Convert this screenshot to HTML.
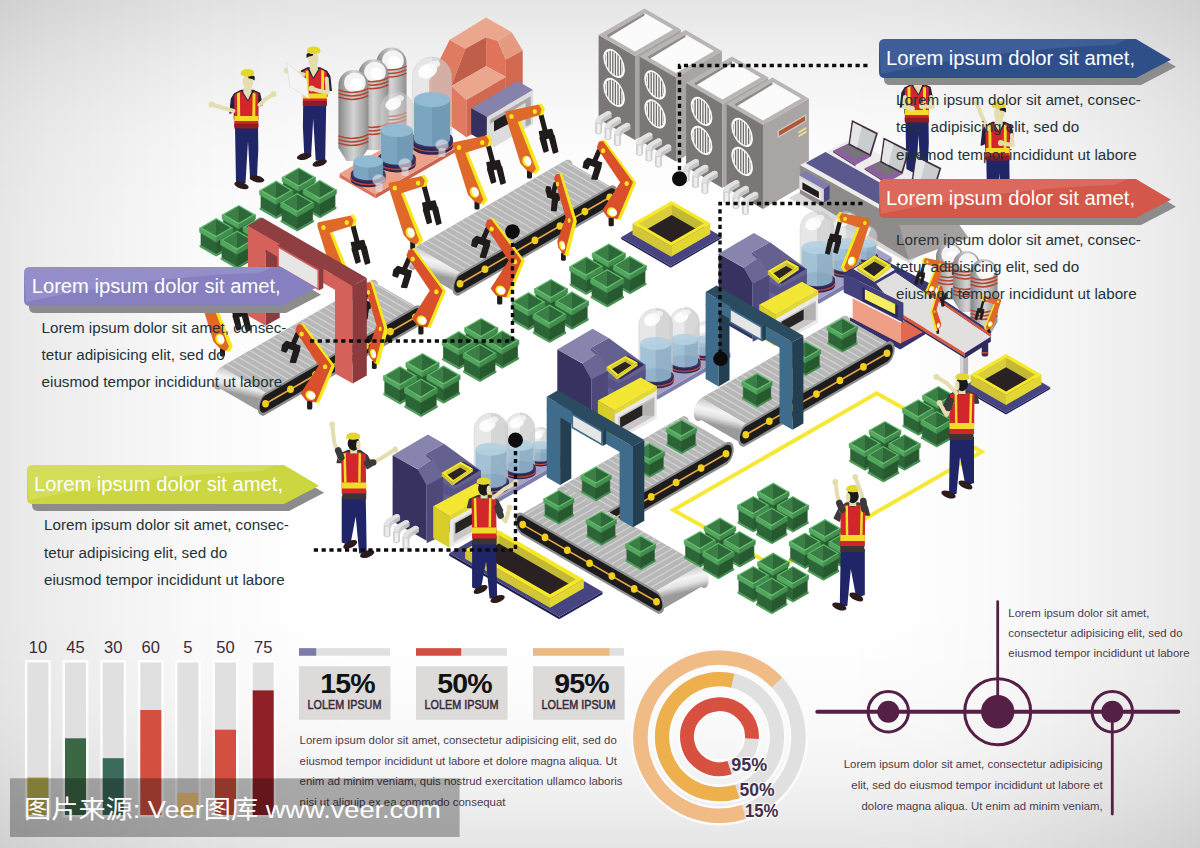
<!DOCTYPE html>
<html lang="zh"><head><meta charset="utf-8"><title>Factory infographic</title>
<style>html,body{margin:0;padding:0;background:#fff}body{width:1200px;height:848px;overflow:hidden}svg{display:block}text{font-family:'Liberation Sans', 'Noto Sans CJK SC', sans-serif}</style></head>
<body>
<svg width="1200" height="848" viewBox="0 0 1200 848">
<defs>
<linearGradient id="bgh" x1="0" y1="0" x2="1" y2="0"><stop offset="0.0000" stop-color="#000" stop-opacity="0.0941"/><stop offset="0.0500" stop-color="#000" stop-opacity="0.0667"/><stop offset="0.1000" stop-color="#000" stop-opacity="0.0471"/><stop offset="0.1667" stop-color="#000" stop-opacity="0.0196"/><stop offset="0.2500" stop-color="#000" stop-opacity="0.0039"/><stop offset="0.3167" stop-color="#000" stop-opacity="0.0000"/><stop offset="0.6833" stop-color="#000" stop-opacity="0.0000"/><stop offset="0.7500" stop-color="#000" stop-opacity="0.0039"/><stop offset="0.8333" stop-color="#000" stop-opacity="0.0196"/><stop offset="0.9000" stop-color="#000" stop-opacity="0.0471"/><stop offset="0.9500" stop-color="#000" stop-opacity="0.0667"/><stop offset="1.0000" stop-color="#000" stop-opacity="0.0941"/></linearGradient><linearGradient id="bgv" x1="0" y1="0" x2="0" y2="1"><stop offset="0.0000" stop-color="#000" stop-opacity="0.1020"/><stop offset="0.0708" stop-color="#000" stop-opacity="0.0549"/><stop offset="0.1297" stop-color="#000" stop-opacity="0.0275"/><stop offset="0.1651" stop-color="#000" stop-opacity="0.0157"/><stop offset="0.2358" stop-color="#000" stop-opacity="0.0039"/><stop offset="0.2948" stop-color="#000" stop-opacity="0.0000"/><stop offset="0.7052" stop-color="#000" stop-opacity="0.0000"/><stop offset="0.7642" stop-color="#000" stop-opacity="0.0039"/><stop offset="0.8349" stop-color="#000" stop-opacity="0.0157"/><stop offset="0.8703" stop-color="#000" stop-opacity="0.0275"/><stop offset="0.9292" stop-color="#000" stop-opacity="0.0549"/><stop offset="1.0000" stop-color="#000" stop-opacity="0.1020"/></linearGradient>
</defs>
<rect x="0.0" y="0.0" width="1200.0" height="848.0" fill="#ffffff" /><rect x="0.0" y="0.0" width="1200.0" height="848.0" fill="url(#bgh)" /><rect x="0.0" y="0.0" width="1200.0" height="848.0" fill="url(#bgv)" />
<g id="illustration">
<polygon points="876.7,393.3 981.7,451.7 778.3,568.4 673.3,510.0" fill="none" stroke="#f5e836" stroke-width="4" stroke-linejoin="miter"/><polygon points="635.0,140.0 598.6,119.0 598.6,35.0 635.0,56.0" fill="#7b7776" /><polygon points="635.0,140.0 680.9,113.5 680.9,29.5 635.0,56.0" fill="#a9a5a4" /><polygon points="635.0,56.0 598.6,35.0 644.5,8.5 680.9,29.5" fill="#b9b5b4" /><polygon points="635.0,51.5 606.4,35.0 644.5,13.0 673.1,29.5" fill="#fbfbfb" /><polygon points="606.4,35.0 644.5,13.0 644.5,15.5 608.4,37.5" fill="#8f8b8a" /><g transform="translate(614.1,63.4) matrix(1,0.577,0,1,0,0)"><ellipse cx="0.0" cy="0.0" rx="10.8" ry="13.2" fill="#ffffff" /><ellipse cx="0.0" cy="0.0" rx="9.0" ry="11.4" fill="#6f6b6a" /><line x1="-7.8" y1="-5.7" x2="-7.8" y2="5.7" stroke="#ffffff" stroke-width="1.25" /><line x1="-5.2" y1="-9.3" x2="-5.2" y2="9.3" stroke="#ffffff" stroke-width="1.25" /><line x1="-2.6" y1="-10.9" x2="-2.6" y2="10.9" stroke="#ffffff" stroke-width="1.25" /><line x1="0.0" y1="-11.4" x2="0.0" y2="11.4" stroke="#ffffff" stroke-width="1.25" /><line x1="2.6" y1="-10.9" x2="2.6" y2="10.9" stroke="#ffffff" stroke-width="1.25" /><line x1="5.2" y1="-9.3" x2="5.2" y2="9.3" stroke="#ffffff" stroke-width="1.25" /><line x1="7.8" y1="-5.7" x2="7.8" y2="5.7" stroke="#ffffff" stroke-width="1.25" /></g><g transform="translate(614.1,92.4) matrix(1,0.577,0,1,0,0)"><ellipse cx="0.0" cy="0.0" rx="10.8" ry="13.2" fill="#ffffff" /><ellipse cx="0.0" cy="0.0" rx="9.0" ry="11.4" fill="#6f6b6a" /><line x1="-7.8" y1="-5.7" x2="-7.8" y2="5.7" stroke="#ffffff" stroke-width="1.25" /><line x1="-5.2" y1="-9.3" x2="-5.2" y2="9.3" stroke="#ffffff" stroke-width="1.25" /><line x1="-2.6" y1="-10.9" x2="-2.6" y2="10.9" stroke="#ffffff" stroke-width="1.25" /><line x1="0.0" y1="-11.4" x2="0.0" y2="11.4" stroke="#ffffff" stroke-width="1.25" /><line x1="2.6" y1="-10.9" x2="2.6" y2="10.9" stroke="#ffffff" stroke-width="1.25" /><line x1="5.2" y1="-9.3" x2="5.2" y2="9.3" stroke="#ffffff" stroke-width="1.25" /><line x1="7.8" y1="-5.7" x2="7.8" y2="5.7" stroke="#ffffff" stroke-width="1.25" /></g><path d="M595.1,132.7 l0,-10 q0.5,-5 5,-7.5 l7,-4 q3,-1 4.5,2 l0,4 l-7.5,4.5 q-2,1.5 -2,4 l0,7 q-3.5,3.5 -7,0 Z" fill="#cbcbcb" opacity="0.93"/><path d="M595.1,122.7 q0.5,-5 5,-7.5 l7,-4 q3,-1 4.5,2 l-8,4.5 q-3,2 -3.5,5 Z" fill="#e4e4e4" opacity="0.95"/><path d="M596.9,123.7 l0,9 q1.7,1.6 3.4,0 l0,-9 Z" fill="#f6f6f6" opacity="0.8"/><path d="M604.5,138.6 l0,-10 q0.5,-5 5,-7.5 l7,-4 q3,-1 4.5,2 l0,4 l-7.5,4.5 q-2,1.5 -2,4 l0,7 q-3.5,3.5 -7,0 Z" fill="#cbcbcb" opacity="0.93"/><path d="M604.5,128.6 q0.5,-5 5,-7.5 l7,-4 q3,-1 4.5,2 l-8,4.5 q-3,2 -3.5,5 Z" fill="#e4e4e4" opacity="0.95"/><path d="M606.3,129.6 l0,9 q1.7,1.6 3.4,0 l0,-9 Z" fill="#f6f6f6" opacity="0.8"/><path d="M613.9,144.5 l0,-10 q0.5,-5 5,-7.5 l7,-4 q3,-1 4.5,2 l0,4 l-7.5,4.5 q-2,1.5 -2,4 l0,7 q-3.5,3.5 -7,0 Z" fill="#cbcbcb" opacity="0.93"/><path d="M613.9,134.5 q0.5,-5 5,-7.5 l7,-4 q3,-1 4.5,2 l-8,4.5 q-3,2 -3.5,5 Z" fill="#e4e4e4" opacity="0.95"/><path d="M615.7,135.5 l0,9 q1.7,1.6 3.4,0 l0,-9 Z" fill="#f6f6f6" opacity="0.8"/><polygon points="676.0,161.5 639.6,140.5 639.6,56.5 676.0,77.5" fill="#7b7776" /><polygon points="676.0,161.5 721.9,135.0 721.9,51.0 676.0,77.5" fill="#a9a5a4" /><polygon points="676.0,77.5 639.6,56.5 685.5,30.0 721.9,51.0" fill="#b9b5b4" /><polygon points="676.0,73.0 647.4,56.5 685.5,34.5 714.1,51.0" fill="#fbfbfb" /><polygon points="647.4,56.5 685.5,34.5 685.5,37.0 649.4,59.0" fill="#8f8b8a" /><g transform="translate(655.1,84.9) matrix(1,0.577,0,1,0,0)"><ellipse cx="0.0" cy="0.0" rx="10.8" ry="13.2" fill="#ffffff" /><ellipse cx="0.0" cy="0.0" rx="9.0" ry="11.4" fill="#6f6b6a" /><line x1="-7.8" y1="-5.7" x2="-7.8" y2="5.7" stroke="#ffffff" stroke-width="1.25" /><line x1="-5.2" y1="-9.3" x2="-5.2" y2="9.3" stroke="#ffffff" stroke-width="1.25" /><line x1="-2.6" y1="-10.9" x2="-2.6" y2="10.9" stroke="#ffffff" stroke-width="1.25" /><line x1="0.0" y1="-11.4" x2="0.0" y2="11.4" stroke="#ffffff" stroke-width="1.25" /><line x1="2.6" y1="-10.9" x2="2.6" y2="10.9" stroke="#ffffff" stroke-width="1.25" /><line x1="5.2" y1="-9.3" x2="5.2" y2="9.3" stroke="#ffffff" stroke-width="1.25" /><line x1="7.8" y1="-5.7" x2="7.8" y2="5.7" stroke="#ffffff" stroke-width="1.25" /></g><g transform="translate(655.1,113.9) matrix(1,0.577,0,1,0,0)"><ellipse cx="0.0" cy="0.0" rx="10.8" ry="13.2" fill="#ffffff" /><ellipse cx="0.0" cy="0.0" rx="9.0" ry="11.4" fill="#6f6b6a" /><line x1="-7.8" y1="-5.7" x2="-7.8" y2="5.7" stroke="#ffffff" stroke-width="1.25" /><line x1="-5.2" y1="-9.3" x2="-5.2" y2="9.3" stroke="#ffffff" stroke-width="1.25" /><line x1="-2.6" y1="-10.9" x2="-2.6" y2="10.9" stroke="#ffffff" stroke-width="1.25" /><line x1="0.0" y1="-11.4" x2="0.0" y2="11.4" stroke="#ffffff" stroke-width="1.25" /><line x1="2.6" y1="-10.9" x2="2.6" y2="10.9" stroke="#ffffff" stroke-width="1.25" /><line x1="5.2" y1="-9.3" x2="5.2" y2="9.3" stroke="#ffffff" stroke-width="1.25" /><line x1="7.8" y1="-5.7" x2="7.8" y2="5.7" stroke="#ffffff" stroke-width="1.25" /></g><path d="M636.1,154.2 l0,-10 q0.5,-5 5,-7.5 l7,-4 q3,-1 4.5,2 l0,4 l-7.5,4.5 q-2,1.5 -2,4 l0,7 q-3.5,3.5 -7,0 Z" fill="#cbcbcb" opacity="0.93"/><path d="M636.1,144.2 q0.5,-5 5,-7.5 l7,-4 q3,-1 4.5,2 l-8,4.5 q-3,2 -3.5,5 Z" fill="#e4e4e4" opacity="0.95"/><path d="M637.9,145.2 l0,9 q1.7,1.6 3.4,0 l0,-9 Z" fill="#f6f6f6" opacity="0.8"/><path d="M645.5,160.1 l0,-10 q0.5,-5 5,-7.5 l7,-4 q3,-1 4.5,2 l0,4 l-7.5,4.5 q-2,1.5 -2,4 l0,7 q-3.5,3.5 -7,0 Z" fill="#cbcbcb" opacity="0.93"/><path d="M645.5,150.1 q0.5,-5 5,-7.5 l7,-4 q3,-1 4.5,2 l-8,4.5 q-3,2 -3.5,5 Z" fill="#e4e4e4" opacity="0.95"/><path d="M647.3,151.1 l0,9 q1.7,1.6 3.4,0 l0,-9 Z" fill="#f6f6f6" opacity="0.8"/><path d="M654.9,166.0 l0,-10 q0.5,-5 5,-7.5 l7,-4 q3,-1 4.5,2 l0,4 l-7.5,4.5 q-2,1.5 -2,4 l0,7 q-3.5,3.5 -7,0 Z" fill="#cbcbcb" opacity="0.93"/><path d="M654.9,156.0 q0.5,-5 5,-7.5 l7,-4 q3,-1 4.5,2 l-8,4.5 q-3,2 -3.5,5 Z" fill="#e4e4e4" opacity="0.95"/><path d="M656.7,157.0 l0,9 q1.7,1.6 3.4,0 l0,-9 Z" fill="#f6f6f6" opacity="0.8"/><polygon points="722.5,188.0 686.1,167.0 686.1,83.0 722.5,104.0" fill="#7b7776" /><polygon points="722.5,188.0 768.4,161.5 768.4,77.5 722.5,104.0" fill="#a9a5a4" /><polygon points="722.5,104.0 686.1,83.0 732.0,56.5 768.4,77.5" fill="#b9b5b4" /><polygon points="722.5,99.5 693.9,83.0 732.0,61.0 760.6,77.5" fill="#fbfbfb" /><polygon points="693.9,83.0 732.0,61.0 732.0,63.5 695.9,85.5" fill="#8f8b8a" /><g transform="translate(701.6,111.4) matrix(1,0.577,0,1,0,0)"><ellipse cx="0.0" cy="0.0" rx="10.8" ry="13.2" fill="#ffffff" /><ellipse cx="0.0" cy="0.0" rx="9.0" ry="11.4" fill="#6f6b6a" /><line x1="-7.8" y1="-5.7" x2="-7.8" y2="5.7" stroke="#ffffff" stroke-width="1.25" /><line x1="-5.2" y1="-9.3" x2="-5.2" y2="9.3" stroke="#ffffff" stroke-width="1.25" /><line x1="-2.6" y1="-10.9" x2="-2.6" y2="10.9" stroke="#ffffff" stroke-width="1.25" /><line x1="0.0" y1="-11.4" x2="0.0" y2="11.4" stroke="#ffffff" stroke-width="1.25" /><line x1="2.6" y1="-10.9" x2="2.6" y2="10.9" stroke="#ffffff" stroke-width="1.25" /><line x1="5.2" y1="-9.3" x2="5.2" y2="9.3" stroke="#ffffff" stroke-width="1.25" /><line x1="7.8" y1="-5.7" x2="7.8" y2="5.7" stroke="#ffffff" stroke-width="1.25" /></g><g transform="translate(701.6,140.4) matrix(1,0.577,0,1,0,0)"><ellipse cx="0.0" cy="0.0" rx="10.8" ry="13.2" fill="#ffffff" /><ellipse cx="0.0" cy="0.0" rx="9.0" ry="11.4" fill="#6f6b6a" /><line x1="-7.8" y1="-5.7" x2="-7.8" y2="5.7" stroke="#ffffff" stroke-width="1.25" /><line x1="-5.2" y1="-9.3" x2="-5.2" y2="9.3" stroke="#ffffff" stroke-width="1.25" /><line x1="-2.6" y1="-10.9" x2="-2.6" y2="10.9" stroke="#ffffff" stroke-width="1.25" /><line x1="0.0" y1="-11.4" x2="0.0" y2="11.4" stroke="#ffffff" stroke-width="1.25" /><line x1="2.6" y1="-10.9" x2="2.6" y2="10.9" stroke="#ffffff" stroke-width="1.25" /><line x1="5.2" y1="-9.3" x2="5.2" y2="9.3" stroke="#ffffff" stroke-width="1.25" /><line x1="7.8" y1="-5.7" x2="7.8" y2="5.7" stroke="#ffffff" stroke-width="1.25" /></g><path d="M682.6,180.7 l0,-10 q0.5,-5 5,-7.5 l7,-4 q3,-1 4.5,2 l0,4 l-7.5,4.5 q-2,1.5 -2,4 l0,7 q-3.5,3.5 -7,0 Z" fill="#cbcbcb" opacity="0.93"/><path d="M682.6,170.7 q0.5,-5 5,-7.5 l7,-4 q3,-1 4.5,2 l-8,4.5 q-3,2 -3.5,5 Z" fill="#e4e4e4" opacity="0.95"/><path d="M684.4,171.7 l0,9 q1.7,1.6 3.4,0 l0,-9 Z" fill="#f6f6f6" opacity="0.8"/><path d="M692.0,186.6 l0,-10 q0.5,-5 5,-7.5 l7,-4 q3,-1 4.5,2 l0,4 l-7.5,4.5 q-2,1.5 -2,4 l0,7 q-3.5,3.5 -7,0 Z" fill="#cbcbcb" opacity="0.93"/><path d="M692.0,176.6 q0.5,-5 5,-7.5 l7,-4 q3,-1 4.5,2 l-8,4.5 q-3,2 -3.5,5 Z" fill="#e4e4e4" opacity="0.95"/><path d="M693.8,177.6 l0,9 q1.7,1.6 3.4,0 l0,-9 Z" fill="#f6f6f6" opacity="0.8"/><path d="M701.4,192.5 l0,-10 q0.5,-5 5,-7.5 l7,-4 q3,-1 4.5,2 l0,4 l-7.5,4.5 q-2,1.5 -2,4 l0,7 q-3.5,3.5 -7,0 Z" fill="#cbcbcb" opacity="0.93"/><path d="M701.4,182.5 q0.5,-5 5,-7.5 l7,-4 q3,-1 4.5,2 l-8,4.5 q-3,2 -3.5,5 Z" fill="#e4e4e4" opacity="0.95"/><path d="M703.2,183.5 l0,9 q1.7,1.6 3.4,0 l0,-9 Z" fill="#f6f6f6" opacity="0.8"/><polygon points="763.0,209.0 726.6,188.0 726.6,104.0 763.0,125.0" fill="#7b7776" /><polygon points="763.0,209.0 808.9,182.5 808.9,98.5 763.0,125.0" fill="#a9a5a4" /><polygon points="763.0,125.0 726.6,104.0 772.5,77.5 808.9,98.5" fill="#b9b5b4" /><polygon points="763.0,120.5 734.4,104.0 772.5,82.0 801.1,98.5" fill="#fbfbfb" /><polygon points="734.4,104.0 772.5,82.0 772.5,84.5 736.4,106.5" fill="#8f8b8a" /><g transform="translate(742.1,132.4) matrix(1,0.577,0,1,0,0)"><ellipse cx="0.0" cy="0.0" rx="10.8" ry="13.2" fill="#ffffff" /><ellipse cx="0.0" cy="0.0" rx="9.0" ry="11.4" fill="#6f6b6a" /><line x1="-7.8" y1="-5.7" x2="-7.8" y2="5.7" stroke="#ffffff" stroke-width="1.25" /><line x1="-5.2" y1="-9.3" x2="-5.2" y2="9.3" stroke="#ffffff" stroke-width="1.25" /><line x1="-2.6" y1="-10.9" x2="-2.6" y2="10.9" stroke="#ffffff" stroke-width="1.25" /><line x1="0.0" y1="-11.4" x2="0.0" y2="11.4" stroke="#ffffff" stroke-width="1.25" /><line x1="2.6" y1="-10.9" x2="2.6" y2="10.9" stroke="#ffffff" stroke-width="1.25" /><line x1="5.2" y1="-9.3" x2="5.2" y2="9.3" stroke="#ffffff" stroke-width="1.25" /><line x1="7.8" y1="-5.7" x2="7.8" y2="5.7" stroke="#ffffff" stroke-width="1.25" /></g><g transform="translate(742.1,161.4) matrix(1,0.577,0,1,0,0)"><ellipse cx="0.0" cy="0.0" rx="10.8" ry="13.2" fill="#ffffff" /><ellipse cx="0.0" cy="0.0" rx="9.0" ry="11.4" fill="#6f6b6a" /><line x1="-7.8" y1="-5.7" x2="-7.8" y2="5.7" stroke="#ffffff" stroke-width="1.25" /><line x1="-5.2" y1="-9.3" x2="-5.2" y2="9.3" stroke="#ffffff" stroke-width="1.25" /><line x1="-2.6" y1="-10.9" x2="-2.6" y2="10.9" stroke="#ffffff" stroke-width="1.25" /><line x1="0.0" y1="-11.4" x2="0.0" y2="11.4" stroke="#ffffff" stroke-width="1.25" /><line x1="2.6" y1="-10.9" x2="2.6" y2="10.9" stroke="#ffffff" stroke-width="1.25" /><line x1="5.2" y1="-9.3" x2="5.2" y2="9.3" stroke="#ffffff" stroke-width="1.25" /><line x1="7.8" y1="-5.7" x2="7.8" y2="5.7" stroke="#ffffff" stroke-width="1.25" /></g><polygon points="777.7,138.0 806.3,121.5 806.3,114.0 777.7,130.5" fill="#cbc7c6" /><polygon points="779.0,135.8 805.0,120.8 805.0,116.2 779.0,131.2" fill="#b4552f" /><polygon points="798.5,133.5 806.3,129.0 806.3,127.0 798.5,131.5" fill="#efe58a" /><polygon points="798.5,137.3 806.3,132.8 806.3,130.8 798.5,135.3" fill="#efe58a" /><path d="M723.1,201.7 l0,-10 q0.5,-5 5,-7.5 l7,-4 q3,-1 4.5,2 l0,4 l-7.5,4.5 q-2,1.5 -2,4 l0,7 q-3.5,3.5 -7,0 Z" fill="#cbcbcb" opacity="0.93"/><path d="M723.1,191.7 q0.5,-5 5,-7.5 l7,-4 q3,-1 4.5,2 l-8,4.5 q-3,2 -3.5,5 Z" fill="#e4e4e4" opacity="0.95"/><path d="M724.9,192.7 l0,9 q1.7,1.6 3.4,0 l0,-9 Z" fill="#f6f6f6" opacity="0.8"/><path d="M732.5,207.6 l0,-10 q0.5,-5 5,-7.5 l7,-4 q3,-1 4.5,2 l0,4 l-7.5,4.5 q-2,1.5 -2,4 l0,7 q-3.5,3.5 -7,0 Z" fill="#cbcbcb" opacity="0.93"/><path d="M732.5,197.6 q0.5,-5 5,-7.5 l7,-4 q3,-1 4.5,2 l-8,4.5 q-3,2 -3.5,5 Z" fill="#e4e4e4" opacity="0.95"/><path d="M734.3,198.6 l0,9 q1.7,1.6 3.4,0 l0,-9 Z" fill="#f6f6f6" opacity="0.8"/><path d="M741.9,213.5 l0,-10 q0.5,-5 5,-7.5 l7,-4 q3,-1 4.5,2 l0,4 l-7.5,4.5 q-2,1.5 -2,4 l0,7 q-3.5,3.5 -7,0 Z" fill="#cbcbcb" opacity="0.93"/><path d="M741.9,203.5 q0.5,-5 5,-7.5 l7,-4 q3,-1 4.5,2 l-8,4.5 q-3,2 -3.5,5 Z" fill="#e4e4e4" opacity="0.95"/><path d="M743.7,204.5 l0,9 q1.7,1.6 3.4,0 l0,-9 Z" fill="#f6f6f6" opacity="0.8"/><polygon points="235.0,126.0 258.0,126.0 258.3,149.0 257.0,177.0 250.0,177.0 248.0,141.0 245.5,183.0 236.0,183.0" fill="#1f2566" /><ellipse cx="241.5" cy="185.5" rx="7.5" ry="3.2" fill="#2b1b1b" transform="rotate(18 241.5 185.5)"/><ellipse cx="257.0" cy="179.0" rx="7.5" ry="3.2" fill="#2b1b1b" transform="rotate(12 257.0 179.0)"/><polygon points="234.5,94.0 241.5,90.5 253.5,90.5 259.5,93.5 262.0,105.0 257.5,107.0 257.5,119.0 234.5,119.0 234.5,111.0 230.0,113.0 231.5,99.0" fill="#23233f" stroke="#23233f" stroke-width="1.5" stroke-linejoin="round"/><polygon points="244.5,86.0 251.0,86.0 251.5,92.0 248.0,100.0 243.0,92.0" fill="#e3ddb0" /><polygon points="234.3,95.0 241.0,91.0 248.0,101.5 254.0,91.0 258.3,94.0 258.3,127.0 234.3,127.0" fill="#d3262b" /><polygon points="234.3,123.5 258.3,123.5 258.3,128.5 234.3,128.5" fill="#8e1c22" /><polygon points="237.0,93.6 239.9,92.2 240.2,116.0 237.3,116.0" fill="#f2dc27" /><polygon points="252.7,93.0 255.5,93.4 255.3,116.0 252.3,116.0" fill="#f2dc27" /><polygon points="234.3,116.0 258.3,116.0 258.3,121.0 234.3,121.0" fill="#f2dc27" /><ellipse cx="248.0" cy="81.5" rx="5.3" ry="7.6" fill="#e3ddb0" /><path d="M247.7,75.5 q4,-1.5 7,1 l0,4 q-3,-2.5 -6,-2 Z" fill="#1f1a1a" /><ellipse cx="247.5" cy="72.8" rx="6.6" ry="3.9" fill="#e3d62f" /><path d="M240.8,73.2 l13.4,0 l0,2 q-6.5,2 -13.4,0 Z" fill="#e3d62f" /><polyline points="233.5,111.0 223.5,108.0 211.5,104.5" fill="none" stroke="#e3ddb0" stroke-width="4.0" stroke-linecap="round" stroke-linejoin="round"/><circle cx="211.5" cy="104.5" r="2.9" fill="#e3ddb0" /><polyline points="259.5,105.0 265.5,99.0 273.5,94.0" fill="none" stroke="#e3ddb0" stroke-width="4.0" stroke-linecap="round" stroke-linejoin="round"/><circle cx="273.5" cy="94.0" r="2.9" fill="#e3ddb0" /><g transform="translate(313.7,0) scale(-1,1) translate(-313.7,0)"><polygon points="301.2,103.5 324.2,103.5 324.5,126.5 323.2,154.5 316.2,154.5 314.2,118.5 311.7,160.5 302.2,160.5" fill="#1f2566" /><ellipse cx="307.7" cy="163.0" rx="7.5" ry="3.2" fill="#2b1b1b" transform="rotate(18 307.7 163.0)"/><ellipse cx="323.2" cy="156.5" rx="7.5" ry="3.2" fill="#2b1b1b" transform="rotate(12 323.2 156.5)"/><polygon points="300.7,71.5 307.7,68.0 319.7,68.0 325.7,71.0 328.2,82.5 323.7,84.5 323.7,96.5 300.7,96.5 300.7,88.5 296.2,90.5 297.7,76.5" fill="#23233f" stroke="#23233f" stroke-width="1.5" stroke-linejoin="round"/><polygon points="310.7,63.5 317.2,63.5 317.7,69.5 314.2,77.5 309.2,69.5" fill="#e3ddb0" /><polygon points="300.5,72.5 307.2,68.5 314.2,79.0 320.2,68.5 324.5,71.5 324.5,104.5 300.5,104.5" fill="#d3262b" /><polygon points="300.5,101.0 324.5,101.0 324.5,106.0 300.5,106.0" fill="#8e1c22" /><polygon points="303.2,71.1 306.1,69.7 306.4,93.5 303.5,93.5" fill="#f2dc27" /><polygon points="318.9,70.5 321.7,70.9 321.5,93.5 318.5,93.5" fill="#f2dc27" /><polygon points="300.5,93.5 324.5,93.5 324.5,98.5 300.5,98.5" fill="#f2dc27" /><ellipse cx="314.2" cy="59.0" rx="5.3" ry="7.6" fill="#e3ddb0" /><path d="M313.9,53.0 q4,-1.5 7,1 l0,4 q-3,-2.5 -6,-2 Z" fill="#1f1a1a" /><ellipse cx="313.7" cy="50.3" rx="6.6" ry="3.9" fill="#e3d62f" /><path d="M307.0,50.7 l13.4,0 l0,2 q-6.5,2 -13.4,0 Z" fill="#e3d62f" /><polyline points="300.7,78.5 299.7,92.5 309.7,90.5 315.7,88.5" fill="none" stroke="#e3ddb0" stroke-width="4.0" stroke-linecap="round" stroke-linejoin="round"/><circle cx="315.7" cy="88.5" r="2.9" fill="#e3ddb0" /><polyline points="323.7,74.5 333.7,72.5 340.7,70.5" fill="none" stroke="#e3ddb0" stroke-width="4.0" stroke-linecap="round" stroke-linejoin="round"/><circle cx="340.7" cy="70.5" r="2.9" fill="#e3ddb0" /><polygon points="340.7,62.5 320.7,79.5 318.7,98.5 337.7,86.5" fill="#f4f4f4" stroke="#d6d6d6" stroke-width="0.6"/></g><polygon points="282.1,194.1 298.8,203.7 298.8,205.9 282.1,196.3" fill="#4aa158" /><polygon points="315.4,194.1 298.8,203.7 298.8,205.9 315.4,196.3" fill="#3f8e4c" /><polygon points="283.5,180.6 298.8,189.4 298.8,203.4 283.5,194.6" fill="#2c6537" stroke="#2c6537" stroke-width="0.7"/><polygon points="314.0,180.6 298.8,189.4 298.8,203.4 314.0,194.6" fill="#27592f" stroke="#27592f" stroke-width="0.7"/><polygon points="282.1,177.0 298.8,186.6 298.8,191.2 282.1,181.6" fill="#52a65d" stroke="#52a65d" stroke-width="0.6"/><polygon points="315.4,177.0 298.8,186.6 298.8,191.2 315.4,181.6" fill="#428c4d" stroke="#428c4d" stroke-width="0.6"/><polygon points="298.8,167.4 315.4,177.0 298.8,186.6 282.1,177.0" fill="#5cb869" /><polygon points="298.8,169.1 312.4,177.0 298.8,184.9 285.1,177.0" fill="#2c6636" /><polygon points="285.1,177.0 298.8,169.1 298.8,180.4 298.8,184.9" fill="#3b7f46" /><polygon points="298.8,169.1 312.4,177.0 298.8,184.9 298.8,180.4" fill="#2e6838" /><polygon points="259.6,207.3 276.2,216.9 276.2,219.1 259.6,209.5" fill="#4aa158" /><polygon points="292.9,207.3 276.2,216.9 276.2,219.1 292.9,209.5" fill="#3f8e4c" /><polygon points="261.0,193.8 276.2,202.6 276.2,216.6 261.0,207.8" fill="#2c6537" stroke="#2c6537" stroke-width="0.7"/><polygon points="291.5,193.8 276.2,202.6 276.2,216.6 291.5,207.8" fill="#27592f" stroke="#27592f" stroke-width="0.7"/><polygon points="259.6,190.2 276.2,199.8 276.2,204.4 259.6,194.8" fill="#52a65d" stroke="#52a65d" stroke-width="0.6"/><polygon points="292.9,190.2 276.2,199.8 276.2,204.4 292.9,194.8" fill="#428c4d" stroke="#428c4d" stroke-width="0.6"/><polygon points="276.2,180.6 292.9,190.2 276.2,199.8 259.6,190.2" fill="#5cb869" /><polygon points="276.2,182.3 289.9,190.2 276.2,198.1 262.6,190.2" fill="#2c6636" /><polygon points="262.6,190.2 276.2,182.3 276.2,193.6 276.2,198.1" fill="#3b7f46" /><polygon points="276.2,182.3 289.9,190.2 276.2,198.1 276.2,193.6" fill="#2e6838" /><polygon points="303.1,206.5 319.8,216.1 319.8,218.3 303.1,208.7" fill="#4aa158" /><polygon points="336.4,206.5 319.8,216.1 319.8,218.3 336.4,208.7" fill="#3f8e4c" /><polygon points="304.5,193.0 319.8,201.8 319.8,215.8 304.5,207.0" fill="#2c6537" stroke="#2c6537" stroke-width="0.7"/><polygon points="335.0,193.0 319.8,201.8 319.8,215.8 335.0,207.0" fill="#27592f" stroke="#27592f" stroke-width="0.7"/><polygon points="303.1,189.4 319.8,199.0 319.8,203.6 303.1,194.0" fill="#52a65d" stroke="#52a65d" stroke-width="0.6"/><polygon points="336.4,189.4 319.8,199.0 319.8,203.6 336.4,194.0" fill="#428c4d" stroke="#428c4d" stroke-width="0.6"/><polygon points="319.8,179.8 336.4,189.4 319.8,199.0 303.1,189.4" fill="#5cb869" /><polygon points="319.8,181.5 333.4,189.4 319.8,197.3 306.1,189.4" fill="#2c6636" /><polygon points="306.1,189.4 319.8,181.5 319.8,192.8 319.8,197.3" fill="#3b7f46" /><polygon points="319.8,181.5 333.4,189.4 319.8,197.3 319.8,192.8" fill="#2e6838" /><polygon points="280.6,219.7 297.2,229.3 297.2,231.5 280.6,221.9" fill="#4aa158" /><polygon points="313.9,219.7 297.2,229.3 297.2,231.5 313.9,221.9" fill="#3f8e4c" /><polygon points="282.0,206.2 297.2,215.0 297.2,229.0 282.0,220.2" fill="#2c6537" stroke="#2c6537" stroke-width="0.7"/><polygon points="312.5,206.2 297.2,215.0 297.2,229.0 312.5,220.2" fill="#27592f" stroke="#27592f" stroke-width="0.7"/><polygon points="280.6,202.6 297.2,212.2 297.2,216.8 280.6,207.2" fill="#52a65d" stroke="#52a65d" stroke-width="0.6"/><polygon points="313.9,202.6 297.2,212.2 297.2,216.8 313.9,207.2" fill="#428c4d" stroke="#428c4d" stroke-width="0.6"/><polygon points="297.2,193.0 313.9,202.6 297.2,212.2 280.6,202.6" fill="#5cb869" /><polygon points="297.2,194.7 310.9,202.6 297.2,210.5 283.6,202.6" fill="#2c6636" /><polygon points="283.6,202.6 297.2,194.7 297.2,206.0 297.2,210.5" fill="#3b7f46" /><polygon points="297.2,194.7 310.9,202.6 297.2,210.5 297.2,206.0" fill="#2e6838" /><polygon points="222.1,231.6 238.8,241.2 238.8,243.4 222.1,233.8" fill="#4aa158" /><polygon points="255.4,231.6 238.8,241.2 238.8,243.4 255.4,233.8" fill="#3f8e4c" /><polygon points="223.5,218.1 238.8,226.9 238.8,240.9 223.5,232.1" fill="#2c6537" stroke="#2c6537" stroke-width="0.7"/><polygon points="254.0,218.1 238.8,226.9 238.8,240.9 254.0,232.1" fill="#27592f" stroke="#27592f" stroke-width="0.7"/><polygon points="222.1,214.5 238.8,224.1 238.8,228.7 222.1,219.1" fill="#52a65d" stroke="#52a65d" stroke-width="0.6"/><polygon points="255.4,214.5 238.8,224.1 238.8,228.7 255.4,219.1" fill="#428c4d" stroke="#428c4d" stroke-width="0.6"/><polygon points="238.8,204.9 255.4,214.5 238.8,224.1 222.1,214.5" fill="#5cb869" /><polygon points="238.8,206.6 252.4,214.5 238.8,222.4 225.1,214.5" fill="#2c6636" /><polygon points="225.1,214.5 238.8,206.6 238.8,217.9 238.8,222.4" fill="#3b7f46" /><polygon points="238.8,206.6 252.4,214.5 238.8,222.4 238.8,217.9" fill="#2e6838" /><polygon points="199.6,244.8 216.2,254.4 216.2,256.6 199.6,247.0" fill="#4aa158" /><polygon points="232.9,244.8 216.2,254.4 216.2,256.6 232.9,247.0" fill="#3f8e4c" /><polygon points="201.0,231.3 216.2,240.1 216.2,254.1 201.0,245.3" fill="#2c6537" stroke="#2c6537" stroke-width="0.7"/><polygon points="231.5,231.3 216.2,240.1 216.2,254.1 231.5,245.3" fill="#27592f" stroke="#27592f" stroke-width="0.7"/><polygon points="199.6,227.7 216.2,237.3 216.2,241.9 199.6,232.3" fill="#52a65d" stroke="#52a65d" stroke-width="0.6"/><polygon points="232.9,227.7 216.2,237.3 216.2,241.9 232.9,232.3" fill="#428c4d" stroke="#428c4d" stroke-width="0.6"/><polygon points="216.2,218.1 232.9,227.7 216.2,237.3 199.6,227.7" fill="#5cb869" /><polygon points="216.2,219.8 229.9,227.7 216.2,235.6 202.6,227.7" fill="#2c6636" /><polygon points="202.6,227.7 216.2,219.8 216.2,231.1 216.2,235.6" fill="#3b7f46" /><polygon points="216.2,219.8 229.9,227.7 216.2,235.6 216.2,231.1" fill="#2e6838" /><polygon points="243.1,244.0 259.8,253.6 259.8,255.8 243.1,246.2" fill="#4aa158" /><polygon points="276.4,244.0 259.8,253.6 259.8,255.8 276.4,246.2" fill="#3f8e4c" /><polygon points="244.5,230.5 259.8,239.3 259.8,253.3 244.5,244.5" fill="#2c6537" stroke="#2c6537" stroke-width="0.7"/><polygon points="275.0,230.5 259.8,239.3 259.8,253.3 275.0,244.5" fill="#27592f" stroke="#27592f" stroke-width="0.7"/><polygon points="243.1,226.9 259.8,236.5 259.8,241.1 243.1,231.5" fill="#52a65d" stroke="#52a65d" stroke-width="0.6"/><polygon points="276.4,226.9 259.8,236.5 259.8,241.1 276.4,231.5" fill="#428c4d" stroke="#428c4d" stroke-width="0.6"/><polygon points="259.8,217.3 276.4,226.9 259.8,236.5 243.1,226.9" fill="#5cb869" /><polygon points="259.8,219.0 273.4,226.9 259.8,234.8 246.1,226.9" fill="#2c6636" /><polygon points="246.1,226.9 259.8,219.0 259.8,230.3 259.8,234.8" fill="#3b7f46" /><polygon points="259.8,219.0 273.4,226.9 259.8,234.8 259.8,230.3" fill="#2e6838" /><polygon points="220.6,257.2 237.2,266.8 237.2,269.0 220.6,259.4" fill="#4aa158" /><polygon points="253.9,257.2 237.2,266.8 237.2,269.0 253.9,259.4" fill="#3f8e4c" /><polygon points="222.0,243.7 237.2,252.5 237.2,266.5 222.0,257.7" fill="#2c6537" stroke="#2c6537" stroke-width="0.7"/><polygon points="252.5,243.7 237.2,252.5 237.2,266.5 252.5,257.7" fill="#27592f" stroke="#27592f" stroke-width="0.7"/><polygon points="220.6,240.1 237.2,249.7 237.2,254.3 220.6,244.7" fill="#52a65d" stroke="#52a65d" stroke-width="0.6"/><polygon points="253.9,240.1 237.2,249.7 237.2,254.3 253.9,244.7" fill="#428c4d" stroke="#428c4d" stroke-width="0.6"/><polygon points="237.2,230.5 253.9,240.1 237.2,249.7 220.6,240.1" fill="#5cb869" /><polygon points="237.2,232.2 250.9,240.1 237.2,248.0 223.6,240.1" fill="#2c6636" /><polygon points="223.6,240.1 237.2,232.2 237.2,243.5 237.2,248.0" fill="#3b7f46" /><polygon points="237.2,232.2 250.9,240.1 237.2,248.0 237.2,243.5" fill="#2e6838" /><polygon points="429.1,81.0 449.7,39.7 465.4,48.8 451.4,86.0 451.4,126.5 429.1,115.7" fill="#e07b61" /><polygon points="449.7,39.7 486.1,17.4 511.7,32.3 497.6,41.1 486.1,37.3 465.4,48.8" fill="#eba78e" /><polygon points="465.4,48.8 486.1,37.3 486.1,66.2 451.4,86.0" fill="#bf5f4a" /><polygon points="486.1,37.3 497.6,41.1 505.9,59.6 505.9,76.9 486.1,66.2" fill="#e0745a" /><polygon points="497.6,41.1 511.7,32.3 522.7,50.5 505.9,59.6" fill="#e59b82" /><polygon points="505.9,59.6 522.7,50.5 522.7,87.6 505.9,95.9" fill="#d2684f" /><polygon points="451.4,86.0 486.1,66.2 505.9,76.9 466.3,100.0" fill="#eba78e" /><polygon points="451.4,86.0 466.3,100.0 466.3,137.2 451.4,126.5" fill="#e07b61" /><polygon points="466.3,100.0 505.9,76.9 505.9,115.7 466.3,137.2" fill="#d2684f" /><polygon points="471.2,108.3 517.5,81.0 533.1,90.1 486.9,117.0" fill="#8583ab" /><polygon points="471.2,108.3 486.9,117.0 486.9,143.0 471.2,134.2" fill="#34305f" /><polygon points="486.9,117.0 533.1,90.1 533.1,124.0 494.3,147.1 486.9,143.0" fill="#dcdcdc" /><polygon points="490.2,119.8 530.7,96.2 530.7,124.0 525.7,126.5 525.7,102.5 490.2,124.0" fill="#a8a8a8" /><polygon points="494.0,121.0 508.4,112.7 508.4,124.0 494.0,131.4" fill="#1e1e1e" /><linearGradient id="st1" x1="0" y1="0" x2="1" y2="0"><stop offset="0" stop-color="#858585"/><stop offset="0.2" stop-color="#a6a6a6"/><stop offset="0.5" stop-color="#d4d4d4"/><stop offset="0.8" stop-color="#adadad"/><stop offset="1" stop-color="#8e8e8e"/></linearGradient><path d="M376.5,62.6 A15.0,15.0 0 0 1 406.5,62.6 L406.5,126.0 L398.2,139.0 L384.8,139.0 L376.5,126.0 Z" fill="url(#st1)" /><ellipse cx="393.0" cy="60.4" rx="10.8" ry="10.2" fill="#f4f4f4" /><ellipse cx="394.5" cy="61.9" rx="6.3" ry="6.0" fill="#ffffff" /><path d="M376.5,67.6 Q391.5,73.1 406.5,66.1" fill="none" stroke="#b8432f" stroke-width="1.5"/><path d="M376.5,71.1 Q391.5,76.6 406.5,69.6" fill="none" stroke="#b8432f" stroke-width="1.5"/><path d="M376.5,74.6 Q391.5,80.1 406.5,73.1" fill="none" stroke="#b8432f" stroke-width="1.5"/><path d="M376.5,114.0 Q391.5,119.5 406.5,112.5" fill="none" stroke="#b8432f" stroke-width="1.5"/><path d="M376.5,117.5 Q391.5,123.0 406.5,116.0" fill="none" stroke="#b8432f" stroke-width="1.5"/><path d="M376.5,121.0 Q391.5,126.5 406.5,119.5" fill="none" stroke="#b8432f" stroke-width="1.5"/><linearGradient id="st2" x1="0" y1="0" x2="1" y2="0"><stop offset="0" stop-color="#858585"/><stop offset="0.2" stop-color="#a6a6a6"/><stop offset="0.5" stop-color="#d4d4d4"/><stop offset="0.8" stop-color="#adadad"/><stop offset="1" stop-color="#8e8e8e"/></linearGradient><path d="M358.5,74.3 A15.0,15.0 0 0 1 388.5,74.3 L388.5,137.0 L380.2,150.0 L366.8,150.0 L358.5,137.0 Z" fill="url(#st2)" /><ellipse cx="375.0" cy="72.0" rx="10.8" ry="10.2" fill="#f4f4f4" /><ellipse cx="376.5" cy="73.5" rx="6.3" ry="6.0" fill="#ffffff" /><path d="M358.5,79.3 Q373.5,84.8 388.5,77.8" fill="none" stroke="#b8432f" stroke-width="1.5"/><path d="M358.5,82.8 Q373.5,88.3 388.5,81.3" fill="none" stroke="#b8432f" stroke-width="1.5"/><path d="M358.5,86.3 Q373.5,91.8 388.5,84.8" fill="none" stroke="#b8432f" stroke-width="1.5"/><path d="M358.5,125.0 Q373.5,130.5 388.5,123.5" fill="none" stroke="#b8432f" stroke-width="1.5"/><path d="M358.5,128.5 Q373.5,134.0 388.5,127.0" fill="none" stroke="#b8432f" stroke-width="1.5"/><path d="M358.5,132.0 Q373.5,137.5 388.5,130.5" fill="none" stroke="#b8432f" stroke-width="1.5"/><linearGradient id="st3" x1="0" y1="0" x2="1" y2="0"><stop offset="0" stop-color="#858585"/><stop offset="0.2" stop-color="#a6a6a6"/><stop offset="0.5" stop-color="#d4d4d4"/><stop offset="0.8" stop-color="#adadad"/><stop offset="1" stop-color="#8e8e8e"/></linearGradient><path d="M338.4,85.0 A15.0,15.0 0 0 1 368.4,85.0 L368.4,148.0 L360.1,161.0 L346.6,161.0 L338.4,148.0 Z" fill="url(#st3)" /><ellipse cx="354.9" cy="82.8" rx="10.8" ry="10.2" fill="#f4f4f4" /><ellipse cx="356.4" cy="84.2" rx="6.3" ry="6.0" fill="#ffffff" /><path d="M338.4,90.0 Q353.4,95.5 368.4,88.5" fill="none" stroke="#b8432f" stroke-width="1.5"/><path d="M338.4,93.5 Q353.4,99.0 368.4,92.0" fill="none" stroke="#b8432f" stroke-width="1.5"/><path d="M338.4,97.0 Q353.4,102.5 368.4,95.5" fill="none" stroke="#b8432f" stroke-width="1.5"/><path d="M338.4,136.0 Q353.4,141.5 368.4,134.5" fill="none" stroke="#b8432f" stroke-width="1.5"/><path d="M338.4,139.5 Q353.4,145.0 368.4,138.0" fill="none" stroke="#b8432f" stroke-width="1.5"/><path d="M338.4,143.0 Q353.4,148.5 368.4,141.5" fill="none" stroke="#b8432f" stroke-width="1.5"/><polygon points="375.7,198.3 339.6,177.5 339.6,173.5 375.7,194.3" fill="#d9745c" /><polygon points="375.7,198.3 457.1,151.3 457.1,147.3 375.7,194.3" fill="#c9634c" /><polygon points="375.7,194.3 339.6,173.5 421.0,126.5 457.1,147.3" fill="#eca28a" /><path d="M412.5,76.5 A19.5,19.5 0 0 1 451.5,76.5 L451.5,139.0 A19.5,8.2 0 0 1 412.5,139.0 Z" fill="#dedede" opacity="0.55" stroke="#c6c6c6" stroke-width="0.8"/><path d="M432.0,57.0 A19.5,19.5 0 0 1 451.5,76.5 L451.5,139.0 A19.5,8.2 0 0 1 432.0,147.2 Z" fill="#a9a9a9" opacity="0.21"/><ellipse cx="427.7" cy="71.0" rx="9.8" ry="7.0" fill="#ffffff" opacity="0.9" transform="rotate(-22 427.7 71.0)"/><ellipse cx="434.3" cy="64.8" rx="6.2" ry="3.9" fill="#f6f6f6" opacity="0.8" transform="rotate(-15 434.3 64.8)"/><path d="M411.0,139.0 L411.0,146.0 A21.0,8.8 0 0 0 453.0,146.0 L453.0,139.0 Z" fill="#2b2856" /><path d="M411.0,142.8 A21.0,8.8 0 0 0 453.0,142.8" fill="none" stroke="#c8452f" stroke-width="1.3"/><ellipse cx="432.0" cy="139.0" rx="21.0" ry="8.8" fill="#3a3768" /><path d="M414.0,99.6 L414.0,139.0 A18.0,7.6 0 0 0 450.0,139.0 L450.0,99.6 Z" fill="#7ba6c0" opacity="1.00"/><path d="M432.0,99.6 L432.0,146.6 A18.0,7.6 0 0 0 450.0,139.0 L450.0,99.6 Z" fill="#1d3d55" opacity="0.10"/><ellipse cx="432.0" cy="99.6" rx="18.0" ry="7.6" fill="#92bad2" opacity="1.00"/><path d="M380.4,108.5 A16.5,16.5 0 0 1 413.4,108.5 L413.4,158.0 A16.5,6.9 0 0 1 380.4,158.0 Z" fill="#dedede" opacity="0.45" stroke="#c6c6c6" stroke-width="0.8"/><path d="M396.9,92.0 A16.5,16.5 0 0 1 413.4,108.5 L413.4,158.0 A16.5,6.9 0 0 1 396.9,164.9 Z" fill="#a9a9a9" opacity="0.17"/><ellipse cx="393.3" cy="103.9" rx="8.2" ry="5.9" fill="#ffffff" opacity="0.9" transform="rotate(-22 393.3 103.9)"/><ellipse cx="398.9" cy="98.6" rx="5.3" ry="3.3" fill="#f6f6f6" opacity="0.8" transform="rotate(-15 398.9 98.6)"/><path d="M378.0,158.0 L378.0,164.5 A18.9,7.9 0 0 0 415.8,164.5 L415.8,158.0 Z" fill="#2b2856" /><path d="M378.0,161.6 A18.9,7.9 0 0 0 415.8,161.6" fill="none" stroke="#c8452f" stroke-width="1.3"/><ellipse cx="396.9" cy="158.0" rx="18.9" ry="7.9" fill="#3a3768" /><path d="M381.0,130.4 L381.0,158.0 A15.9,6.7 0 0 0 412.8,158.0 L412.8,130.4 Z" fill="#7ba6c0" opacity="1.00"/><path d="M396.9,130.4 L396.9,164.7 A15.9,6.7 0 0 0 412.8,158.0 L412.8,130.4 Z" fill="#1d3d55" opacity="0.10"/><ellipse cx="396.9" cy="130.4" rx="15.9" ry="6.7" fill="#92bad2" opacity="1.00"/><path d="M350.8,174.0 L350.8,180.0 A17.4,7.3 0 0 0 385.6,180.0 L385.6,174.0 Z" fill="#2b2856" /><path d="M350.8,177.3 A17.4,7.3 0 0 0 385.6,177.3" fill="none" stroke="#c8452f" stroke-width="1.3"/><ellipse cx="368.2" cy="174.0" rx="17.4" ry="7.3" fill="#3a3768" /><path d="M353.3,161.5 L353.3,174.0 A14.8,6.2 0 0 0 383.1,174.0 L383.1,161.5 Z" fill="#7ba6c0" opacity="1.00"/><path d="M368.2,161.5 L368.2,180.2 A14.8,6.2 0 0 0 383.1,174.0 L383.1,161.5 Z" fill="#1d3d55" opacity="0.10"/><ellipse cx="368.2" cy="161.5" rx="14.8" ry="6.2" fill="#92bad2" opacity="1.00"/><ellipse cx="379.0" cy="180.0" rx="6.5" ry="5.5" fill="#ededf2" opacity="0.60" stroke="#cfcfd8" stroke-width="0.6"/><rect x="375.5" y="183.0" width="7.0" height="9.0" fill="#e3e3e8" opacity="0.60" rx="2"/><ellipse cx="405.0" cy="164.0" rx="6.5" ry="5.5" fill="#ededf2" opacity="0.60" stroke="#cfcfd8" stroke-width="0.6"/><rect x="401.5" y="167.0" width="7.0" height="9.0" fill="#e3e3e8" opacity="0.60" rx="2"/><ellipse cx="442.0" cy="145.0" rx="6.5" ry="5.5" fill="#ededf2" opacity="0.60" stroke="#cfcfd8" stroke-width="0.6"/><rect x="438.5" y="148.0" width="7.0" height="9.0" fill="#e3e3e8" opacity="0.60" rx="2"/><rect x="527.0" y="169.0" width="5.0" height="9.5" fill="#1f1c1b" rx="1.5"/><line x1="541.0" y1="115.0" x2="546.0" y2="134.0" stroke="#1f1c1b" stroke-width="5.0" stroke-linecap="round"/><polygon points="539.5,131.8 551.7,129.6 553.7,136.8 541.1,139.4" fill="#1f1c1b" stroke="#1f1c1b" stroke-width="1.6" stroke-linejoin="round"/><polygon points="540.1,138.0 545.1,137.0 548.1,150.5 544.1,152.0" fill="#1f1c1b" stroke="#1f1c1b" stroke-width="1.4" stroke-linejoin="round"/><polygon points="549.1,136.6 554.1,135.6 557.7,151.5 553.5,153.0" fill="#1f1c1b" stroke="#1f1c1b" stroke-width="1.4" stroke-linejoin="round"/><polygon points="516.5,121.8 519.7,120.8 539.1,168.5 535.9,173.2 532.5,172.0" fill="#f5e91c" stroke-linejoin="round" stroke-width="1.4" stroke="#f5e91c"/><polygon points="537.5,105.5 541.0,104.2 544.1,109.0 542.5,114.4 538.5,115.0" fill="#f5e91c" stroke-linejoin="round" stroke-width="1.4" stroke="#f5e91c"/><polygon points="506.7,112.4 538.0,106.0 540.3,109.5 539.0,113.8 516.1,121.2 534.7,168.6 532.5,171.6 527.0,169.0 521.5,163.0 506.7,115.5" fill="#e0692a" stroke-linejoin="round" stroke-width="2.4" stroke="#e0692a"/><ellipse cx="511.5" cy="116.5" rx="2.2" ry="2.5" fill="#f5e91c" /><ellipse cx="534.8" cy="111.6" rx="2.2" ry="2.5" fill="#f5e91c" /><ellipse cx="526.8" cy="161.3" rx="4.4" ry="5.6" fill="#f5e91c" transform="rotate(-20 526.8 161.3)"/><ellipse cx="527.8" cy="161.0" rx="3.2" ry="4.6" fill="#ffffff" transform="rotate(-20 527.8 161.0)"/><rect x="474.5" y="200.0" width="5.0" height="9.5" fill="#1f1c1b" rx="1.5"/><line x1="488.5" y1="146.0" x2="493.5" y2="165.0" stroke="#1f1c1b" stroke-width="5.0" stroke-linecap="round"/><polygon points="487.0,162.8 499.2,160.6 501.2,167.8 488.6,170.4" fill="#1f1c1b" stroke="#1f1c1b" stroke-width="1.6" stroke-linejoin="round"/><polygon points="487.6,169.0 492.6,168.0 495.6,181.5 491.6,183.0" fill="#1f1c1b" stroke="#1f1c1b" stroke-width="1.4" stroke-linejoin="round"/><polygon points="496.6,167.6 501.6,166.6 505.2,182.5 501.0,184.0" fill="#1f1c1b" stroke="#1f1c1b" stroke-width="1.4" stroke-linejoin="round"/><polygon points="464.0,152.8 467.2,151.8 486.6,199.5 483.4,204.2 480.0,203.0" fill="#f5e91c" stroke-linejoin="round" stroke-width="1.4" stroke="#f5e91c"/><polygon points="485.0,136.5 488.5,135.2 491.6,140.0 490.0,145.4 486.0,146.0" fill="#f5e91c" stroke-linejoin="round" stroke-width="1.4" stroke="#f5e91c"/><polygon points="454.2,143.4 485.5,137.0 487.8,140.5 486.5,144.8 463.6,152.2 482.2,199.6 480.0,202.6 474.5,200.0 469.0,194.0 454.2,146.5" fill="#e0692a" stroke-linejoin="round" stroke-width="2.4" stroke="#e0692a"/><ellipse cx="459.0" cy="147.5" rx="2.2" ry="2.5" fill="#f5e91c" /><ellipse cx="482.3" cy="142.6" rx="2.2" ry="2.5" fill="#f5e91c" /><ellipse cx="474.3" cy="192.3" rx="4.4" ry="5.6" fill="#f5e91c" transform="rotate(-20 474.3 192.3)"/><ellipse cx="475.3" cy="192.0" rx="3.2" ry="4.6" fill="#ffffff" transform="rotate(-20 475.3 192.0)"/><rect x="410.2" y="240.5" width="5.0" height="9.5" fill="#1f1c1b" rx="1.5"/><line x1="424.2" y1="186.5" x2="429.2" y2="205.5" stroke="#1f1c1b" stroke-width="5.0" stroke-linecap="round"/><polygon points="422.8,203.3 434.9,201.1 436.9,208.3 424.4,210.9" fill="#1f1c1b" stroke="#1f1c1b" stroke-width="1.6" stroke-linejoin="round"/><polygon points="423.4,209.5 428.4,208.5 431.4,222.0 427.4,223.5" fill="#1f1c1b" stroke="#1f1c1b" stroke-width="1.4" stroke-linejoin="round"/><polygon points="432.4,208.1 437.4,207.1 440.9,223.0 436.8,224.5" fill="#1f1c1b" stroke="#1f1c1b" stroke-width="1.4" stroke-linejoin="round"/><polygon points="399.8,193.3 402.9,192.3 422.4,240.0 419.1,244.7 415.8,243.5" fill="#f5e91c" stroke-linejoin="round" stroke-width="1.4" stroke="#f5e91c"/><polygon points="420.8,177.0 424.2,175.7 427.4,180.5 425.8,185.9 421.8,186.5" fill="#f5e91c" stroke-linejoin="round" stroke-width="1.4" stroke="#f5e91c"/><polygon points="389.9,183.9 421.2,177.5 423.6,181.0 422.2,185.3 399.4,192.7 417.9,240.1 415.8,243.1 410.2,240.5 404.8,234.5 389.9,187.0" fill="#e0692a" stroke-linejoin="round" stroke-width="2.4" stroke="#e0692a"/><ellipse cx="394.8" cy="188.0" rx="2.2" ry="2.5" fill="#f5e91c" /><ellipse cx="418.1" cy="183.1" rx="2.2" ry="2.5" fill="#f5e91c" /><ellipse cx="410.1" cy="232.8" rx="4.4" ry="5.6" fill="#f5e91c" transform="rotate(-20 410.1 232.8)"/><ellipse cx="411.1" cy="232.5" rx="3.2" ry="4.6" fill="#ffffff" transform="rotate(-20 411.1 232.5)"/><linearGradient id="cv1" gradientUnits="userSpaceOnUse" x1="415.5" y1="245.0" x2="409.8" y2="269.0"><stop offset="0" stop-color="#bdbdbd"/><stop offset="0.45" stop-color="#f4f4f4"/><stop offset="0.7" stop-color="#e2e2e2"/><stop offset="1" stop-color="#9a9a9a"/></linearGradient><polygon points="565.3,160.5 567.0,159.8 568.6,159.7 570.1,160.2 571.3,161.2 572.2,162.8 572.7,164.8 572.9,167.1 572.7,169.7 572.2,172.3 571.3,174.9 570.1,177.4 568.6,179.5 567.0,181.2 565.3,182.5 609.8,208.2 611.5,206.9 613.1,205.2 614.6,203.1 615.8,200.6 616.7,198.0 617.3,195.4 617.5,192.8 617.3,190.5 616.7,188.5 615.8,186.9 614.6,185.9 613.1,185.4 611.5,185.5 609.8,186.2" fill="#b2b2b2" /><polygon points="415.5,247.0 565.3,160.5 609.8,186.2 460.0,272.7" fill="#b7b7b7" /><line x1="421.2" y1="243.7" x2="465.7" y2="269.4" stroke="#d4d4d4" stroke-width="1.1" /><line x1="426.9" y1="240.4" x2="471.4" y2="266.1" stroke="#d4d4d4" stroke-width="1.1" /><line x1="432.6" y1="237.1" x2="477.2" y2="262.8" stroke="#d4d4d4" stroke-width="1.1" /><line x1="438.4" y1="233.8" x2="482.9" y2="259.5" stroke="#d4d4d4" stroke-width="1.1" /><line x1="444.1" y1="230.5" x2="488.6" y2="256.2" stroke="#d4d4d4" stroke-width="1.1" /><line x1="449.8" y1="227.2" x2="494.3" y2="252.9" stroke="#d4d4d4" stroke-width="1.1" /><line x1="455.5" y1="223.9" x2="500.0" y2="249.6" stroke="#d4d4d4" stroke-width="1.1" /><line x1="461.2" y1="220.6" x2="505.7" y2="246.3" stroke="#d4d4d4" stroke-width="1.1" /><line x1="466.9" y1="217.3" x2="511.5" y2="243.0" stroke="#d4d4d4" stroke-width="1.1" /><line x1="472.7" y1="214.0" x2="517.2" y2="239.7" stroke="#d4d4d4" stroke-width="1.1" /><line x1="478.4" y1="210.7" x2="522.9" y2="236.4" stroke="#d4d4d4" stroke-width="1.1" /><line x1="484.1" y1="207.4" x2="528.6" y2="233.1" stroke="#d4d4d4" stroke-width="1.1" /><line x1="489.8" y1="204.1" x2="534.3" y2="229.8" stroke="#d4d4d4" stroke-width="1.1" /><line x1="495.5" y1="200.8" x2="540.0" y2="226.5" stroke="#d4d4d4" stroke-width="1.1" /><line x1="501.2" y1="197.5" x2="545.7" y2="223.2" stroke="#d4d4d4" stroke-width="1.1" /><line x1="506.9" y1="194.2" x2="551.5" y2="219.9" stroke="#d4d4d4" stroke-width="1.1" /><line x1="512.7" y1="190.9" x2="557.2" y2="216.6" stroke="#d4d4d4" stroke-width="1.1" /><line x1="518.4" y1="187.6" x2="562.9" y2="213.3" stroke="#d4d4d4" stroke-width="1.1" /><line x1="524.1" y1="184.3" x2="568.6" y2="210.0" stroke="#d4d4d4" stroke-width="1.1" /><line x1="529.8" y1="181.0" x2="574.3" y2="206.7" stroke="#d4d4d4" stroke-width="1.1" /><line x1="535.5" y1="177.7" x2="580.0" y2="203.4" stroke="#d4d4d4" stroke-width="1.1" /><line x1="541.2" y1="174.4" x2="585.8" y2="200.1" stroke="#d4d4d4" stroke-width="1.1" /><line x1="547.0" y1="171.1" x2="591.5" y2="196.8" stroke="#d4d4d4" stroke-width="1.1" /><line x1="552.7" y1="167.8" x2="597.2" y2="193.5" stroke="#d4d4d4" stroke-width="1.1" /><line x1="558.4" y1="164.5" x2="602.9" y2="190.2" stroke="#d4d4d4" stroke-width="1.1" /><line x1="564.1" y1="161.2" x2="608.6" y2="186.9" stroke="#d4d4d4" stroke-width="1.1" /><polygon points="415.5,247.0 413.8,248.3 412.2,250.0 410.7,252.1 409.5,254.6 408.6,257.2 408.1,259.8 407.9,262.4 408.1,264.7 408.6,266.7 409.5,268.3 410.7,269.3 412.2,269.8 413.8,269.7 415.5,269.0 460.0,294.7 458.3,295.4 456.7,295.5 455.3,295.0 454.1,294.0 453.1,292.4 452.6,290.4 452.4,288.1 452.6,285.5 453.1,282.9 454.1,280.3 455.3,277.8 456.7,275.7 458.3,274.0 460.0,272.7" fill="url(#cv1)" /><polygon points="460.0,272.7 458.3,274.0 456.7,275.7 455.3,277.8 454.1,280.3 453.1,282.9 452.6,285.5 452.4,288.1 452.6,290.4 453.1,292.4 454.1,294.0 455.3,295.0 456.7,295.5 458.3,295.4 460.0,294.7 609.8,208.2 611.5,206.9 613.1,205.2 614.6,203.1 615.8,200.6 616.7,198.0 617.3,195.4 617.5,192.8 617.3,190.5 616.7,188.5 615.8,186.9 614.6,185.9 613.1,185.4 611.5,185.5 609.8,186.2" fill="#8d8d8d" /><polygon points="460.0,275.3 458.7,276.3 457.5,277.6 456.4,279.2 455.5,281.1 454.8,283.1 454.3,285.1 454.2,287.1 454.3,288.8 454.8,290.4 455.5,291.6 456.4,292.4 457.5,292.7 458.7,292.6 460.0,292.1 609.8,205.6 611.1,204.6 612.4,203.3 613.5,201.7 614.4,199.8 615.1,197.8 615.5,195.8 615.6,193.8 615.5,192.1 615.1,190.5 614.4,189.3 613.5,188.5 612.4,188.2 611.1,188.3 609.8,188.8" fill="#1c1c1c" /><line x1="460.0" y1="283.7" x2="609.8" y2="197.2" stroke="#e9a545" stroke-width="1.6" /><ellipse cx="460.0" cy="283.7" rx="3.4" ry="3.8" fill="#f2cf1d" /><ellipse cx="485.0" cy="269.3" rx="3.4" ry="3.8" fill="#f2cf1d" /><ellipse cx="510.0" cy="254.9" rx="3.4" ry="3.8" fill="#f2cf1d" /><ellipse cx="534.9" cy="240.4" rx="3.4" ry="3.8" fill="#f2cf1d" /><ellipse cx="559.9" cy="226.0" rx="3.4" ry="3.8" fill="#f2cf1d" /><ellipse cx="584.9" cy="211.6" rx="3.4" ry="3.8" fill="#f2cf1d" /><ellipse cx="609.8" cy="197.2" rx="3.4" ry="3.8" fill="#f2cf1d" /><rect x="339.0" y="280.0" width="5.0" height="9.5" fill="#1f1c1b" rx="1.5"/><line x1="353.0" y1="226.0" x2="358.0" y2="245.0" stroke="#1f1c1b" stroke-width="5.0" stroke-linecap="round"/><polygon points="351.5,242.8 363.7,240.6 365.7,247.8 353.1,250.4" fill="#1f1c1b" stroke="#1f1c1b" stroke-width="1.6" stroke-linejoin="round"/><polygon points="352.1,249.0 357.1,248.0 360.1,261.5 356.1,263.0" fill="#1f1c1b" stroke="#1f1c1b" stroke-width="1.4" stroke-linejoin="round"/><polygon points="361.1,247.6 366.1,246.6 369.7,262.5 365.5,264.0" fill="#1f1c1b" stroke="#1f1c1b" stroke-width="1.4" stroke-linejoin="round"/><polygon points="328.5,232.8 331.7,231.8 351.1,279.5 347.9,284.2 344.5,283.0" fill="#f5e91c" stroke-linejoin="round" stroke-width="1.4" stroke="#f5e91c"/><polygon points="349.5,216.5 353.0,215.2 356.1,220.0 354.5,225.4 350.5,226.0" fill="#f5e91c" stroke-linejoin="round" stroke-width="1.4" stroke="#f5e91c"/><polygon points="318.7,223.4 350.0,217.0 352.3,220.5 351.0,224.8 328.1,232.2 346.7,279.6 344.5,282.6 339.0,280.0 333.5,274.0 318.7,226.5" fill="#e0692a" stroke-linejoin="round" stroke-width="2.4" stroke="#e0692a"/><ellipse cx="323.5" cy="227.5" rx="2.2" ry="2.5" fill="#f5e91c" /><ellipse cx="346.8" cy="222.6" rx="2.2" ry="2.5" fill="#f5e91c" /><ellipse cx="338.8" cy="272.3" rx="4.4" ry="5.6" fill="#f5e91c" transform="rotate(-20 338.8 272.3)"/><ellipse cx="339.8" cy="272.0" rx="3.2" ry="4.6" fill="#ffffff" transform="rotate(-20 339.8 272.0)"/><rect x="220.0" y="347.0" width="5.0" height="9.5" fill="#1f1c1b" rx="1.5"/><line x1="234.0" y1="293.0" x2="239.0" y2="312.0" stroke="#1f1c1b" stroke-width="5.0" stroke-linecap="round"/><polygon points="232.5,309.8 244.7,307.6 246.7,314.8 234.1,317.4" fill="#1f1c1b" stroke="#1f1c1b" stroke-width="1.6" stroke-linejoin="round"/><polygon points="233.1,316.0 238.1,315.0 241.1,328.5 237.1,330.0" fill="#1f1c1b" stroke="#1f1c1b" stroke-width="1.4" stroke-linejoin="round"/><polygon points="242.1,314.6 247.1,313.6 250.7,329.5 246.5,331.0" fill="#1f1c1b" stroke="#1f1c1b" stroke-width="1.4" stroke-linejoin="round"/><polygon points="209.5,299.8 212.7,298.8 232.1,346.5 228.9,351.2 225.5,350.0" fill="#f5e91c" stroke-linejoin="round" stroke-width="1.4" stroke="#f5e91c"/><polygon points="230.5,283.5 234.0,282.2 237.1,287.0 235.5,292.4 231.5,293.0" fill="#f5e91c" stroke-linejoin="round" stroke-width="1.4" stroke="#f5e91c"/><polygon points="199.7,290.4 231.0,284.0 233.3,287.5 232.0,291.8 209.1,299.2 227.7,346.6 225.5,349.6 220.0,347.0 214.5,341.0 199.7,293.5" fill="#e0692a" stroke-linejoin="round" stroke-width="2.4" stroke="#e0692a"/><ellipse cx="204.5" cy="294.5" rx="2.2" ry="2.5" fill="#f5e91c" /><ellipse cx="227.8" cy="289.6" rx="2.2" ry="2.5" fill="#f5e91c" /><ellipse cx="219.8" cy="339.3" rx="4.4" ry="5.6" fill="#f5e91c" transform="rotate(-20 219.8 339.3)"/><ellipse cx="220.8" cy="339.0" rx="3.2" ry="4.6" fill="#ffffff" transform="rotate(-20 220.8 339.0)"/><polygon points="265.6,325.8 247.9,315.6 247.9,238.6 265.6,248.8" fill="#d5615b" /><polygon points="265.6,325.8 279.7,317.7 279.7,240.7 265.6,248.8" fill="#8b3a3d" /><polygon points="265.6,248.8 247.9,238.6 262.0,230.5 279.7,240.7" fill="#8f3f41" /><linearGradient id="cv2" gradientUnits="userSpaceOnUse" x1="221.0" y1="365.0" x2="215.3" y2="389.0"><stop offset="0" stop-color="#bdbdbd"/><stop offset="0.45" stop-color="#f4f4f4"/><stop offset="0.7" stop-color="#e2e2e2"/><stop offset="1" stop-color="#9a9a9a"/></linearGradient><polygon points="370.8,280.5 372.5,279.8 374.1,279.7 375.6,280.2 376.8,281.2 377.7,282.8 378.2,284.8 378.4,287.1 378.2,289.7 377.7,292.3 376.8,294.9 375.6,297.4 374.1,299.5 372.5,301.2 370.8,302.5 415.3,328.2 417.0,326.9 418.6,325.2 420.1,323.1 421.3,320.6 422.2,318.0 422.8,315.4 423.0,312.8 422.8,310.5 422.2,308.5 421.3,306.9 420.1,305.9 418.6,305.4 417.0,305.5 415.3,306.2" fill="#b2b2b2" /><polygon points="221.0,367.0 370.8,280.5 415.3,306.2 265.5,392.7" fill="#b7b7b7" /><line x1="226.7" y1="363.7" x2="271.2" y2="389.4" stroke="#d4d4d4" stroke-width="1.1" /><line x1="232.4" y1="360.4" x2="276.9" y2="386.1" stroke="#d4d4d4" stroke-width="1.1" /><line x1="238.1" y1="357.1" x2="282.7" y2="382.8" stroke="#d4d4d4" stroke-width="1.1" /><line x1="243.9" y1="353.8" x2="288.4" y2="379.5" stroke="#d4d4d4" stroke-width="1.1" /><line x1="249.6" y1="350.5" x2="294.1" y2="376.2" stroke="#d4d4d4" stroke-width="1.1" /><line x1="255.3" y1="347.2" x2="299.8" y2="372.9" stroke="#d4d4d4" stroke-width="1.1" /><line x1="261.0" y1="343.9" x2="305.5" y2="369.6" stroke="#d4d4d4" stroke-width="1.1" /><line x1="266.7" y1="340.6" x2="311.2" y2="366.3" stroke="#d4d4d4" stroke-width="1.1" /><line x1="272.4" y1="337.3" x2="317.0" y2="363.0" stroke="#d4d4d4" stroke-width="1.1" /><line x1="278.2" y1="334.0" x2="322.7" y2="359.7" stroke="#d4d4d4" stroke-width="1.1" /><line x1="283.9" y1="330.7" x2="328.4" y2="356.4" stroke="#d4d4d4" stroke-width="1.1" /><line x1="289.6" y1="327.4" x2="334.1" y2="353.1" stroke="#d4d4d4" stroke-width="1.1" /><line x1="295.3" y1="324.1" x2="339.8" y2="349.8" stroke="#d4d4d4" stroke-width="1.1" /><line x1="301.0" y1="320.8" x2="345.5" y2="346.5" stroke="#d4d4d4" stroke-width="1.1" /><line x1="306.7" y1="317.5" x2="351.2" y2="343.2" stroke="#d4d4d4" stroke-width="1.1" /><line x1="312.4" y1="314.2" x2="357.0" y2="339.9" stroke="#d4d4d4" stroke-width="1.1" /><line x1="318.2" y1="310.9" x2="362.7" y2="336.6" stroke="#d4d4d4" stroke-width="1.1" /><line x1="323.9" y1="307.6" x2="368.4" y2="333.3" stroke="#d4d4d4" stroke-width="1.1" /><line x1="329.6" y1="304.3" x2="374.1" y2="330.0" stroke="#d4d4d4" stroke-width="1.1" /><line x1="335.3" y1="301.0" x2="379.8" y2="326.7" stroke="#d4d4d4" stroke-width="1.1" /><line x1="341.0" y1="297.7" x2="385.5" y2="323.4" stroke="#d4d4d4" stroke-width="1.1" /><line x1="346.7" y1="294.4" x2="391.3" y2="320.1" stroke="#d4d4d4" stroke-width="1.1" /><line x1="352.5" y1="291.1" x2="397.0" y2="316.8" stroke="#d4d4d4" stroke-width="1.1" /><line x1="358.2" y1="287.8" x2="402.7" y2="313.5" stroke="#d4d4d4" stroke-width="1.1" /><line x1="363.9" y1="284.5" x2="408.4" y2="310.2" stroke="#d4d4d4" stroke-width="1.1" /><line x1="369.6" y1="281.2" x2="414.1" y2="306.9" stroke="#d4d4d4" stroke-width="1.1" /><polygon points="221.0,367.0 219.3,368.3 217.7,370.0 216.2,372.1 215.0,374.6 214.1,377.2 213.6,379.8 213.4,382.4 213.6,384.7 214.1,386.7 215.0,388.3 216.2,389.3 217.7,389.8 219.3,389.7 221.0,389.0 265.5,414.7 263.8,415.4 262.2,415.5 260.8,415.0 259.6,414.0 258.6,412.4 258.1,410.4 257.9,408.1 258.1,405.5 258.6,402.9 259.6,400.3 260.8,397.8 262.2,395.7 263.8,394.0 265.5,392.7" fill="url(#cv2)" /><polygon points="265.5,392.7 263.8,394.0 262.2,395.7 260.8,397.8 259.6,400.3 258.6,402.9 258.1,405.5 257.9,408.1 258.1,410.4 258.6,412.4 259.6,414.0 260.8,415.0 262.2,415.5 263.8,415.4 265.5,414.7 415.3,328.2 417.0,326.9 418.6,325.2 420.1,323.1 421.3,320.6 422.2,318.0 422.8,315.4 423.0,312.8 422.8,310.5 422.2,308.5 421.3,306.9 420.1,305.9 418.6,305.4 417.0,305.5 415.3,306.2" fill="#8d8d8d" /><polygon points="265.5,395.3 264.2,396.3 263.0,397.6 261.9,399.2 261.0,401.1 260.3,403.1 259.8,405.1 259.7,407.1 259.8,408.8 260.3,410.4 261.0,411.6 261.9,412.4 263.0,412.7 264.2,412.6 265.5,412.1 415.3,325.6 416.6,324.6 417.9,323.3 419.0,321.7 419.9,319.8 420.6,317.8 421.0,315.8 421.1,313.8 421.0,312.1 420.6,310.5 419.9,309.3 419.0,308.5 417.9,308.2 416.6,308.3 415.3,308.8" fill="#1c1c1c" /><line x1="265.5" y1="403.7" x2="415.3" y2="317.2" stroke="#e9a545" stroke-width="1.6" /><ellipse cx="265.5" cy="403.7" rx="3.4" ry="3.8" fill="#f2cf1d" /><ellipse cx="290.5" cy="389.3" rx="3.4" ry="3.8" fill="#f2cf1d" /><ellipse cx="315.5" cy="374.9" rx="3.4" ry="3.8" fill="#f2cf1d" /><ellipse cx="340.4" cy="360.4" rx="3.4" ry="3.8" fill="#f2cf1d" /><ellipse cx="365.4" cy="346.0" rx="3.4" ry="3.8" fill="#f2cf1d" /><ellipse cx="390.4" cy="331.6" rx="3.4" ry="3.8" fill="#f2cf1d" /><ellipse cx="415.3" cy="317.2" rx="3.4" ry="3.8" fill="#f2cf1d" /><rect x="608.6" y="216.8" width="5.2" height="9.5" fill="#1f1c1b" rx="1.5"/><line x1="599.1" y1="150.8" x2="594.3" y2="161.8" stroke="#1f1c1b" stroke-width="5.0" stroke-linecap="round"/><polygon points="588.1,158.4 601.5,163.0 599.9,168.2 586.7,163.6" fill="#1f1c1b" stroke="#1f1c1b" stroke-width="1.6" stroke-linejoin="round"/><polygon points="587.3,158.8 591.3,160.4 587.7,168.8 583.3,167.3 584.3,161.8" fill="#1f1c1b" stroke="#1f1c1b" stroke-width="1.4" stroke-linejoin="round"/><polygon points="595.9,165.4 600.9,166.8 596.9,179.3 591.9,178.8" fill="#1f1c1b" stroke="#1f1c1b" stroke-width="1.4" stroke-linejoin="round"/><polygon points="602.3,141.3 604.6,140.8 635.6,182.8 620.3,219.1 616.8,218.6 631.8,182.3" fill="#f5e91c" stroke-linejoin="round" stroke-width="1.4" stroke="#f5e91c"/><polygon points="598.1,147.3 599.7,142.8 602.3,142.3 631.7,182.4 616.9,217.8 608.3,216.4 603.7,210.3 621.6,182.3" fill="#da502a" stroke-linejoin="round" stroke-width="2.4" stroke="#da502a"/><ellipse cx="603.1" cy="150.8" rx="2.2" ry="2.5" fill="#f5e91c" /><ellipse cx="626.7" cy="183.5" rx="2.2" ry="2.5" fill="#f5e91c" /><ellipse cx="611.9" cy="212.1" rx="5.2" ry="4.6" fill="#f5e91c" transform="rotate(35 611.9 212.1)"/><ellipse cx="612.9" cy="212.4" rx="4.2" ry="3.4" fill="#ffffff" transform="rotate(35 612.9 212.4)"/><rect x="561.0" y="252.2" width="4.8" height="8.5" fill="#1f1c1b" rx="1.5"/><line x1="555.6" y1="184.2" x2="553.1" y2="193.2" stroke="#1f1c1b" stroke-width="4.8" stroke-linecap="round"/><polygon points="548.1,191.2 559.6,194.4 559.0,200.2 547.6,196.8" fill="#1f1c1b" stroke="#1f1c1b" stroke-width="1.5" stroke-linejoin="round"/><polygon points="547.6,195.2 551.2,194.2 550.2,187.2 546.8,186.6 546.0,190.2" fill="#1f1c1b" stroke="#1f1c1b" stroke-width="1.3" stroke-linejoin="round"/><polygon points="552.6,198.2 557.6,199.2 556.0,210.7 551.6,210.2" fill="#1f1c1b" stroke="#1f1c1b" stroke-width="1.4" stroke-linejoin="round"/><polygon points="558.8,174.4 561.4,173.8 576.2,221.2 567.6,255.7 564.0,254.2 572.4,220.2" fill="#f5e91c" stroke-linejoin="round" stroke-width="1.4" stroke="#f5e91c"/><polygon points="555.2,178.2 556.6,175.4 558.8,175.0 572.2,220.2 563.8,253.2 559.4,247.2 558.4,241.7 566.8,217.2" fill="#da502a" stroke-linejoin="round" stroke-width="2.2" stroke="#da502a"/><ellipse cx="557.5" cy="184.1" rx="1.5" ry="2.4" fill="#f5e91c" /><ellipse cx="569.2" cy="220.6" rx="1.5" ry="2.4" fill="#f5e91c" /><ellipse cx="562.2" cy="245.4" rx="2.9" ry="4.8" fill="#f5e91c" transform="rotate(-12 562.2 245.4)"/><ellipse cx="562.8" cy="245.6" rx="2.0" ry="3.8" fill="#ffffff" transform="rotate(-12 562.8 245.6)"/><rect x="497.1" y="295.0" width="5.2" height="9.5" fill="#1f1c1b" rx="1.5"/><line x1="487.6" y1="229.0" x2="482.8" y2="240.0" stroke="#1f1c1b" stroke-width="5.0" stroke-linecap="round"/><polygon points="476.6,236.6 489.9,241.2 488.4,246.4 475.1,241.8" fill="#1f1c1b" stroke="#1f1c1b" stroke-width="1.6" stroke-linejoin="round"/><polygon points="475.8,237.0 479.8,238.6 476.1,247.0 471.8,245.5 472.8,240.0" fill="#1f1c1b" stroke="#1f1c1b" stroke-width="1.4" stroke-linejoin="round"/><polygon points="484.4,243.6 489.4,245.0 485.4,257.5 480.4,257.0" fill="#1f1c1b" stroke="#1f1c1b" stroke-width="1.4" stroke-linejoin="round"/><polygon points="490.8,219.5 493.1,219.0 524.0,261.0 508.8,297.3 505.2,296.8 520.2,260.5" fill="#f5e91c" stroke-linejoin="round" stroke-width="1.4" stroke="#f5e91c"/><polygon points="486.6,225.5 488.1,221.0 490.8,220.5 520.1,260.6 505.4,296.0 496.8,294.6 492.1,288.5 510.1,260.5" fill="#da502a" stroke-linejoin="round" stroke-width="2.4" stroke="#da502a"/><ellipse cx="491.6" cy="229.0" rx="2.2" ry="2.5" fill="#f5e91c" /><ellipse cx="515.1" cy="261.7" rx="2.2" ry="2.5" fill="#f5e91c" /><ellipse cx="500.4" cy="290.3" rx="5.2" ry="4.6" fill="#f5e91c" transform="rotate(35 500.4 290.3)"/><ellipse cx="501.4" cy="290.6" rx="4.2" ry="3.4" fill="#ffffff" transform="rotate(35 501.4 290.6)"/><rect x="418.3" y="325.0" width="5.2" height="9.5" fill="#1f1c1b" rx="1.5"/><line x1="408.8" y1="259.0" x2="404.0" y2="270.0" stroke="#1f1c1b" stroke-width="5.0" stroke-linecap="round"/><polygon points="397.8,266.6 411.2,271.2 409.6,276.4 396.4,271.8" fill="#1f1c1b" stroke="#1f1c1b" stroke-width="1.6" stroke-linejoin="round"/><polygon points="397.0,267.0 401.0,268.6 397.4,277.0 393.0,275.5 394.0,270.0" fill="#1f1c1b" stroke="#1f1c1b" stroke-width="1.4" stroke-linejoin="round"/><polygon points="405.6,273.6 410.6,275.0 406.6,287.5 401.6,287.0" fill="#1f1c1b" stroke="#1f1c1b" stroke-width="1.4" stroke-linejoin="round"/><polygon points="412.0,249.5 414.3,249.0 445.3,291.0 430.0,327.3 426.5,326.8 441.5,290.5" fill="#f5e91c" stroke-linejoin="round" stroke-width="1.4" stroke="#f5e91c"/><polygon points="407.8,255.5 409.4,251.0 412.0,250.5 441.4,290.6 426.6,326.0 418.0,324.6 413.4,318.5 431.3,290.5" fill="#da502a" stroke-linejoin="round" stroke-width="2.4" stroke="#da502a"/><ellipse cx="412.8" cy="259.0" rx="2.2" ry="2.5" fill="#f5e91c" /><ellipse cx="436.4" cy="291.7" rx="2.2" ry="2.5" fill="#f5e91c" /><ellipse cx="421.6" cy="320.3" rx="5.2" ry="4.6" fill="#f5e91c" transform="rotate(35 421.6 320.3)"/><ellipse cx="422.6" cy="320.6" rx="4.2" ry="3.4" fill="#ffffff" transform="rotate(35 422.6 320.6)"/><rect x="371.9" y="360.5" width="4.8" height="8.5" fill="#1f1c1b" rx="1.5"/><line x1="366.5" y1="292.5" x2="364.0" y2="301.5" stroke="#1f1c1b" stroke-width="4.8" stroke-linecap="round"/><polygon points="359.0,299.5 370.5,302.7 369.9,308.5 358.5,305.1" fill="#1f1c1b" stroke="#1f1c1b" stroke-width="1.5" stroke-linejoin="round"/><polygon points="358.5,303.5 362.1,302.5 361.1,295.5 357.7,294.9 356.9,298.5" fill="#1f1c1b" stroke="#1f1c1b" stroke-width="1.3" stroke-linejoin="round"/><polygon points="363.5,306.5 368.5,307.5 366.9,319.0 362.5,318.5" fill="#1f1c1b" stroke="#1f1c1b" stroke-width="1.4" stroke-linejoin="round"/><polygon points="369.7,282.7 372.3,282.1 387.1,329.5 378.5,364.0 374.9,362.5 383.3,328.5" fill="#f5e91c" stroke-linejoin="round" stroke-width="1.4" stroke="#f5e91c"/><polygon points="366.1,286.5 367.5,283.7 369.7,283.3 383.1,328.5 374.7,361.5 370.3,355.5 369.3,350.0 377.7,325.5" fill="#da502a" stroke-linejoin="round" stroke-width="2.2" stroke="#da502a"/><ellipse cx="368.4" cy="292.4" rx="1.5" ry="2.4" fill="#f5e91c" /><ellipse cx="380.1" cy="328.9" rx="1.5" ry="2.4" fill="#f5e91c" /><ellipse cx="373.1" cy="353.7" rx="2.9" ry="4.8" fill="#f5e91c" transform="rotate(-12 373.1 353.7)"/><ellipse cx="373.7" cy="353.9" rx="2.0" ry="3.8" fill="#ffffff" transform="rotate(-12 373.7 353.9)"/><polygon points="352.7,383.6 335.0,373.4 335.0,288.9 352.7,299.1" fill="#d5615b" /><polygon points="352.7,383.6 366.8,375.5 366.8,291.0 352.7,299.1" fill="#8b3a3d" /><polygon points="352.7,299.1 335.0,288.9 349.1,280.8 366.8,291.0" fill="#8f3f41" /><polygon points="352.7,300.1 247.9,239.6 247.9,225.6 352.7,286.1" fill="#d5615b" /><polygon points="352.7,300.1 366.8,292.0 366.8,278.0 352.7,286.1" fill="#8b3a3d" /><polygon points="352.7,286.1 247.9,225.6 262.0,217.5 366.8,278.0" fill="#8f3f41" /><polygon points="318.9,290.6 277.4,266.6 277.4,245.6 318.9,269.6" fill="#d5615b" /><polygon points="318.9,290.6 323.3,288.1 323.3,267.1 318.9,269.6" fill="#8b3a3d" /><polygon points="318.9,269.6 277.4,245.6 281.7,243.1 323.3,267.1" fill="#8f3f41" /><polygon points="317.4,287.9 278.9,265.7 278.9,248.3 317.4,270.5" fill="#e6e6e6" /><rect x="307.1" y="400.0" width="5.2" height="9.5" fill="#1f1c1b" rx="1.5"/><line x1="297.6" y1="334.0" x2="292.8" y2="345.0" stroke="#1f1c1b" stroke-width="5.0" stroke-linecap="round"/><polygon points="286.6,341.6 299.9,346.2 298.4,351.4 285.1,346.8" fill="#1f1c1b" stroke="#1f1c1b" stroke-width="1.6" stroke-linejoin="round"/><polygon points="285.8,342.0 289.8,343.6 286.1,352.0 281.8,350.5 282.8,345.0" fill="#1f1c1b" stroke="#1f1c1b" stroke-width="1.4" stroke-linejoin="round"/><polygon points="294.4,348.6 299.4,350.0 295.4,362.5 290.4,362.0" fill="#1f1c1b" stroke="#1f1c1b" stroke-width="1.4" stroke-linejoin="round"/><polygon points="300.8,324.5 303.1,324.0 334.1,366.0 318.8,402.3 315.2,401.8 330.2,365.5" fill="#f5e91c" stroke-linejoin="round" stroke-width="1.4" stroke="#f5e91c"/><polygon points="296.6,330.5 298.1,326.0 300.8,325.5 330.1,365.6 315.4,401.0 306.8,399.6 302.1,393.5 320.1,365.5" fill="#da502a" stroke-linejoin="round" stroke-width="2.4" stroke="#da502a"/><ellipse cx="301.6" cy="334.0" rx="2.2" ry="2.5" fill="#f5e91c" /><ellipse cx="325.1" cy="366.7" rx="2.2" ry="2.5" fill="#f5e91c" /><ellipse cx="310.4" cy="395.3" rx="5.2" ry="4.6" fill="#f5e91c" transform="rotate(35 310.4 395.3)"/><ellipse cx="311.4" cy="395.6" rx="4.2" ry="3.4" fill="#ffffff" transform="rotate(35 311.4 395.6)"/><polygon points="670.7,267.7 621.1,239.0 621.1,237.2 670.7,265.9" fill="#1f1c4a" /><polygon points="670.7,267.7 721.6,238.3 721.6,236.5 670.7,265.9" fill="#25225a" /><polygon points="670.7,265.9 621.1,237.2 672.0,207.8 721.6,236.5" fill="#474581" /><polygon points="671.1,256.7 632.5,234.4 632.5,223.6 671.1,245.9" fill="#d2c637" /><polygon points="671.1,256.7 710.3,234.0 710.3,223.2 671.1,245.9" fill="#e3d733" /><polygon points="671.1,245.9 632.5,223.6 671.7,200.9 710.3,223.2" fill="#f5e826" /><clipPath id="bc1"><polygon points="671.1,242.3 638.7,223.6 671.7,204.5 704.1,223.2" fill="#000" /></clipPath><polygon points="638.7,223.6 671.7,204.5 671.7,235.3 638.7,254.4" fill="#d9cd3c" clip-path="url(#bc1)"/><polygon points="671.7,204.5 704.1,223.2 704.1,254.0 671.7,235.3" fill="#c4b935" clip-path="url(#bc1)"/><polygon points="671.1,252.7 638.7,234.0 671.7,214.9 704.1,233.6" fill="#2a2222" clip-path="url(#bc1)"/><polygon points="592.1,270.1 608.8,279.7 608.8,281.9 592.1,272.3" fill="#4aa158" /><polygon points="625.4,270.1 608.8,279.7 608.8,281.9 625.4,272.3" fill="#3f8e4c" /><polygon points="593.5,256.6 608.8,265.4 608.8,279.4 593.5,270.6" fill="#2c6537" stroke="#2c6537" stroke-width="0.7"/><polygon points="624.0,256.6 608.8,265.4 608.8,279.4 624.0,270.6" fill="#27592f" stroke="#27592f" stroke-width="0.7"/><polygon points="592.1,253.0 608.8,262.6 608.8,267.2 592.1,257.6" fill="#52a65d" stroke="#52a65d" stroke-width="0.6"/><polygon points="625.4,253.0 608.8,262.6 608.8,267.2 625.4,257.6" fill="#428c4d" stroke="#428c4d" stroke-width="0.6"/><polygon points="608.8,243.4 625.4,253.0 608.8,262.6 592.1,253.0" fill="#5cb869" /><polygon points="608.8,245.1 622.4,253.0 608.8,260.9 595.1,253.0" fill="#2c6636" /><polygon points="595.1,253.0 608.8,245.1 608.8,256.4 608.8,260.9" fill="#3b7f46" /><polygon points="608.8,245.1 622.4,253.0 608.8,260.9 608.8,256.4" fill="#2e6838" /><polygon points="569.6,283.3 586.2,292.9 586.2,295.1 569.6,285.5" fill="#4aa158" /><polygon points="602.9,283.3 586.2,292.9 586.2,295.1 602.9,285.5" fill="#3f8e4c" /><polygon points="571.0,269.8 586.2,278.6 586.2,292.6 571.0,283.8" fill="#2c6537" stroke="#2c6537" stroke-width="0.7"/><polygon points="601.5,269.8 586.2,278.6 586.2,292.6 601.5,283.8" fill="#27592f" stroke="#27592f" stroke-width="0.7"/><polygon points="569.6,266.2 586.2,275.8 586.2,280.4 569.6,270.8" fill="#52a65d" stroke="#52a65d" stroke-width="0.6"/><polygon points="602.9,266.2 586.2,275.8 586.2,280.4 602.9,270.8" fill="#428c4d" stroke="#428c4d" stroke-width="0.6"/><polygon points="586.2,256.6 602.9,266.2 586.2,275.8 569.6,266.2" fill="#5cb869" /><polygon points="586.2,258.3 599.9,266.2 586.2,274.1 572.6,266.2" fill="#2c6636" /><polygon points="572.6,266.2 586.2,258.3 586.2,269.6 586.2,274.1" fill="#3b7f46" /><polygon points="586.2,258.3 599.9,266.2 586.2,274.1 586.2,269.6" fill="#2e6838" /><polygon points="613.1,282.5 629.8,292.1 629.8,294.3 613.1,284.7" fill="#4aa158" /><polygon points="646.4,282.5 629.8,292.1 629.8,294.3 646.4,284.7" fill="#3f8e4c" /><polygon points="614.5,269.0 629.8,277.8 629.8,291.8 614.5,283.0" fill="#2c6537" stroke="#2c6537" stroke-width="0.7"/><polygon points="645.0,269.0 629.8,277.8 629.8,291.8 645.0,283.0" fill="#27592f" stroke="#27592f" stroke-width="0.7"/><polygon points="613.1,265.4 629.8,275.0 629.8,279.6 613.1,270.0" fill="#52a65d" stroke="#52a65d" stroke-width="0.6"/><polygon points="646.4,265.4 629.8,275.0 629.8,279.6 646.4,270.0" fill="#428c4d" stroke="#428c4d" stroke-width="0.6"/><polygon points="629.8,255.8 646.4,265.4 629.8,275.0 613.1,265.4" fill="#5cb869" /><polygon points="629.8,257.5 643.4,265.4 629.8,273.3 616.1,265.4" fill="#2c6636" /><polygon points="616.1,265.4 629.8,257.5 629.8,268.8 629.8,273.3" fill="#3b7f46" /><polygon points="629.8,257.5 643.4,265.4 629.8,273.3 629.8,268.8" fill="#2e6838" /><polygon points="590.6,295.7 607.2,305.3 607.2,307.5 590.6,297.9" fill="#4aa158" /><polygon points="623.9,295.7 607.2,305.3 607.2,307.5 623.9,297.9" fill="#3f8e4c" /><polygon points="592.0,282.2 607.2,291.0 607.2,305.0 592.0,296.2" fill="#2c6537" stroke="#2c6537" stroke-width="0.7"/><polygon points="622.5,282.2 607.2,291.0 607.2,305.0 622.5,296.2" fill="#27592f" stroke="#27592f" stroke-width="0.7"/><polygon points="590.6,278.6 607.2,288.2 607.2,292.8 590.6,283.2" fill="#52a65d" stroke="#52a65d" stroke-width="0.6"/><polygon points="623.9,278.6 607.2,288.2 607.2,292.8 623.9,283.2" fill="#428c4d" stroke="#428c4d" stroke-width="0.6"/><polygon points="607.2,269.0 623.9,278.6 607.2,288.2 590.6,278.6" fill="#5cb869" /><polygon points="607.2,270.7 620.9,278.6 607.2,286.5 593.6,278.6" fill="#2c6636" /><polygon points="593.6,278.6 607.2,270.7 607.2,282.0 607.2,286.5" fill="#3b7f46" /><polygon points="607.2,270.7 620.9,278.6 607.2,286.5 607.2,282.0" fill="#2e6838" /><polygon points="534.4,305.6 551.0,315.2 551.0,317.4 534.4,307.8" fill="#4aa158" /><polygon points="567.6,305.6 551.0,315.2 551.0,317.4 567.6,307.8" fill="#3f8e4c" /><polygon points="535.8,292.1 551.0,300.9 551.0,314.9 535.8,306.1" fill="#2c6537" stroke="#2c6537" stroke-width="0.7"/><polygon points="566.2,292.1 551.0,300.9 551.0,314.9 566.2,306.1" fill="#27592f" stroke="#27592f" stroke-width="0.7"/><polygon points="534.4,288.5 551.0,298.1 551.0,302.7 534.4,293.1" fill="#52a65d" stroke="#52a65d" stroke-width="0.6"/><polygon points="567.6,288.5 551.0,298.1 551.0,302.7 567.6,293.1" fill="#428c4d" stroke="#428c4d" stroke-width="0.6"/><polygon points="551.0,278.9 567.6,288.5 551.0,298.1 534.4,288.5" fill="#5cb869" /><polygon points="551.0,280.6 564.6,288.5 551.0,296.4 537.4,288.5" fill="#2c6636" /><polygon points="537.4,288.5 551.0,280.6 551.0,291.9 551.0,296.4" fill="#3b7f46" /><polygon points="551.0,280.6 564.6,288.5 551.0,296.4 551.0,291.9" fill="#2e6838" /><polygon points="511.9,318.8 528.5,328.4 528.5,330.6 511.9,321.0" fill="#4aa158" /><polygon points="545.1,318.8 528.5,328.4 528.5,330.6 545.1,321.0" fill="#3f8e4c" /><polygon points="513.3,305.3 528.5,314.1 528.5,328.1 513.3,319.3" fill="#2c6537" stroke="#2c6537" stroke-width="0.7"/><polygon points="543.7,305.3 528.5,314.1 528.5,328.1 543.7,319.3" fill="#27592f" stroke="#27592f" stroke-width="0.7"/><polygon points="511.9,301.7 528.5,311.3 528.5,315.9 511.9,306.3" fill="#52a65d" stroke="#52a65d" stroke-width="0.6"/><polygon points="545.1,301.7 528.5,311.3 528.5,315.9 545.1,306.3" fill="#428c4d" stroke="#428c4d" stroke-width="0.6"/><polygon points="528.5,292.1 545.1,301.7 528.5,311.3 511.9,301.7" fill="#5cb869" /><polygon points="528.5,293.8 542.1,301.7 528.5,309.6 514.9,301.7" fill="#2c6636" /><polygon points="514.9,301.7 528.5,293.8 528.5,305.1 528.5,309.6" fill="#3b7f46" /><polygon points="528.5,293.8 542.1,301.7 528.5,309.6 528.5,305.1" fill="#2e6838" /><polygon points="555.4,318.0 572.0,327.6 572.0,329.8 555.4,320.2" fill="#4aa158" /><polygon points="588.6,318.0 572.0,327.6 572.0,329.8 588.6,320.2" fill="#3f8e4c" /><polygon points="556.8,304.5 572.0,313.3 572.0,327.3 556.8,318.5" fill="#2c6537" stroke="#2c6537" stroke-width="0.7"/><polygon points="587.2,304.5 572.0,313.3 572.0,327.3 587.2,318.5" fill="#27592f" stroke="#27592f" stroke-width="0.7"/><polygon points="555.4,300.9 572.0,310.5 572.0,315.1 555.4,305.5" fill="#52a65d" stroke="#52a65d" stroke-width="0.6"/><polygon points="588.6,300.9 572.0,310.5 572.0,315.1 588.6,305.5" fill="#428c4d" stroke="#428c4d" stroke-width="0.6"/><polygon points="572.0,291.3 588.6,300.9 572.0,310.5 555.4,300.9" fill="#5cb869" /><polygon points="572.0,293.0 585.6,300.9 572.0,308.8 558.4,300.9" fill="#2c6636" /><polygon points="558.4,300.9 572.0,293.0 572.0,304.3 572.0,308.8" fill="#3b7f46" /><polygon points="572.0,293.0 585.6,300.9 572.0,308.8 572.0,304.3" fill="#2e6838" /><polygon points="532.9,331.2 549.5,340.8 549.5,343.0 532.9,333.4" fill="#4aa158" /><polygon points="566.1,331.2 549.5,340.8 549.5,343.0 566.1,333.4" fill="#3f8e4c" /><polygon points="534.3,317.7 549.5,326.5 549.5,340.5 534.3,331.7" fill="#2c6537" stroke="#2c6537" stroke-width="0.7"/><polygon points="564.7,317.7 549.5,326.5 549.5,340.5 564.7,331.7" fill="#27592f" stroke="#27592f" stroke-width="0.7"/><polygon points="532.9,314.1 549.5,323.7 549.5,328.3 532.9,318.7" fill="#52a65d" stroke="#52a65d" stroke-width="0.6"/><polygon points="566.1,314.1 549.5,323.7 549.5,328.3 566.1,318.7" fill="#428c4d" stroke="#428c4d" stroke-width="0.6"/><polygon points="549.5,304.5 566.1,314.1 549.5,323.7 532.9,314.1" fill="#5cb869" /><polygon points="549.5,306.2 563.1,314.1 549.5,322.0 535.9,314.1" fill="#2c6636" /><polygon points="535.9,314.1 549.5,306.2 549.5,317.5 549.5,322.0" fill="#3b7f46" /><polygon points="549.5,306.2 563.1,314.1 549.5,322.0 549.5,317.5" fill="#2e6838" /><polygon points="464.6,344.6 481.2,354.2 481.2,356.4 464.6,346.8" fill="#4aa158" /><polygon points="497.9,344.6 481.2,354.2 481.2,356.4 497.9,346.8" fill="#3f8e4c" /><polygon points="466.0,331.1 481.2,339.9 481.2,353.9 466.0,345.1" fill="#2c6537" stroke="#2c6537" stroke-width="0.7"/><polygon points="496.5,331.1 481.2,339.9 481.2,353.9 496.5,345.1" fill="#27592f" stroke="#27592f" stroke-width="0.7"/><polygon points="464.6,327.5 481.2,337.1 481.2,341.7 464.6,332.1" fill="#52a65d" stroke="#52a65d" stroke-width="0.6"/><polygon points="497.9,327.5 481.2,337.1 481.2,341.7 497.9,332.1" fill="#428c4d" stroke="#428c4d" stroke-width="0.6"/><polygon points="481.2,317.9 497.9,327.5 481.2,337.1 464.6,327.5" fill="#5cb869" /><polygon points="481.2,319.6 494.9,327.5 481.2,335.4 467.6,327.5" fill="#2c6636" /><polygon points="467.6,327.5 481.2,319.6 481.2,330.9 481.2,335.4" fill="#3b7f46" /><polygon points="481.2,319.6 494.9,327.5 481.2,335.4 481.2,330.9" fill="#2e6838" /><polygon points="442.1,357.8 458.8,367.4 458.8,369.6 442.1,360.0" fill="#4aa158" /><polygon points="475.4,357.8 458.8,367.4 458.8,369.6 475.4,360.0" fill="#3f8e4c" /><polygon points="443.5,344.3 458.8,353.1 458.8,367.1 443.5,358.3" fill="#2c6537" stroke="#2c6537" stroke-width="0.7"/><polygon points="474.0,344.3 458.8,353.1 458.8,367.1 474.0,358.3" fill="#27592f" stroke="#27592f" stroke-width="0.7"/><polygon points="442.1,340.7 458.8,350.3 458.8,354.9 442.1,345.3" fill="#52a65d" stroke="#52a65d" stroke-width="0.6"/><polygon points="475.4,340.7 458.8,350.3 458.8,354.9 475.4,345.3" fill="#428c4d" stroke="#428c4d" stroke-width="0.6"/><polygon points="458.8,331.1 475.4,340.7 458.8,350.3 442.1,340.7" fill="#5cb869" /><polygon points="458.8,332.8 472.4,340.7 458.8,348.6 445.1,340.7" fill="#2c6636" /><polygon points="445.1,340.7 458.8,332.8 458.8,344.1 458.8,348.6" fill="#3b7f46" /><polygon points="458.8,332.8 472.4,340.7 458.8,348.6 458.8,344.1" fill="#2e6838" /><polygon points="485.6,357.0 502.2,366.6 502.2,368.8 485.6,359.2" fill="#4aa158" /><polygon points="518.9,357.0 502.2,366.6 502.2,368.8 518.9,359.2" fill="#3f8e4c" /><polygon points="487.0,343.5 502.2,352.3 502.2,366.3 487.0,357.5" fill="#2c6537" stroke="#2c6537" stroke-width="0.7"/><polygon points="517.5,343.5 502.2,352.3 502.2,366.3 517.5,357.5" fill="#27592f" stroke="#27592f" stroke-width="0.7"/><polygon points="485.6,339.9 502.2,349.5 502.2,354.1 485.6,344.5" fill="#52a65d" stroke="#52a65d" stroke-width="0.6"/><polygon points="518.9,339.9 502.2,349.5 502.2,354.1 518.9,344.5" fill="#428c4d" stroke="#428c4d" stroke-width="0.6"/><polygon points="502.2,330.3 518.9,339.9 502.2,349.5 485.6,339.9" fill="#5cb869" /><polygon points="502.2,332.0 515.9,339.9 502.2,347.8 488.6,339.9" fill="#2c6636" /><polygon points="488.6,339.9 502.2,332.0 502.2,343.3 502.2,347.8" fill="#3b7f46" /><polygon points="502.2,332.0 515.9,339.9 502.2,347.8 502.2,343.3" fill="#2e6838" /><polygon points="463.1,370.2 479.8,379.8 479.8,382.0 463.1,372.4" fill="#4aa158" /><polygon points="496.4,370.2 479.8,379.8 479.8,382.0 496.4,372.4" fill="#3f8e4c" /><polygon points="464.5,356.7 479.8,365.5 479.8,379.5 464.5,370.7" fill="#2c6537" stroke="#2c6537" stroke-width="0.7"/><polygon points="495.0,356.7 479.8,365.5 479.8,379.5 495.0,370.7" fill="#27592f" stroke="#27592f" stroke-width="0.7"/><polygon points="463.1,353.1 479.8,362.7 479.8,367.3 463.1,357.7" fill="#52a65d" stroke="#52a65d" stroke-width="0.6"/><polygon points="496.4,353.1 479.8,362.7 479.8,367.3 496.4,357.7" fill="#428c4d" stroke="#428c4d" stroke-width="0.6"/><polygon points="479.8,343.5 496.4,353.1 479.8,362.7 463.1,353.1" fill="#5cb869" /><polygon points="479.8,345.2 493.4,353.1 479.8,361.0 466.1,353.1" fill="#2c6636" /><polygon points="466.1,353.1 479.8,345.2 479.8,356.5 479.8,361.0" fill="#3b7f46" /><polygon points="479.8,345.2 493.4,353.1 479.8,361.0 479.8,356.5" fill="#2e6838" /><polygon points="405.9,379.6 422.5,389.2 422.5,391.4 405.9,381.8" fill="#4aa158" /><polygon points="439.1,379.6 422.5,389.2 422.5,391.4 439.1,381.8" fill="#3f8e4c" /><polygon points="407.3,366.1 422.5,374.9 422.5,388.9 407.3,380.1" fill="#2c6537" stroke="#2c6537" stroke-width="0.7"/><polygon points="437.7,366.1 422.5,374.9 422.5,388.9 437.7,380.1" fill="#27592f" stroke="#27592f" stroke-width="0.7"/><polygon points="405.9,362.5 422.5,372.1 422.5,376.7 405.9,367.1" fill="#52a65d" stroke="#52a65d" stroke-width="0.6"/><polygon points="439.1,362.5 422.5,372.1 422.5,376.7 439.1,367.1" fill="#428c4d" stroke="#428c4d" stroke-width="0.6"/><polygon points="422.5,352.9 439.1,362.5 422.5,372.1 405.9,362.5" fill="#5cb869" /><polygon points="422.5,354.6 436.1,362.5 422.5,370.4 408.9,362.5" fill="#2c6636" /><polygon points="408.9,362.5 422.5,354.6 422.5,365.9 422.5,370.4" fill="#3b7f46" /><polygon points="422.5,354.6 436.1,362.5 422.5,370.4 422.5,365.9" fill="#2e6838" /><polygon points="383.4,392.8 400.0,402.4 400.0,404.6 383.4,395.0" fill="#4aa158" /><polygon points="416.6,392.8 400.0,402.4 400.0,404.6 416.6,395.0" fill="#3f8e4c" /><polygon points="384.8,379.3 400.0,388.1 400.0,402.1 384.8,393.3" fill="#2c6537" stroke="#2c6537" stroke-width="0.7"/><polygon points="415.2,379.3 400.0,388.1 400.0,402.1 415.2,393.3" fill="#27592f" stroke="#27592f" stroke-width="0.7"/><polygon points="383.4,375.7 400.0,385.3 400.0,389.9 383.4,380.3" fill="#52a65d" stroke="#52a65d" stroke-width="0.6"/><polygon points="416.6,375.7 400.0,385.3 400.0,389.9 416.6,380.3" fill="#428c4d" stroke="#428c4d" stroke-width="0.6"/><polygon points="400.0,366.1 416.6,375.7 400.0,385.3 383.4,375.7" fill="#5cb869" /><polygon points="400.0,367.8 413.6,375.7 400.0,383.6 386.4,375.7" fill="#2c6636" /><polygon points="386.4,375.7 400.0,367.8 400.0,379.1 400.0,383.6" fill="#3b7f46" /><polygon points="400.0,367.8 413.6,375.7 400.0,383.6 400.0,379.1" fill="#2e6838" /><polygon points="426.9,392.0 443.5,401.6 443.5,403.8 426.9,394.2" fill="#4aa158" /><polygon points="460.1,392.0 443.5,401.6 443.5,403.8 460.1,394.2" fill="#3f8e4c" /><polygon points="428.3,378.5 443.5,387.3 443.5,401.3 428.3,392.5" fill="#2c6537" stroke="#2c6537" stroke-width="0.7"/><polygon points="458.7,378.5 443.5,387.3 443.5,401.3 458.7,392.5" fill="#27592f" stroke="#27592f" stroke-width="0.7"/><polygon points="426.9,374.9 443.5,384.5 443.5,389.1 426.9,379.5" fill="#52a65d" stroke="#52a65d" stroke-width="0.6"/><polygon points="460.1,374.9 443.5,384.5 443.5,389.1 460.1,379.5" fill="#428c4d" stroke="#428c4d" stroke-width="0.6"/><polygon points="443.5,365.3 460.1,374.9 443.5,384.5 426.9,374.9" fill="#5cb869" /><polygon points="443.5,367.0 457.1,374.9 443.5,382.8 429.9,374.9" fill="#2c6636" /><polygon points="429.9,374.9 443.5,367.0 443.5,378.3 443.5,382.8" fill="#3b7f46" /><polygon points="443.5,367.0 457.1,374.9 443.5,382.8 443.5,378.3" fill="#2e6838" /><polygon points="404.4,405.2 421.0,414.8 421.0,417.0 404.4,407.4" fill="#4aa158" /><polygon points="437.6,405.2 421.0,414.8 421.0,417.0 437.6,407.4" fill="#3f8e4c" /><polygon points="405.8,391.7 421.0,400.5 421.0,414.5 405.8,405.7" fill="#2c6537" stroke="#2c6537" stroke-width="0.7"/><polygon points="436.2,391.7 421.0,400.5 421.0,414.5 436.2,405.7" fill="#27592f" stroke="#27592f" stroke-width="0.7"/><polygon points="404.4,388.1 421.0,397.7 421.0,402.3 404.4,392.7" fill="#52a65d" stroke="#52a65d" stroke-width="0.6"/><polygon points="437.6,388.1 421.0,397.7 421.0,402.3 437.6,392.7" fill="#428c4d" stroke="#428c4d" stroke-width="0.6"/><polygon points="421.0,378.5 437.6,388.1 421.0,397.7 404.4,388.1" fill="#5cb869" /><polygon points="421.0,380.2 434.6,388.1 421.0,396.0 407.4,388.1" fill="#2c6636" /><polygon points="407.4,388.1 421.0,380.2 421.0,391.5 421.0,396.0" fill="#3b7f46" /><polygon points="421.0,380.2 434.6,388.1 421.0,396.0 421.0,391.5" fill="#2e6838" /><polygon points="905.5,120.0 928.5,120.0 928.8,143.0 927.5,171.0 920.5,171.0 918.5,135.0 916.0,177.0 906.5,177.0" fill="#1f2566" /><ellipse cx="912.0" cy="179.5" rx="7.5" ry="3.2" fill="#2b1b1b" transform="rotate(18 912.0 179.5)"/><ellipse cx="927.5" cy="173.0" rx="7.5" ry="3.2" fill="#2b1b1b" transform="rotate(12 927.5 173.0)"/><polygon points="905.0,88.0 912.0,84.5 924.0,84.5 930.0,87.5 932.5,99.0 928.0,101.0 928.0,113.0 905.0,113.0 905.0,105.0 900.5,107.0 902.0,93.0" fill="#23233f" stroke="#23233f" stroke-width="1.5" stroke-linejoin="round"/><polygon points="915.0,80.0 921.5,80.0 922.0,86.0 918.5,94.0 913.5,86.0" fill="#e3ddb0" /><polygon points="904.8,89.0 911.5,85.0 918.5,95.5 924.5,85.0 928.8,88.0 928.8,121.0 904.8,121.0" fill="#d3262b" /><polygon points="904.8,117.5 928.8,117.5 928.8,122.5 904.8,122.5" fill="#8e1c22" /><polygon points="907.5,87.6 910.4,86.2 910.7,110.0 907.8,110.0" fill="#f2dc27" /><polygon points="923.2,87.0 926.0,87.4 925.8,110.0 922.8,110.0" fill="#f2dc27" /><polygon points="904.8,110.0 928.8,110.0 928.8,115.0 904.8,115.0" fill="#f2dc27" /><ellipse cx="918.5" cy="75.5" rx="5.3" ry="7.6" fill="#e3ddb0" /><path d="M918.2,69.5 q4,-1.5 7,1 l0,4 q-3,-2.5 -6,-2 Z" fill="#1f1a1a" /><ellipse cx="918.0" cy="66.8" rx="6.6" ry="3.9" fill="#e3d62f" /><path d="M911.3,67.2 l13.4,0 l0,2 q-6.5,2 -13.4,0 Z" fill="#e3d62f" /><polyline points="931.0,97.0 933.0,107.0 922.0,106.0" fill="none" stroke="#e3ddb0" stroke-width="4.0" stroke-linecap="round" stroke-linejoin="round"/><circle cx="922.0" cy="106.0" r="2.9" fill="#e3ddb0" /><polyline points="905.0,97.0 904.0,107.0 912.0,109.0" fill="none" stroke="#e3ddb0" stroke-width="4.0" stroke-linecap="round" stroke-linejoin="round"/><circle cx="912.0" cy="109.0" r="2.9" fill="#e3ddb0" /><polygon points="788.3,197.9 802.4,190.8 921.5,254.5 908.5,262.7" fill="#d9d9d9" /><polygon points="799.9,165.0 908.5,222.6 908.5,259.9 799.9,193.5" fill="#8f8b8a" /><polygon points="799.9,165.0 850.8,138.9 950.0,192.5 897.9,219.0" fill="#eeecec" /><polygon points="805.7,162.9 825.5,152.1 923.9,207.5 903.0,217.5" fill="#5a588c" /><polygon points="897.9,219.0 954.5,217.9 968.7,238.0 908.5,259.9" fill="#a5a1a0" /><polygon points="897.9,219.0 923.9,205.0 954.5,217.9" fill="#c9c5c4" /><polygon points="799.1,175.2 805.7,171.4 829.6,185.1 823.8,189.2" fill="#7d7bb0" /><polygon points="823.8,189.2 829.6,185.1 829.6,199.1 823.8,202.4" fill="#4a4884" /><polygon points="799.1,175.2 823.8,189.2 823.8,202.4 799.1,188.9" fill="#d9d5d4" /><polygon points="800.2,178.0 821.4,189.9 821.4,200.8 800.2,189.2" fill="#e6e4e3" /><polygon points="802.4,182.3 818.9,191.7 818.9,198.3 802.4,189.2" fill="#1e1c1c" /><polygon points="833.0,150.7 848.4,143.6 870.8,156.6 855.5,164.9" fill="#8d5f9f" /><polygon points="838.9,149.0 849.4,144.2 866.4,154.0 855.9,158.8" fill="#77757a" /><polygon points="833.0,150.7 855.5,164.9 855.5,166.4 833.0,152.2" fill="#5d3d6c" /><polygon points="851.9,120.0 877.9,133.0 870.8,156.6 848.4,144.8" fill="#3f2f3f" /><polygon points="853.1,122.6 875.9,134.0 869.7,154.0 850.1,143.6" fill="#c9cdd0" /><polygon points="853.1,122.6 861.9,127.0 856.9,147.5 850.1,143.6" fill="#e4e6e8" /><polygon points="864.7,168.2 880.1,161.1 902.5,174.1 887.2,182.4" fill="#8d5f9f" /><polygon points="870.6,166.5 881.1,161.7 898.1,171.5 887.6,176.3" fill="#77757a" /><polygon points="864.7,168.2 887.2,182.4 887.2,183.9 864.7,169.7" fill="#5d3d6c" /><polygon points="883.6,137.5 909.6,150.5 902.5,174.1 880.1,162.3" fill="#3f2f3f" /><polygon points="884.8,140.1 907.6,151.5 901.4,171.5 881.8,161.1" fill="#c9cdd0" /><polygon points="884.8,140.1 893.6,144.5 888.6,165.0 881.8,161.1" fill="#e4e6e8" /><polygon points="896.4,185.7 911.8,178.6 934.2,191.6 918.9,199.9" fill="#8d5f9f" /><polygon points="902.3,184.0 912.8,179.2 929.8,189.0 919.3,193.8" fill="#77757a" /><polygon points="896.4,185.7 918.9,199.9 918.9,201.4 896.4,187.2" fill="#5d3d6c" /><polygon points="915.3,155.0 941.3,168.0 934.2,191.6 911.8,179.8" fill="#3f2f3f" /><polygon points="916.5,157.6 939.3,169.0 933.1,189.0 913.5,178.6" fill="#c9cdd0" /><polygon points="916.5,157.6 925.3,162.0 920.3,182.5 913.5,178.6" fill="#e4e6e8" /><polygon points="986.3,158.0 1009.3,158.0 1009.6,181.0 1008.3,209.0 1001.3,209.0 999.3,173.0 996.8,215.0 987.3,215.0" fill="#1f2566" /><ellipse cx="992.8" cy="217.5" rx="7.5" ry="3.2" fill="#2b1b1b" transform="rotate(18 992.8 217.5)"/><ellipse cx="1008.3" cy="211.0" rx="7.5" ry="3.2" fill="#2b1b1b" transform="rotate(12 1008.3 211.0)"/><polygon points="985.8,126.0 992.8,122.5 1004.8,122.5 1010.8,125.5 1013.3,137.0 1008.8,139.0 1008.8,151.0 985.8,151.0 985.8,143.0 981.3,145.0 982.8,131.0" fill="#23233f" stroke="#23233f" stroke-width="1.5" stroke-linejoin="round"/><polygon points="995.8,118.0 1002.3,118.0 1002.8,124.0 999.3,132.0 994.3,124.0" fill="#e3ddb0" /><polygon points="985.6,127.0 992.3,123.0 999.3,133.5 1005.3,123.0 1009.6,126.0 1009.6,159.0 985.6,159.0" fill="#d3262b" /><polygon points="985.6,155.5 1009.6,155.5 1009.6,160.5 985.6,160.5" fill="#8e1c22" /><polygon points="988.3,125.6 991.2,124.2 991.5,148.0 988.6,148.0" fill="#f2dc27" /><polygon points="1004.0,125.0 1006.8,125.4 1006.6,148.0 1003.6,148.0" fill="#f2dc27" /><polygon points="985.6,148.0 1009.6,148.0 1009.6,153.0 985.6,153.0" fill="#f2dc27" /><ellipse cx="999.3" cy="113.5" rx="5.3" ry="7.6" fill="#e3ddb0" /><path d="M999.0,107.5 q4,-1.5 7,1 l0,4 q-3,-2.5 -6,-2 Z" fill="#1f1a1a" /><ellipse cx="998.8" cy="104.8" rx="6.6" ry="3.9" fill="#e3d62f" /><path d="M992.1,105.2 l13.4,0 l0,2 q-6.5,2 -13.4,0 Z" fill="#e3d62f" /><polyline points="987.8,129.0 981.8,116.0 976.8,103.0" fill="none" stroke="#e3ddb0" stroke-width="4.0" stroke-linecap="round" stroke-linejoin="round"/><circle cx="976.8" cy="103.0" r="2.9" fill="#e3ddb0" /><polyline points="1011.8,135.0 1012.8,145.0 1000.8,143.0" fill="none" stroke="#e3ddb0" stroke-width="4.0" stroke-linecap="round" stroke-linejoin="round"/><circle cx="1000.8" cy="143.0" r="2.9" fill="#e3ddb0" /><linearGradient id="st4" x1="0" y1="0" x2="1" y2="0"><stop offset="0" stop-color="#858585"/><stop offset="0.2" stop-color="#a6a6a6"/><stop offset="0.5" stop-color="#d4d4d4"/><stop offset="0.8" stop-color="#adadad"/><stop offset="1" stop-color="#8e8e8e"/></linearGradient><path d="M936.0,256.5 A13.5,13.5 0 0 1 963.0,256.5 L963.0,287.0 L955.6,300.0 L943.4,300.0 L936.0,287.0 Z" fill="url(#st4)" /><ellipse cx="951.0" cy="254.5" rx="9.7" ry="9.2" fill="#f4f4f4" /><ellipse cx="952.5" cy="255.8" rx="5.7" ry="5.4" fill="#ffffff" /><path d="M936.0,261.5 Q949.5,267.0 963.0,260.0" fill="none" stroke="#b8432f" stroke-width="1.5"/><path d="M936.0,265.0 Q949.5,270.5 963.0,263.5" fill="none" stroke="#b8432f" stroke-width="1.5"/><path d="M936.0,268.5 Q949.5,274.0 963.0,267.0" fill="none" stroke="#b8432f" stroke-width="1.5"/><path d="M936.0,275.0 Q949.5,280.5 963.0,273.5" fill="none" stroke="#b8432f" stroke-width="1.5"/><path d="M936.0,278.5 Q949.5,284.0 963.0,277.0" fill="none" stroke="#b8432f" stroke-width="1.5"/><path d="M936.0,282.0 Q949.5,287.5 963.0,280.5" fill="none" stroke="#b8432f" stroke-width="1.5"/><linearGradient id="st5" x1="0" y1="0" x2="1" y2="0"><stop offset="0" stop-color="#858585"/><stop offset="0.2" stop-color="#a6a6a6"/><stop offset="0.5" stop-color="#d4d4d4"/><stop offset="0.8" stop-color="#adadad"/><stop offset="1" stop-color="#8e8e8e"/></linearGradient><path d="M953.0,264.5 A13.5,13.5 0 0 1 980.0,264.5 L980.0,299.0 L972.6,312.0 L960.4,312.0 L953.0,299.0 Z" fill="url(#st5)" /><ellipse cx="968.0" cy="262.5" rx="9.7" ry="9.2" fill="#f4f4f4" /><ellipse cx="969.5" cy="263.8" rx="5.7" ry="5.4" fill="#ffffff" /><path d="M953.0,269.5 Q966.5,275.0 980.0,268.0" fill="none" stroke="#b8432f" stroke-width="1.5"/><path d="M953.0,273.0 Q966.5,278.5 980.0,271.5" fill="none" stroke="#b8432f" stroke-width="1.5"/><path d="M953.0,276.5 Q966.5,282.0 980.0,275.0" fill="none" stroke="#b8432f" stroke-width="1.5"/><path d="M953.0,287.0 Q966.5,292.5 980.0,285.5" fill="none" stroke="#b8432f" stroke-width="1.5"/><path d="M953.0,290.5 Q966.5,296.0 980.0,289.0" fill="none" stroke="#b8432f" stroke-width="1.5"/><path d="M953.0,294.0 Q966.5,299.5 980.0,292.5" fill="none" stroke="#b8432f" stroke-width="1.5"/><linearGradient id="st6" x1="0" y1="0" x2="1" y2="0"><stop offset="0" stop-color="#858585"/><stop offset="0.2" stop-color="#a6a6a6"/><stop offset="0.5" stop-color="#d4d4d4"/><stop offset="0.8" stop-color="#adadad"/><stop offset="1" stop-color="#8e8e8e"/></linearGradient><path d="M970.5,272.5 A13.5,13.5 0 0 1 997.5,272.5 L997.5,322.0 L990.1,335.0 L977.9,335.0 L970.5,322.0 Z" fill="url(#st6)" /><ellipse cx="985.5" cy="270.5" rx="9.7" ry="9.2" fill="#f4f4f4" /><ellipse cx="987.0" cy="271.8" rx="5.7" ry="5.4" fill="#ffffff" /><path d="M970.5,277.5 Q984.0,283.0 997.5,276.0" fill="none" stroke="#b8432f" stroke-width="1.5"/><path d="M970.5,281.0 Q984.0,286.5 997.5,279.5" fill="none" stroke="#b8432f" stroke-width="1.5"/><path d="M970.5,284.5 Q984.0,290.0 997.5,283.0" fill="none" stroke="#b8432f" stroke-width="1.5"/><path d="M970.5,310.0 Q984.0,315.5 997.5,308.5" fill="none" stroke="#b8432f" stroke-width="1.5"/><path d="M970.5,313.5 Q984.0,319.0 997.5,312.0" fill="none" stroke="#b8432f" stroke-width="1.5"/><path d="M970.5,317.0 Q984.0,322.5 997.5,315.5" fill="none" stroke="#b8432f" stroke-width="1.5"/><polygon points="819.0,303.7 789.6,286.7 789.6,282.1 819.0,299.1" fill="#6d6b99" /><polygon points="819.0,303.7 891.7,261.7 891.7,257.1 819.0,299.1" fill="#7f7daa" /><polygon points="819.0,299.1 789.6,282.1 862.3,240.1 891.7,257.1" fill="#a3a1c8" /><path d="M856.0,236.2 A10.5,10.5 0 0 1 877.0,236.2 L877.0,256.0 A10.5,4.4 0 0 1 856.0,256.0 Z" fill="#dedede" opacity="0.60" stroke="#c6c6c6" stroke-width="0.8"/><path d="M866.5,225.7 A10.5,10.5 0 0 1 877.0,236.2 L877.0,256.0 A10.5,4.4 0 0 1 866.5,260.4 Z" fill="#a9a9a9" opacity="0.23"/><ellipse cx="864.2" cy="233.3" rx="5.2" ry="3.8" fill="#ffffff" opacity="0.9" transform="rotate(-22 864.2 233.3)"/><ellipse cx="867.8" cy="229.9" rx="3.4" ry="2.1" fill="#f6f6f6" opacity="0.8" transform="rotate(-15 867.8 229.9)"/><path d="M855.0,256.0 L855.0,260.0 A11.5,4.8 0 0 0 878.0,260.0 L878.0,256.0 Z" fill="#2b2856" /><path d="M855.0,258.2 A11.5,4.8 0 0 0 878.0,258.2" fill="none" stroke="#c8452f" stroke-width="1.3"/><ellipse cx="866.5" cy="256.0" rx="11.5" ry="4.8" fill="#3a3768" /><path d="M857.0,243.7 L857.0,256.0 A9.5,4.0 0 0 0 876.0,256.0 L876.0,243.7 Z" fill="#9dbfd5" opacity="0.92"/><path d="M866.5,243.7 L866.5,260.0 A9.5,4.0 0 0 0 876.0,256.0 L876.0,243.7 Z" fill="#1d3d55" opacity="0.10"/><ellipse cx="866.5" cy="243.7" rx="9.5" ry="4.0" fill="#b3d0e0" opacity="0.92"/><path d="M831.1,225.4 A14.8,14.8 0 0 1 860.6,225.4 L860.6,266.0 A14.8,6.2 0 0 1 831.1,266.0 Z" fill="#dedede" opacity="0.65" stroke="#c6c6c6" stroke-width="0.8"/><path d="M845.8,210.7 A14.8,14.8 0 0 1 860.6,225.4 L860.6,266.0 A14.8,6.2 0 0 1 845.8,272.2 Z" fill="#a9a9a9" opacity="0.25"/><ellipse cx="842.6" cy="221.3" rx="7.4" ry="5.3" fill="#ffffff" opacity="0.9" transform="rotate(-22 842.6 221.3)"/><ellipse cx="847.6" cy="216.6" rx="4.7" ry="3.0" fill="#f6f6f6" opacity="0.8" transform="rotate(-15 847.6 216.6)"/><path d="M829.8,266.0 L829.8,271.0 A16.0,6.7 0 0 0 861.8,271.0 L861.8,266.0 Z" fill="#2b2856" /><path d="M829.8,268.8 A16.0,6.7 0 0 0 861.8,268.8" fill="none" stroke="#c8452f" stroke-width="1.3"/><ellipse cx="845.8" cy="266.0" rx="16.0" ry="6.7" fill="#3a3768" /><path d="M832.3,243.7 L832.3,266.0 A13.5,5.7 0 0 0 859.3,266.0 L859.3,243.7 Z" fill="#9dbfd5" opacity="0.92"/><path d="M845.8,243.7 L845.8,271.7 A13.5,5.7 0 0 0 859.3,266.0 L859.3,243.7 Z" fill="#1d3d55" opacity="0.10"/><ellipse cx="845.8" cy="243.7" rx="13.5" ry="5.7" fill="#b3d0e0" opacity="0.92"/><path d="M800.2,228.4 A16.8,16.8 0 0 1 833.8,228.4 L833.8,279.7 A16.8,7.0 0 0 1 800.2,279.7 Z" fill="#dedede" opacity="0.70" stroke="#c6c6c6" stroke-width="0.8"/><path d="M817.0,211.7 A16.8,16.8 0 0 1 833.8,228.4 L833.8,279.7 A16.8,7.0 0 0 1 817.0,286.7 Z" fill="#a9a9a9" opacity="0.27"/><ellipse cx="813.3" cy="223.8" rx="8.4" ry="6.0" fill="#ffffff" opacity="0.9" transform="rotate(-22 813.3 223.8)"/><ellipse cx="819.0" cy="218.4" rx="5.4" ry="3.4" fill="#f6f6f6" opacity="0.8" transform="rotate(-15 819.0 218.4)"/><path d="M799.0,279.7 L799.0,285.2 A18.0,7.6 0 0 0 835.0,285.2 L835.0,279.7 Z" fill="#2b2856" /><path d="M799.0,282.7 A18.0,7.6 0 0 0 835.0,282.7" fill="none" stroke="#c8452f" stroke-width="1.3"/><ellipse cx="817.0" cy="279.7" rx="18.0" ry="7.6" fill="#3a3768" /><path d="M801.5,247.6 L801.5,279.7 A15.5,6.5 0 0 0 832.5,279.7 L832.5,247.6 Z" fill="#9dbfd5" opacity="0.92"/><path d="M817.0,247.6 L817.0,286.2 A15.5,6.5 0 0 0 832.5,279.7 L832.5,247.6 Z" fill="#1d3d55" opacity="0.10"/><ellipse cx="817.0" cy="247.6" rx="15.5" ry="6.5" fill="#b3d0e0" opacity="0.92"/><g transform="translate(870,218.4) scale(-0.85,0.85)"><rect x="21.5" y="58.0" width="5.0" height="9.5" fill="#1f1c1b" rx="1.5"/><line x1="35.5" y1="4.0" x2="40.5" y2="23.0" stroke="#1f1c1b" stroke-width="5.0" stroke-linecap="round"/><polygon points="34.0,20.8 46.2,18.6 48.2,25.8 35.6,28.4" fill="#1f1c1b" stroke="#1f1c1b" stroke-width="1.6" stroke-linejoin="round"/><polygon points="34.6,27.0 39.6,26.0 42.6,39.5 38.6,41.0" fill="#1f1c1b" stroke="#1f1c1b" stroke-width="1.4" stroke-linejoin="round"/><polygon points="43.6,25.6 48.6,24.6 52.2,40.5 48.0,42.0" fill="#1f1c1b" stroke="#1f1c1b" stroke-width="1.4" stroke-linejoin="round"/><polygon points="11.0,10.8 14.2,9.8 33.6,57.5 30.4,62.2 27.0,61.0" fill="#f5e91c" stroke-linejoin="round" stroke-width="1.4" stroke="#f5e91c"/><polygon points="32.0,-5.5 35.5,-6.8 38.6,-2.0 37.0,3.4 33.0,4.0" fill="#f5e91c" stroke-linejoin="round" stroke-width="1.4" stroke="#f5e91c"/><polygon points="1.2,1.4 32.5,-5.0 34.8,-1.5 33.5,2.8 10.6,10.2 29.2,57.6 27.0,60.6 21.5,58.0 16.0,52.0 1.2,4.5" fill="#e0692a" stroke-linejoin="round" stroke-width="2.4" stroke="#e0692a"/><ellipse cx="6.0" cy="5.5" rx="2.2" ry="2.5" fill="#f5e91c" /><ellipse cx="29.3" cy="0.6" rx="2.2" ry="2.5" fill="#f5e91c" /><ellipse cx="21.3" cy="50.3" rx="4.4" ry="5.6" fill="#f5e91c" transform="rotate(-20 21.3 50.3)"/><ellipse cx="22.3" cy="50.0" rx="3.2" ry="4.6" fill="#ffffff" transform="rotate(-20 22.3 50.0)"/></g><polygon points="752.6,283.2 769.2,274.4 806.7,268.7 806.7,315.7 752.6,341.7" fill="#4d497b" /><polygon points="743.9,267.5 759.2,257.5 752.3,251.9 770.0,242.2 806.7,269.0 806.7,279.8 769.2,300.7 769.2,274.4 752.3,283.6" fill="#64608f" /><polygon points="769.2,281.7 779.9,287.7 806.7,273.7 806.7,281.7 779.9,296.7 769.2,291.3" fill="#565286" /><polygon points="718.6,253.7 753.9,233.0 770.0,242.2 752.3,251.9 759.2,257.5 743.9,267.5" fill="#8784ae" /><polygon points="752.3,251.9 759.2,257.5 759.2,260.2 752.3,254.7" fill="#5a5688" /><polygon points="718.6,253.7 744.1,267.9 752.6,283.2 752.6,339.2 718.6,319.7" fill="#37325f" /><polygon points="744.1,267.9 759.2,257.5 769.2,274.4 752.6,283.6" fill="#6a6695" /><polygon points="767.1,272.7 789.1,260.0 805.6,268.9 781.6,283.7" fill="#2f2b5c" /><polygon points="767.7,271.1 778.4,280.6 778.4,283.8 767.7,274.3" fill="#d2c637" /><polygon points="778.4,280.6 798.8,266.8 798.8,270.0 778.4,283.8" fill="#e3d733" /><polygon points="767.7,271.1 786.8,260.1 798.8,266.8 778.4,280.6" fill="#f5e826" /><clipPath id="hc1"><polygon points="770.8,270.9 786.1,262.1 795.7,267.5 779.4,278.5" fill="#000" /></clipPath><polygon points="770.8,270.9 786.1,262.1 786.1,282.1 770.8,290.9" fill="#d9cd3c" clip-path="url(#hc1)"/><polygon points="786.1,262.1 795.7,267.5 795.7,287.5 786.1,282.1" fill="#c4b935" clip-path="url(#hc1)"/><polygon points="770.8,274.8 786.1,265.9 795.7,271.3 779.4,282.3" fill="#2a2424" clip-path="url(#hc1)"/><polygon points="759.2,304.7 775.6,314.7 775.6,346.2 759.2,336.7" fill="#d9cd2a" /><polygon points="759.2,304.7 801.9,281.7 818.1,290.5 775.6,314.7" fill="#f3e734" /><polygon points="775.6,314.7 818.1,290.5 818.1,322.7 775.6,346.2" fill="#e9e9e9" /><polygon points="775.6,314.7 818.1,290.5 818.1,294.7 775.6,318.9" fill="#e4d82e" /><polygon points="779.6,321.2 815.6,300.7 815.6,320.2 779.6,340.7" fill="#c9c6c5" /><polygon points="781.4,321.7 803.7,309.2 803.7,319.7 781.4,332.2" fill="#282424" /><polygon points="804.4,308.7 815.6,302.3 815.6,320.2 804.4,319.7" fill="#b5b1b0" /><rect x="960.3" y="355.0" width="7.8" height="19.0" fill="#b4b4b4" /><rect x="960.3" y="355.0" width="3.0" height="19.0" fill="#d9d9d9" /><rect x="981.7" y="342.0" width="6.5" height="14.5" fill="#2f2b5e" rx="2"/><rect x="981.7" y="352.0" width="6.5" height="1.6" fill="#c8452f" /><polygon points="852.6,298.3 900.8,322.8 900.8,345.5 852.6,320.0" fill="#ef9f85" /><polygon points="900.8,322.8 925.3,310.2 925.3,332.3 900.8,345.5" fill="#e0694f" /><polygon points="849.8,317.2 900.2,343.6 925.3,330.9 925.3,334.3 900.2,349.4 849.8,321.5" fill="#35316a" /><polygon points="843.7,273.6 875.0,255.3 934.7,286.0 903.4,302.8" fill="#3a3773" /><polygon points="853.3,269.1 874.0,257.2 895.2,269.6 874.5,281.8" fill="#ecebea" /><polygon points="857.0,267.0 874.0,278.6 874.0,281.8 857.0,270.2" fill="#d2c637" /><polygon points="874.0,278.6 890.9,264.9 890.9,268.1 874.0,281.8" fill="#e3d733" /><polygon points="857.0,267.0 874.5,255.3 890.9,264.9 874.0,278.6" fill="#f5e826" /><clipPath id="hc2"><polygon points="860.4,267.0 874.4,257.6 887.5,265.3 874.0,276.3" fill="#000" /></clipPath><polygon points="860.4,267.0 874.4,257.6 874.4,277.6 860.4,287.0" fill="#d9cd3c" clip-path="url(#hc2)"/><polygon points="874.4,257.6 887.5,265.3 887.5,285.3 874.4,277.6" fill="#c4b935" clip-path="url(#hc2)"/><polygon points="860.4,270.8 874.4,261.4 887.5,269.1 874.0,280.1" fill="#2a2424" clip-path="url(#hc2)"/><polygon points="876.1,283.7 895.7,272.6 990.8,336.8 964.9,353.0 901.9,314.1" fill="#e2e0df" /><polygon points="893.0,266.0 990.8,331.2 990.8,336.8 895.7,272.6" fill="#3a3773" /><polygon points="925.0,289.8 990.8,333.8 990.8,336.8 925.0,292.4" fill="#d9583f" /><polygon points="901.9,314.1 964.9,353.0 964.9,356.4 901.9,317.5" fill="#d9583f" /><polygon points="901.9,317.5 964.9,356.4 964.9,358.2 901.9,319.3" fill="#2f2b5e" /><polygon points="964.9,353.0 990.8,336.8 990.8,341.8 964.9,358.2" fill="#2f2b5e" /><polygon points="843.7,273.6 903.4,302.8 903.4,322.7 852.7,296.7 843.7,292.4" fill="#45417c" /><polygon points="862.3,287.1 897.8,305.2 897.8,317.9 862.3,300.9" fill="#2b2858" /><polygon points="864.9,289.3 895.2,304.1 895.2,314.2 864.9,299.3" fill="#f4ee62" /><g transform="translate(943.5,261.5) scale(-0.55,0.55)"><rect x="21.5" y="58.0" width="5.0" height="9.5" fill="#1f1c1b" rx="1.5"/><line x1="35.5" y1="4.0" x2="40.5" y2="23.0" stroke="#1f1c1b" stroke-width="5.0" stroke-linecap="round"/><polygon points="34.0,20.8 46.2,18.6 48.2,25.8 35.6,28.4" fill="#1f1c1b" stroke="#1f1c1b" stroke-width="1.6" stroke-linejoin="round"/><polygon points="34.6,27.0 39.6,26.0 42.6,39.5 38.6,41.0" fill="#1f1c1b" stroke="#1f1c1b" stroke-width="1.4" stroke-linejoin="round"/><polygon points="43.6,25.6 48.6,24.6 52.2,40.5 48.0,42.0" fill="#1f1c1b" stroke="#1f1c1b" stroke-width="1.4" stroke-linejoin="round"/><polygon points="11.0,10.8 14.2,9.8 33.6,57.5 30.4,62.2 27.0,61.0" fill="#f5e91c" stroke-linejoin="round" stroke-width="1.4" stroke="#f5e91c"/><polygon points="32.0,-5.5 35.5,-6.8 38.6,-2.0 37.0,3.4 33.0,4.0" fill="#f5e91c" stroke-linejoin="round" stroke-width="1.4" stroke="#f5e91c"/><polygon points="1.2,1.4 32.5,-5.0 34.8,-1.5 33.5,2.8 10.6,10.2 29.2,57.6 27.0,60.6 21.5,58.0 16.0,52.0 1.2,4.5" fill="#e0692a" stroke-linejoin="round" stroke-width="2.4" stroke="#e0692a"/><ellipse cx="6.0" cy="5.5" rx="2.2" ry="2.5" fill="#f5e91c" /><ellipse cx="29.3" cy="0.6" rx="2.2" ry="2.5" fill="#f5e91c" /><ellipse cx="21.3" cy="50.3" rx="4.4" ry="5.6" fill="#f5e91c" transform="rotate(-20 21.3 50.3)"/><ellipse cx="22.3" cy="50.0" rx="3.2" ry="4.6" fill="#ffffff" transform="rotate(-20 22.3 50.0)"/></g><g transform="translate(941.5,286.2) scale(-0.55,0.55)"><rect x="4.4" y="78.0" width="4.8" height="8.5" fill="#1f1c1b" rx="1.5"/><line x1="-1.0" y1="10.0" x2="-3.5" y2="19.0" stroke="#1f1c1b" stroke-width="4.8" stroke-linecap="round"/><polygon points="-8.5,17.0 3.0,20.2 2.4,26.0 -9.0,22.6" fill="#1f1c1b" stroke="#1f1c1b" stroke-width="1.5" stroke-linejoin="round"/><polygon points="-9.0,21.0 -5.4,20.0 -6.4,13.0 -9.8,12.4 -10.6,16.0" fill="#1f1c1b" stroke="#1f1c1b" stroke-width="1.3" stroke-linejoin="round"/><polygon points="-4.0,24.0 1.0,25.0 -0.6,36.5 -5.0,36.0" fill="#1f1c1b" stroke="#1f1c1b" stroke-width="1.4" stroke-linejoin="round"/><polygon points="2.2,0.2 4.8,-0.4 19.6,47.0 11.0,81.5 7.4,80.0 15.8,46.0" fill="#f5e91c" stroke-linejoin="round" stroke-width="1.4" stroke="#f5e91c"/><polygon points="-1.4,4.0 0.0,1.2 2.2,0.8 15.6,46.0 7.2,79.0 2.8,73.0 1.8,67.5 10.2,43.0" fill="#da502a" stroke-linejoin="round" stroke-width="2.2" stroke="#da502a"/><ellipse cx="0.9" cy="9.9" rx="1.5" ry="2.4" fill="#f5e91c" /><ellipse cx="12.6" cy="46.4" rx="1.5" ry="2.4" fill="#f5e91c" /><ellipse cx="5.6" cy="71.2" rx="2.9" ry="4.8" fill="#f5e91c" transform="rotate(-12 5.6 71.2)"/><ellipse cx="6.2" cy="71.4" rx="2.0" ry="3.8" fill="#ffffff" transform="rotate(-12 6.2 71.4)"/></g><g transform="translate(1001.0,299.0) scale(-0.50,0.50)"><rect x="21.5" y="58.0" width="5.0" height="9.5" fill="#1f1c1b" rx="1.5"/><line x1="35.5" y1="4.0" x2="40.5" y2="23.0" stroke="#1f1c1b" stroke-width="5.0" stroke-linecap="round"/><polygon points="34.0,20.8 46.2,18.6 48.2,25.8 35.6,28.4" fill="#1f1c1b" stroke="#1f1c1b" stroke-width="1.6" stroke-linejoin="round"/><polygon points="34.6,27.0 39.6,26.0 42.6,39.5 38.6,41.0" fill="#1f1c1b" stroke="#1f1c1b" stroke-width="1.4" stroke-linejoin="round"/><polygon points="43.6,25.6 48.6,24.6 52.2,40.5 48.0,42.0" fill="#1f1c1b" stroke="#1f1c1b" stroke-width="1.4" stroke-linejoin="round"/><polygon points="11.0,10.8 14.2,9.8 33.6,57.5 30.4,62.2 27.0,61.0" fill="#f5e91c" stroke-linejoin="round" stroke-width="1.4" stroke="#f5e91c"/><polygon points="32.0,-5.5 35.5,-6.8 38.6,-2.0 37.0,3.4 33.0,4.0" fill="#f5e91c" stroke-linejoin="round" stroke-width="1.4" stroke="#f5e91c"/><polygon points="1.2,1.4 32.5,-5.0 34.8,-1.5 33.5,2.8 10.6,10.2 29.2,57.6 27.0,60.6 21.5,58.0 16.0,52.0 1.2,4.5" fill="#e0692a" stroke-linejoin="round" stroke-width="2.4" stroke="#e0692a"/><ellipse cx="6.0" cy="5.5" rx="2.2" ry="2.5" fill="#f5e91c" /><ellipse cx="29.3" cy="0.6" rx="2.2" ry="2.5" fill="#f5e91c" /><ellipse cx="21.3" cy="50.3" rx="4.4" ry="5.6" fill="#f5e91c" transform="rotate(-20 21.3 50.3)"/><ellipse cx="22.3" cy="50.0" rx="3.2" ry="4.6" fill="#ffffff" transform="rotate(-20 22.3 50.0)"/></g><polygon points="657.7,399.5 628.3,382.5 628.3,377.9 657.7,394.9" fill="#6d6b99" /><polygon points="657.7,399.5 730.4,357.5 730.4,352.9 657.7,394.9" fill="#7f7daa" /><polygon points="657.7,394.9 628.3,377.9 701.0,335.9 730.4,352.9" fill="#a3a1c8" /><path d="M694.7,332.0 A10.5,10.5 0 0 1 715.7,332.0 L715.7,351.8 A10.5,4.4 0 0 1 694.7,351.8 Z" fill="#dedede" opacity="0.60" stroke="#c6c6c6" stroke-width="0.8"/><path d="M705.2,321.5 A10.5,10.5 0 0 1 715.7,332.0 L715.7,351.8 A10.5,4.4 0 0 1 705.2,356.2 Z" fill="#a9a9a9" opacity="0.23"/><ellipse cx="702.9" cy="329.1" rx="5.2" ry="3.8" fill="#ffffff" opacity="0.9" transform="rotate(-22 702.9 329.1)"/><ellipse cx="706.5" cy="325.7" rx="3.4" ry="2.1" fill="#f6f6f6" opacity="0.8" transform="rotate(-15 706.5 325.7)"/><path d="M693.7,351.8 L693.7,355.8 A11.5,4.8 0 0 0 716.7,355.8 L716.7,351.8 Z" fill="#2b2856" /><path d="M693.7,354.0 A11.5,4.8 0 0 0 716.7,354.0" fill="none" stroke="#c8452f" stroke-width="1.3"/><ellipse cx="705.2" cy="351.8" rx="11.5" ry="4.8" fill="#3a3768" /><path d="M695.7,339.5 L695.7,351.8 A9.5,4.0 0 0 0 714.7,351.8 L714.7,339.5 Z" fill="#9dbfd5" opacity="0.92"/><path d="M705.2,339.5 L705.2,355.8 A9.5,4.0 0 0 0 714.7,351.8 L714.7,339.5 Z" fill="#1d3d55" opacity="0.10"/><ellipse cx="705.2" cy="339.5" rx="9.5" ry="4.0" fill="#b3d0e0" opacity="0.92"/><path d="M669.8,321.2 A14.8,14.8 0 0 1 699.2,321.2 L699.2,361.8 A14.8,6.2 0 0 1 669.8,361.8 Z" fill="#dedede" opacity="0.65" stroke="#c6c6c6" stroke-width="0.8"/><path d="M684.5,306.5 A14.8,14.8 0 0 1 699.2,321.2 L699.2,361.8 A14.8,6.2 0 0 1 684.5,368.0 Z" fill="#a9a9a9" opacity="0.25"/><ellipse cx="681.3" cy="317.1" rx="7.4" ry="5.3" fill="#ffffff" opacity="0.9" transform="rotate(-22 681.3 317.1)"/><ellipse cx="686.3" cy="312.4" rx="4.7" ry="3.0" fill="#f6f6f6" opacity="0.8" transform="rotate(-15 686.3 312.4)"/><path d="M668.5,361.8 L668.5,366.8 A16.0,6.7 0 0 0 700.5,366.8 L700.5,361.8 Z" fill="#2b2856" /><path d="M668.5,364.6 A16.0,6.7 0 0 0 700.5,364.6" fill="none" stroke="#c8452f" stroke-width="1.3"/><ellipse cx="684.5" cy="361.8" rx="16.0" ry="6.7" fill="#3a3768" /><path d="M671.0,339.5 L671.0,361.8 A13.5,5.7 0 0 0 698.0,361.8 L698.0,339.5 Z" fill="#9dbfd5" opacity="0.92"/><path d="M684.5,339.5 L684.5,367.5 A13.5,5.7 0 0 0 698.0,361.8 L698.0,339.5 Z" fill="#1d3d55" opacity="0.10"/><ellipse cx="684.5" cy="339.5" rx="13.5" ry="5.7" fill="#b3d0e0" opacity="0.92"/><path d="M638.9,324.2 A16.8,16.8 0 0 1 672.4,324.2 L672.4,375.5 A16.8,7.0 0 0 1 638.9,375.5 Z" fill="#dedede" opacity="0.70" stroke="#c6c6c6" stroke-width="0.8"/><path d="M655.7,307.5 A16.8,16.8 0 0 1 672.4,324.2 L672.4,375.5 A16.8,7.0 0 0 1 655.7,382.5 Z" fill="#a9a9a9" opacity="0.27"/><ellipse cx="652.0" cy="319.6" rx="8.4" ry="6.0" fill="#ffffff" opacity="0.9" transform="rotate(-22 652.0 319.6)"/><ellipse cx="657.7" cy="314.2" rx="5.4" ry="3.4" fill="#f6f6f6" opacity="0.8" transform="rotate(-15 657.7 314.2)"/><path d="M637.7,375.5 L637.7,381.0 A18.0,7.6 0 0 0 673.7,381.0 L673.7,375.5 Z" fill="#2b2856" /><path d="M637.7,378.5 A18.0,7.6 0 0 0 673.7,378.5" fill="none" stroke="#c8452f" stroke-width="1.3"/><ellipse cx="655.7" cy="375.5" rx="18.0" ry="7.6" fill="#3a3768" /><path d="M640.2,343.4 L640.2,375.5 A15.5,6.5 0 0 0 671.2,375.5 L671.2,343.4 Z" fill="#9dbfd5" opacity="0.92"/><path d="M655.7,343.4 L655.7,382.0 A15.5,6.5 0 0 0 671.2,375.5 L671.2,343.4 Z" fill="#1d3d55" opacity="0.10"/><ellipse cx="655.7" cy="343.4" rx="15.5" ry="6.5" fill="#b3d0e0" opacity="0.92"/><polygon points="718.6,386.4 705.6,378.9 705.6,303.9 718.6,311.4" fill="#3f6c8a" /><polygon points="718.6,386.4 729.5,380.1 729.5,305.1 718.6,311.4" fill="#233f51" /><polygon points="718.6,311.4 705.6,303.9 716.6,297.6 729.5,305.1" fill="#2a4b60" /><linearGradient id="cv3" gradientUnits="userSpaceOnUse" x1="701.3" y1="396.1" x2="695.6" y2="420.1"><stop offset="0" stop-color="#bdbdbd"/><stop offset="0.45" stop-color="#f4f4f4"/><stop offset="0.7" stop-color="#e2e2e2"/><stop offset="1" stop-color="#9a9a9a"/></linearGradient><polygon points="842.5,316.6 844.2,315.9 845.8,315.8 847.2,316.3 848.4,317.3 849.3,318.9 849.9,320.9 850.1,323.2 849.9,325.8 849.3,328.4 848.4,331.0 847.2,333.5 845.8,335.6 844.2,337.3 842.5,338.6 887.0,364.3 888.7,363.0 890.3,361.3 891.7,359.2 892.9,356.7 893.8,354.1 894.4,351.5 894.6,348.9 894.4,346.6 893.8,344.6 892.9,343.0 891.7,342.0 890.3,341.5 888.7,341.6 887.0,342.3" fill="#b2b2b2" /><polygon points="701.3,398.1 842.5,316.6 887.0,342.3 745.8,423.8" fill="#b7b7b7" /><line x1="707.0" y1="394.8" x2="751.5" y2="420.5" stroke="#d4d4d4" stroke-width="1.1" /><line x1="712.7" y1="391.5" x2="757.2" y2="417.2" stroke="#d4d4d4" stroke-width="1.1" /><line x1="718.4" y1="388.2" x2="763.0" y2="413.9" stroke="#d4d4d4" stroke-width="1.1" /><line x1="724.2" y1="384.9" x2="768.7" y2="410.6" stroke="#d4d4d4" stroke-width="1.1" /><line x1="729.9" y1="381.6" x2="774.4" y2="407.3" stroke="#d4d4d4" stroke-width="1.1" /><line x1="735.6" y1="378.3" x2="780.1" y2="404.0" stroke="#d4d4d4" stroke-width="1.1" /><line x1="741.3" y1="375.0" x2="785.8" y2="400.7" stroke="#d4d4d4" stroke-width="1.1" /><line x1="747.0" y1="371.7" x2="791.5" y2="397.4" stroke="#d4d4d4" stroke-width="1.1" /><line x1="752.7" y1="368.4" x2="797.3" y2="394.1" stroke="#d4d4d4" stroke-width="1.1" /><line x1="758.5" y1="365.1" x2="803.0" y2="390.8" stroke="#d4d4d4" stroke-width="1.1" /><line x1="764.2" y1="361.8" x2="808.7" y2="387.5" stroke="#d4d4d4" stroke-width="1.1" /><line x1="769.9" y1="358.5" x2="814.4" y2="384.2" stroke="#d4d4d4" stroke-width="1.1" /><line x1="775.6" y1="355.2" x2="820.1" y2="380.9" stroke="#d4d4d4" stroke-width="1.1" /><line x1="781.3" y1="351.9" x2="825.8" y2="377.6" stroke="#d4d4d4" stroke-width="1.1" /><line x1="787.0" y1="348.6" x2="831.5" y2="374.3" stroke="#d4d4d4" stroke-width="1.1" /><line x1="792.7" y1="345.3" x2="837.3" y2="371.0" stroke="#d4d4d4" stroke-width="1.1" /><line x1="798.5" y1="342.0" x2="843.0" y2="367.7" stroke="#d4d4d4" stroke-width="1.1" /><line x1="804.2" y1="338.7" x2="848.7" y2="364.4" stroke="#d4d4d4" stroke-width="1.1" /><line x1="809.9" y1="335.4" x2="854.4" y2="361.1" stroke="#d4d4d4" stroke-width="1.1" /><line x1="815.6" y1="332.1" x2="860.1" y2="357.8" stroke="#d4d4d4" stroke-width="1.1" /><line x1="821.3" y1="328.8" x2="865.8" y2="354.5" stroke="#d4d4d4" stroke-width="1.1" /><line x1="827.0" y1="325.5" x2="871.6" y2="351.2" stroke="#d4d4d4" stroke-width="1.1" /><line x1="832.8" y1="322.2" x2="877.3" y2="347.9" stroke="#d4d4d4" stroke-width="1.1" /><line x1="838.5" y1="318.9" x2="883.0" y2="344.6" stroke="#d4d4d4" stroke-width="1.1" /><polygon points="701.3,398.1 699.6,399.4 698.0,401.1 696.5,403.2 695.3,405.7 694.4,408.3 693.9,410.9 693.7,413.5 693.9,415.8 694.4,417.8 695.3,419.4 696.5,420.4 698.0,420.9 699.6,420.8 701.3,420.1 745.8,445.8 744.1,446.5 742.5,446.6 741.1,446.1 739.9,445.1 738.9,443.5 738.4,441.5 738.2,439.2 738.4,436.6 738.9,434.0 739.9,431.4 741.1,428.9 742.5,426.8 744.1,425.1 745.8,423.8" fill="url(#cv3)" /><polygon points="745.8,423.8 744.1,425.1 742.5,426.8 741.1,428.9 739.9,431.4 738.9,434.0 738.4,436.6 738.2,439.2 738.4,441.5 738.9,443.5 739.9,445.1 741.1,446.1 742.5,446.6 744.1,446.5 745.8,445.8 887.0,364.3 888.7,363.0 890.3,361.3 891.7,359.2 892.9,356.7 893.8,354.1 894.4,351.5 894.6,348.9 894.4,346.6 893.8,344.6 892.9,343.0 891.7,342.0 890.3,341.5 888.7,341.6 887.0,342.3" fill="#8d8d8d" /><polygon points="745.8,426.4 744.5,427.4 743.3,428.7 742.2,430.3 741.3,432.2 740.6,434.2 740.1,436.2 740.0,438.2 740.1,439.9 740.6,441.5 741.3,442.7 742.2,443.5 743.3,443.8 744.5,443.7 745.8,443.2 887.0,361.7 888.3,360.7 889.5,359.4 890.6,357.8 891.5,355.9 892.2,353.9 892.6,351.9 892.8,349.9 892.6,348.2 892.2,346.6 891.5,345.4 890.6,344.6 889.5,344.3 888.3,344.4 887.0,344.9" fill="#1c1c1c" /><line x1="745.8" y1="434.8" x2="887.0" y2="353.3" stroke="#e9a545" stroke-width="1.6" /><ellipse cx="745.8" cy="434.8" rx="3.4" ry="3.8" fill="#f2cf1d" /><ellipse cx="769.3" cy="421.2" rx="3.4" ry="3.8" fill="#f2cf1d" /><ellipse cx="792.9" cy="407.6" rx="3.4" ry="3.8" fill="#f2cf1d" /><ellipse cx="816.4" cy="394.1" rx="3.4" ry="3.8" fill="#f2cf1d" /><ellipse cx="839.9" cy="380.5" rx="3.4" ry="3.8" fill="#f2cf1d" /><ellipse cx="863.4" cy="366.9" rx="3.4" ry="3.8" fill="#f2cf1d" /><ellipse cx="887.0" cy="353.3" rx="3.4" ry="3.8" fill="#f2cf1d" /><polygon points="827.3,341.9 842.4,350.6 842.4,352.6 827.3,343.9" fill="#4aa158" /><polygon points="857.5,341.9 842.4,350.6 842.4,352.6 857.5,343.9" fill="#3f8e4c" /><polygon points="828.7,329.6 842.4,337.5 842.4,350.3 828.7,342.4" fill="#2c6537" stroke="#2c6537" stroke-width="0.7"/><polygon points="856.1,329.6 842.4,337.5 842.4,350.3 856.1,342.4" fill="#27592f" stroke="#27592f" stroke-width="0.7"/><polygon points="827.3,326.4 842.4,335.1 842.4,339.3 827.3,330.6" fill="#52a65d" stroke="#52a65d" stroke-width="0.6"/><polygon points="857.5,326.4 842.4,335.1 842.4,339.3 857.5,330.6" fill="#428c4d" stroke="#428c4d" stroke-width="0.6"/><polygon points="842.4,317.7 857.5,326.4 842.4,335.1 827.3,326.4" fill="#5cb869" /><polygon points="842.4,319.3 854.8,326.4 842.4,333.5 830.0,326.4" fill="#2c6636" /><polygon points="830.0,326.4 842.4,319.3 842.4,329.4 842.4,333.5" fill="#3b7f46" /><polygon points="842.4,319.3 854.8,326.4 842.4,333.5 842.4,329.4" fill="#2e6838" /><polygon points="790.4,365.3 805.5,374.0 805.5,376.0 790.4,367.3" fill="#4aa158" /><polygon points="820.6,365.3 805.5,374.0 805.5,376.0 820.6,367.3" fill="#3f8e4c" /><polygon points="791.8,353.0 805.5,360.9 805.5,373.7 791.8,365.8" fill="#2c6537" stroke="#2c6537" stroke-width="0.7"/><polygon points="819.2,353.0 805.5,360.9 805.5,373.7 819.2,365.8" fill="#27592f" stroke="#27592f" stroke-width="0.7"/><polygon points="790.4,349.8 805.5,358.5 805.5,362.7 790.4,354.0" fill="#52a65d" stroke="#52a65d" stroke-width="0.6"/><polygon points="820.6,349.8 805.5,358.5 805.5,362.7 820.6,354.0" fill="#428c4d" stroke="#428c4d" stroke-width="0.6"/><polygon points="805.5,341.1 820.6,349.8 805.5,358.5 790.4,349.8" fill="#5cb869" /><polygon points="805.5,342.7 817.9,349.8 805.5,356.9 793.1,349.8" fill="#2c6636" /><polygon points="793.1,349.8 805.5,342.7 805.5,352.8 805.5,356.9" fill="#3b7f46" /><polygon points="805.5,342.7 817.9,349.8 805.5,356.9 805.5,352.8" fill="#2e6838" /><polygon points="741.9,397.0 757.0,405.7 757.0,407.7 741.9,399.0" fill="#4aa158" /><polygon points="772.1,397.0 757.0,405.7 757.0,407.7 772.1,399.0" fill="#3f8e4c" /><polygon points="743.3,384.7 757.0,392.6 757.0,405.4 743.3,397.5" fill="#2c6537" stroke="#2c6537" stroke-width="0.7"/><polygon points="770.7,384.7 757.0,392.6 757.0,405.4 770.7,397.5" fill="#27592f" stroke="#27592f" stroke-width="0.7"/><polygon points="741.9,381.5 757.0,390.2 757.0,394.4 741.9,385.7" fill="#52a65d" stroke="#52a65d" stroke-width="0.6"/><polygon points="772.1,381.5 757.0,390.2 757.0,394.4 772.1,385.7" fill="#428c4d" stroke="#428c4d" stroke-width="0.6"/><polygon points="757.0,372.8 772.1,381.5 757.0,390.2 741.9,381.5" fill="#5cb869" /><polygon points="757.0,374.4 769.4,381.5 757.0,388.6 744.6,381.5" fill="#2c6636" /><polygon points="744.6,381.5 757.0,374.4 757.0,384.5 757.0,388.6" fill="#3b7f46" /><polygon points="757.0,374.4 769.4,381.5 757.0,388.6 757.0,384.5" fill="#2e6838" /><polygon points="792.5,429.8 779.5,422.3 779.5,346.5 792.5,354.0" fill="#3f6c8a" /><polygon points="792.5,429.8 803.4,423.5 803.4,347.7 792.5,354.0" fill="#233f51" /><polygon points="792.5,354.0 779.5,346.5 790.4,340.2 803.4,347.7" fill="#2a4b60" /><polygon points="792.5,355.0 705.6,304.9 705.6,291.9 792.5,342.0" fill="#3f6c8a" /><polygon points="792.5,355.0 803.4,348.7 803.4,335.7 792.5,342.0" fill="#233f51" /><polygon points="792.5,342.0 705.6,291.9 716.6,285.6 803.4,335.7" fill="#2a4b60" /><polygon points="762.2,341.5 729.3,322.5 729.3,307.5 762.2,326.5" fill="#3f6c8a" /><polygon points="762.2,341.5 765.7,339.5 765.7,324.5 762.2,326.5" fill="#233f51" /><polygon points="762.2,326.5 729.3,307.5 732.7,305.5 765.7,324.5" fill="#2a4b60" /><polygon points="760.6,338.8 730.8,321.6 730.8,310.2 760.6,327.4" fill="#e6e6e6" /><polygon points="591.3,379.0 607.9,370.2 645.4,364.5 645.4,411.5 591.3,437.5" fill="#4d497b" /><polygon points="582.6,363.3 597.9,353.3 591.0,347.7 608.7,338.0 645.4,364.8 645.4,375.6 607.9,396.5 607.9,370.2 591.0,379.4" fill="#64608f" /><polygon points="607.9,377.5 618.6,383.5 645.4,369.5 645.4,377.5 618.6,392.5 607.9,387.1" fill="#565286" /><polygon points="557.3,349.5 592.6,328.8 608.7,338.0 591.0,347.7 597.9,353.3 582.6,363.3" fill="#8784ae" /><polygon points="591.0,347.7 597.9,353.3 597.9,356.0 591.0,350.5" fill="#5a5688" /><polygon points="557.3,349.5 582.8,363.7 591.3,379.0 591.3,435.0 557.3,415.5" fill="#37325f" /><polygon points="582.8,363.7 597.9,353.3 607.9,370.2 591.3,379.4" fill="#6a6695" /><polygon points="605.8,368.5 627.8,355.8 644.3,364.7 620.3,379.5" fill="#2f2b5c" /><polygon points="606.4,366.9 617.1,376.4 617.1,379.6 606.4,370.1" fill="#d2c637" /><polygon points="617.1,376.4 637.5,362.6 637.5,365.8 617.1,379.6" fill="#e3d733" /><polygon points="606.4,366.9 625.5,355.9 637.5,362.6 617.1,376.4" fill="#f5e826" /><clipPath id="hc3"><polygon points="609.5,366.8 624.8,357.9 634.4,363.3 618.1,374.3" fill="#000" /></clipPath><polygon points="609.5,366.8 624.8,357.9 624.8,377.9 609.5,386.8" fill="#d9cd3c" clip-path="url(#hc3)"/><polygon points="624.8,357.9 634.4,363.3 634.4,383.3 624.8,377.9" fill="#c4b935" clip-path="url(#hc3)"/><polygon points="609.5,370.6 624.8,361.8 634.4,367.1 618.1,378.1" fill="#2a2424" clip-path="url(#hc3)"/><polygon points="597.9,400.5 614.3,410.5 614.3,442.0 597.9,432.5" fill="#d9cd2a" /><polygon points="597.9,400.5 640.6,377.5 656.8,386.3 614.3,410.5" fill="#f3e734" /><polygon points="614.3,410.5 656.8,386.3 656.8,418.5 614.3,442.0" fill="#e9e9e9" /><polygon points="614.3,410.5 656.8,386.3 656.8,390.5 614.3,414.7" fill="#e4d82e" /><polygon points="618.3,417.0 654.3,396.5 654.3,416.0 618.3,436.5" fill="#c9c6c5" /><polygon points="620.1,417.5 642.4,405.0 642.4,415.5 620.1,428.0" fill="#282424" /><polygon points="643.1,404.5 654.3,398.1 654.3,416.0 643.1,415.5" fill="#b5b1b0" /><polygon points="493.0,505.3 463.6,488.3 463.6,483.7 493.0,500.7" fill="#6d6b99" /><polygon points="493.0,505.3 565.7,463.3 565.7,458.7 493.0,500.7" fill="#7f7daa" /><polygon points="493.0,500.7 463.6,483.7 536.3,441.7 565.7,458.7" fill="#a3a1c8" /><path d="M530.0,437.8 A10.5,10.5 0 0 1 551.0,437.8 L551.0,457.6 A10.5,4.4 0 0 1 530.0,457.6 Z" fill="#dedede" opacity="0.60" stroke="#c6c6c6" stroke-width="0.8"/><path d="M540.5,427.3 A10.5,10.5 0 0 1 551.0,437.8 L551.0,457.6 A10.5,4.4 0 0 1 540.5,462.0 Z" fill="#a9a9a9" opacity="0.23"/><ellipse cx="538.2" cy="434.9" rx="5.2" ry="3.8" fill="#ffffff" opacity="0.9" transform="rotate(-22 538.2 434.9)"/><ellipse cx="541.8" cy="431.5" rx="3.4" ry="2.1" fill="#f6f6f6" opacity="0.8" transform="rotate(-15 541.8 431.5)"/><path d="M529.0,457.6 L529.0,461.6 A11.5,4.8 0 0 0 552.0,461.6 L552.0,457.6 Z" fill="#2b2856" /><path d="M529.0,459.8 A11.5,4.8 0 0 0 552.0,459.8" fill="none" stroke="#c8452f" stroke-width="1.3"/><ellipse cx="540.5" cy="457.6" rx="11.5" ry="4.8" fill="#3a3768" /><path d="M531.0,445.3 L531.0,457.6 A9.5,4.0 0 0 0 550.0,457.6 L550.0,445.3 Z" fill="#9dbfd5" opacity="0.92"/><path d="M540.5,445.3 L540.5,461.6 A9.5,4.0 0 0 0 550.0,457.6 L550.0,445.3 Z" fill="#1d3d55" opacity="0.10"/><ellipse cx="540.5" cy="445.3" rx="9.5" ry="4.0" fill="#b3d0e0" opacity="0.92"/><path d="M505.1,427.1 A14.8,14.8 0 0 1 534.6,427.1 L534.6,467.6 A14.8,6.2 0 0 1 505.1,467.6 Z" fill="#dedede" opacity="0.65" stroke="#c6c6c6" stroke-width="0.8"/><path d="M519.8,412.3 A14.8,14.8 0 0 1 534.6,427.1 L534.6,467.6 A14.8,6.2 0 0 1 519.8,473.8 Z" fill="#a9a9a9" opacity="0.25"/><ellipse cx="516.6" cy="422.9" rx="7.4" ry="5.3" fill="#ffffff" opacity="0.9" transform="rotate(-22 516.6 422.9)"/><ellipse cx="521.6" cy="418.2" rx="4.7" ry="3.0" fill="#f6f6f6" opacity="0.8" transform="rotate(-15 521.6 418.2)"/><path d="M503.8,467.6 L503.8,472.6 A16.0,6.7 0 0 0 535.8,472.6 L535.8,467.6 Z" fill="#2b2856" /><path d="M503.8,470.4 A16.0,6.7 0 0 0 535.8,470.4" fill="none" stroke="#c8452f" stroke-width="1.3"/><ellipse cx="519.8" cy="467.6" rx="16.0" ry="6.7" fill="#3a3768" /><path d="M506.3,445.3 L506.3,467.6 A13.5,5.7 0 0 0 533.3,467.6 L533.3,445.3 Z" fill="#9dbfd5" opacity="0.92"/><path d="M519.8,445.3 L519.8,473.3 A13.5,5.7 0 0 0 533.3,467.6 L533.3,445.3 Z" fill="#1d3d55" opacity="0.10"/><ellipse cx="519.8" cy="445.3" rx="13.5" ry="5.7" fill="#b3d0e0" opacity="0.92"/><path d="M474.2,430.1 A16.8,16.8 0 0 1 507.8,430.1 L507.8,481.3 A16.8,7.0 0 0 1 474.2,481.3 Z" fill="#dedede" opacity="0.70" stroke="#c6c6c6" stroke-width="0.8"/><path d="M491.0,413.3 A16.8,16.8 0 0 1 507.8,430.1 L507.8,481.3 A16.8,7.0 0 0 1 491.0,488.3 Z" fill="#a9a9a9" opacity="0.27"/><ellipse cx="487.3" cy="425.4" rx="8.4" ry="6.0" fill="#ffffff" opacity="0.9" transform="rotate(-22 487.3 425.4)"/><ellipse cx="493.0" cy="420.0" rx="5.4" ry="3.4" fill="#f6f6f6" opacity="0.8" transform="rotate(-15 493.0 420.0)"/><path d="M473.0,481.3 L473.0,486.8 A18.0,7.6 0 0 0 509.0,486.8 L509.0,481.3 Z" fill="#2b2856" /><path d="M473.0,484.3 A18.0,7.6 0 0 0 509.0,484.3" fill="none" stroke="#c8452f" stroke-width="1.3"/><ellipse cx="491.0" cy="481.3" rx="18.0" ry="7.6" fill="#3a3768" /><path d="M475.5,449.2 L475.5,481.3 A15.5,6.5 0 0 0 506.5,481.3 L506.5,449.2 Z" fill="#9dbfd5" opacity="0.92"/><path d="M491.0,449.2 L491.0,487.8 A15.5,6.5 0 0 0 506.5,481.3 L506.5,449.2 Z" fill="#1d3d55" opacity="0.10"/><ellipse cx="491.0" cy="449.2" rx="15.5" ry="6.5" fill="#b3d0e0" opacity="0.92"/><polygon points="560.1,485.0 546.7,477.2 546.7,408.6 560.1,416.4" fill="#3f6c8a" /><polygon points="560.1,485.0 571.3,478.5 571.3,409.9 560.1,416.4" fill="#233f51" /><polygon points="560.1,416.4 546.7,408.6 557.9,402.1 571.3,409.9" fill="#2a4b60" /><linearGradient id="cv4" gradientUnits="userSpaceOnUse" x1="556.8" y1="487.0" x2="551.1" y2="511.0"><stop offset="0" stop-color="#bdbdbd"/><stop offset="0.45" stop-color="#f4f4f4"/><stop offset="0.7" stop-color="#e2e2e2"/><stop offset="1" stop-color="#9a9a9a"/></linearGradient><polygon points="681.5,417.0 683.2,416.3 684.8,416.2 686.3,416.7 687.5,417.7 688.4,419.3 688.9,421.3 689.1,423.6 688.9,426.2 688.4,428.8 687.5,431.4 686.3,433.9 684.8,436.0 683.2,437.7 681.5,439.0 726.0,464.7 727.7,463.4 729.3,461.7 730.8,459.6 732.0,457.1 732.9,454.5 733.4,451.9 733.6,449.3 733.4,447.0 732.9,445.0 732.0,443.4 730.8,442.4 729.3,441.9 727.7,442.0 726.0,442.7" fill="#b2b2b2" /><polygon points="556.8,489.0 681.5,417.0 726.0,442.7 601.3,514.7" fill="#b7b7b7" /><line x1="562.5" y1="485.7" x2="607.0" y2="511.4" stroke="#d4d4d4" stroke-width="1.1" /><line x1="568.2" y1="482.4" x2="612.7" y2="508.1" stroke="#d4d4d4" stroke-width="1.1" /><line x1="573.9" y1="479.1" x2="618.5" y2="504.8" stroke="#d4d4d4" stroke-width="1.1" /><line x1="579.7" y1="475.8" x2="624.2" y2="501.5" stroke="#d4d4d4" stroke-width="1.1" /><line x1="585.4" y1="472.5" x2="629.9" y2="498.2" stroke="#d4d4d4" stroke-width="1.1" /><line x1="591.1" y1="469.2" x2="635.6" y2="494.9" stroke="#d4d4d4" stroke-width="1.1" /><line x1="596.8" y1="465.9" x2="641.3" y2="491.6" stroke="#d4d4d4" stroke-width="1.1" /><line x1="602.5" y1="462.6" x2="647.0" y2="488.3" stroke="#d4d4d4" stroke-width="1.1" /><line x1="608.2" y1="459.3" x2="652.8" y2="485.0" stroke="#d4d4d4" stroke-width="1.1" /><line x1="614.0" y1="456.0" x2="658.5" y2="481.7" stroke="#d4d4d4" stroke-width="1.1" /><line x1="619.7" y1="452.7" x2="664.2" y2="478.4" stroke="#d4d4d4" stroke-width="1.1" /><line x1="625.4" y1="449.4" x2="669.9" y2="475.1" stroke="#d4d4d4" stroke-width="1.1" /><line x1="631.1" y1="446.1" x2="675.6" y2="471.8" stroke="#d4d4d4" stroke-width="1.1" /><line x1="636.8" y1="442.8" x2="681.3" y2="468.5" stroke="#d4d4d4" stroke-width="1.1" /><line x1="642.5" y1="439.5" x2="687.0" y2="465.2" stroke="#d4d4d4" stroke-width="1.1" /><line x1="648.2" y1="436.2" x2="692.8" y2="461.9" stroke="#d4d4d4" stroke-width="1.1" /><line x1="654.0" y1="432.9" x2="698.5" y2="458.6" stroke="#d4d4d4" stroke-width="1.1" /><line x1="659.7" y1="429.6" x2="704.2" y2="455.3" stroke="#d4d4d4" stroke-width="1.1" /><line x1="665.4" y1="426.3" x2="709.9" y2="452.0" stroke="#d4d4d4" stroke-width="1.1" /><line x1="671.1" y1="423.0" x2="715.6" y2="448.7" stroke="#d4d4d4" stroke-width="1.1" /><line x1="676.8" y1="419.7" x2="721.3" y2="445.4" stroke="#d4d4d4" stroke-width="1.1" /><polygon points="601.3,514.7 601.3,536.7 726.0,464.7 727.7,463.4 729.3,461.7 730.8,459.6 732.0,457.1 732.9,454.5 733.4,451.9 733.6,449.3 733.4,447.0 732.9,445.0 732.0,443.4 730.8,442.4 729.3,441.9 727.7,442.0 726.0,442.7" fill="#8d8d8d" /><polygon points="601.3,517.3 601.3,534.1 726.0,462.1 727.3,461.1 728.5,459.8 729.6,458.2 730.6,456.3 731.3,454.3 731.7,452.3 731.8,450.3 731.7,448.6 731.3,447.0 730.6,445.8 729.6,445.0 728.5,444.7 727.3,444.8 726.0,445.3" fill="#1c1c1c" /><line x1="601.3" y1="525.7" x2="726.0" y2="453.7" stroke="#e9a545" stroke-width="1.6" /><ellipse cx="601.3" cy="525.7" rx="3.4" ry="3.8" fill="#f2cf1d" /><ellipse cx="626.3" cy="511.3" rx="3.4" ry="3.8" fill="#f2cf1d" /><ellipse cx="651.2" cy="496.9" rx="3.4" ry="3.8" fill="#f2cf1d" /><ellipse cx="676.1" cy="482.5" rx="3.4" ry="3.8" fill="#f2cf1d" /><ellipse cx="701.1" cy="468.1" rx="3.4" ry="3.8" fill="#f2cf1d" /><ellipse cx="726.0" cy="453.7" rx="3.4" ry="3.8" fill="#f2cf1d" /><polygon points="666.4,443.5 681.5,452.2 681.5,454.2 666.4,445.5" fill="#4aa158" /><polygon points="696.6,443.5 681.5,452.2 681.5,454.2 696.6,445.5" fill="#3f8e4c" /><polygon points="667.8,431.2 681.5,439.1 681.5,451.9 667.8,444.0" fill="#2c6537" stroke="#2c6537" stroke-width="0.7"/><polygon points="695.2,431.2 681.5,439.1 681.5,451.9 695.2,444.0" fill="#27592f" stroke="#27592f" stroke-width="0.7"/><polygon points="666.4,428.0 681.5,436.7 681.5,440.9 666.4,432.2" fill="#52a65d" stroke="#52a65d" stroke-width="0.6"/><polygon points="696.6,428.0 681.5,436.7 681.5,440.9 696.6,432.2" fill="#428c4d" stroke="#428c4d" stroke-width="0.6"/><polygon points="681.5,419.3 696.6,428.0 681.5,436.7 666.4,428.0" fill="#5cb869" /><polygon points="681.5,420.9 693.9,428.0 681.5,435.1 669.1,428.0" fill="#2c6636" /><polygon points="669.1,428.0 681.5,420.9 681.5,431.0 681.5,435.1" fill="#3b7f46" /><polygon points="681.5,420.9 693.9,428.0 681.5,435.1 681.5,431.0" fill="#2e6838" /><polygon points="634.4,467.0 649.5,475.7 649.5,477.7 634.4,469.0" fill="#4aa158" /><polygon points="664.6,467.0 649.5,475.7 649.5,477.7 664.6,469.0" fill="#3f8e4c" /><polygon points="635.8,454.7 649.5,462.6 649.5,475.4 635.8,467.5" fill="#2c6537" stroke="#2c6537" stroke-width="0.7"/><polygon points="663.2,454.7 649.5,462.6 649.5,475.4 663.2,467.5" fill="#27592f" stroke="#27592f" stroke-width="0.7"/><polygon points="634.4,451.5 649.5,460.2 649.5,464.4 634.4,455.7" fill="#52a65d" stroke="#52a65d" stroke-width="0.6"/><polygon points="664.6,451.5 649.5,460.2 649.5,464.4 664.6,455.7" fill="#428c4d" stroke="#428c4d" stroke-width="0.6"/><polygon points="649.5,442.8 664.6,451.5 649.5,460.2 634.4,451.5" fill="#5cb869" /><polygon points="649.5,444.4 661.9,451.5 649.5,458.6 637.1,451.5" fill="#2c6636" /><polygon points="637.1,451.5 649.5,444.4 649.5,454.5 649.5,458.6" fill="#3b7f46" /><polygon points="649.5,444.4 661.9,451.5 649.5,458.6 649.5,454.5" fill="#2e6838" /><polygon points="580.9,490.5 596.0,499.2 596.0,501.2 580.9,492.5" fill="#4aa158" /><polygon points="611.1,490.5 596.0,499.2 596.0,501.2 611.1,492.5" fill="#3f8e4c" /><polygon points="582.3,478.2 596.0,486.1 596.0,498.9 582.3,491.0" fill="#2c6537" stroke="#2c6537" stroke-width="0.7"/><polygon points="609.7,478.2 596.0,486.1 596.0,498.9 609.7,491.0" fill="#27592f" stroke="#27592f" stroke-width="0.7"/><polygon points="580.9,475.0 596.0,483.7 596.0,487.9 580.9,479.2" fill="#52a65d" stroke="#52a65d" stroke-width="0.6"/><polygon points="611.1,475.0 596.0,483.7 596.0,487.9 611.1,479.2" fill="#428c4d" stroke="#428c4d" stroke-width="0.6"/><polygon points="596.0,466.3 611.1,475.0 596.0,483.7 580.9,475.0" fill="#5cb869" /><polygon points="596.0,467.9 608.4,475.0 596.0,482.1 583.6,475.0" fill="#2c6636" /><polygon points="583.6,475.0 596.0,467.9 596.0,478.0 596.0,482.1" fill="#3b7f46" /><polygon points="596.0,467.9 608.4,475.0 596.0,482.1 596.0,478.0" fill="#2e6838" /><linearGradient id="cv5" gradientUnits="userSpaceOnUse" x1="701.0" y1="563.1" x2="706.7" y2="587.1"><stop offset="0" stop-color="#bdbdbd"/><stop offset="0.45" stop-color="#f4f4f4"/><stop offset="0.7" stop-color="#e2e2e2"/><stop offset="1" stop-color="#9a9a9a"/></linearGradient><polygon points="567.2,487.9 565.5,487.1 563.9,487.0 562.5,487.5 561.2,488.6 560.3,490.1 559.8,492.1 559.6,494.5 559.8,497.0 560.3,499.7 561.2,502.3 562.5,504.7 563.9,506.9 565.5,508.6 567.2,509.9 522.7,535.6 521.0,534.3 519.4,532.6 517.9,530.4 516.7,528.0 515.8,525.4 515.3,522.7 515.1,520.2 515.3,517.8 515.8,515.8 516.7,514.3 517.9,513.2 519.4,512.7 521.0,512.8 522.7,513.6" fill="#b2b2b2" /><polygon points="701.0,565.1 567.2,487.9 522.7,513.6 656.5,590.8" fill="#b7b7b7" /><line x1="695.3" y1="561.8" x2="650.8" y2="587.5" stroke="#d4d4d4" stroke-width="1.1" /><line x1="689.6" y1="558.5" x2="645.1" y2="584.2" stroke="#d4d4d4" stroke-width="1.1" /><line x1="683.9" y1="555.2" x2="639.3" y2="580.9" stroke="#d4d4d4" stroke-width="1.1" /><line x1="678.1" y1="551.9" x2="633.6" y2="577.6" stroke="#d4d4d4" stroke-width="1.1" /><line x1="672.4" y1="548.6" x2="627.9" y2="574.3" stroke="#d4d4d4" stroke-width="1.1" /><line x1="666.7" y1="545.3" x2="622.2" y2="571.0" stroke="#d4d4d4" stroke-width="1.1" /><line x1="661.0" y1="542.0" x2="616.5" y2="567.7" stroke="#d4d4d4" stroke-width="1.1" /><line x1="655.3" y1="538.7" x2="610.8" y2="564.4" stroke="#d4d4d4" stroke-width="1.1" /><line x1="649.6" y1="535.4" x2="605.0" y2="561.1" stroke="#d4d4d4" stroke-width="1.1" /><line x1="643.8" y1="532.1" x2="599.3" y2="557.8" stroke="#d4d4d4" stroke-width="1.1" /><line x1="638.1" y1="528.8" x2="593.6" y2="554.5" stroke="#d4d4d4" stroke-width="1.1" /><line x1="632.4" y1="525.5" x2="587.9" y2="551.2" stroke="#d4d4d4" stroke-width="1.1" /><line x1="626.7" y1="522.2" x2="582.2" y2="547.9" stroke="#d4d4d4" stroke-width="1.1" /><line x1="621.0" y1="518.9" x2="576.5" y2="544.6" stroke="#d4d4d4" stroke-width="1.1" /><line x1="615.3" y1="515.6" x2="570.8" y2="541.3" stroke="#d4d4d4" stroke-width="1.1" /><line x1="609.6" y1="512.3" x2="565.0" y2="538.0" stroke="#d4d4d4" stroke-width="1.1" /><line x1="603.8" y1="509.0" x2="559.3" y2="534.7" stroke="#d4d4d4" stroke-width="1.1" /><line x1="598.1" y1="505.7" x2="553.6" y2="531.4" stroke="#d4d4d4" stroke-width="1.1" /><line x1="592.4" y1="502.4" x2="547.9" y2="528.1" stroke="#d4d4d4" stroke-width="1.1" /><line x1="586.7" y1="499.1" x2="542.2" y2="524.8" stroke="#d4d4d4" stroke-width="1.1" /><line x1="581.0" y1="495.8" x2="536.5" y2="521.5" stroke="#d4d4d4" stroke-width="1.1" /><line x1="575.3" y1="492.5" x2="530.7" y2="518.2" stroke="#d4d4d4" stroke-width="1.1" /><line x1="569.5" y1="489.2" x2="525.0" y2="514.9" stroke="#d4d4d4" stroke-width="1.1" /><polygon points="701.0,565.1 702.7,566.4 704.3,568.1 705.8,570.2 707.0,572.7 707.9,575.3 708.4,577.9 708.6,580.5 708.4,582.8 707.9,584.8 707.0,586.4 705.8,587.4 704.3,587.9 702.7,587.8 701.0,587.1 656.5,612.8 658.2,613.5 659.8,613.6 661.2,613.1 662.4,612.1 663.4,610.5 663.9,608.5 664.1,606.2 663.9,603.6 663.4,601.0 662.4,598.4 661.2,595.9 659.8,593.8 658.2,592.1 656.5,590.8" fill="url(#cv5)" /><polygon points="656.5,590.8 658.2,592.1 659.8,593.8 661.2,595.9 662.4,598.4 663.4,601.0 663.9,603.6 664.1,606.2 663.9,608.5 663.4,610.5 662.4,612.1 661.2,613.1 659.8,613.6 658.2,613.5 656.5,612.8 522.7,535.6 521.0,534.3 519.4,532.6 517.9,530.4 516.7,528.0 515.8,525.4 515.3,522.7 515.1,520.2 515.3,517.8 515.8,515.8 516.7,514.3 517.9,513.2 519.4,512.7 521.0,512.8 522.7,513.6" fill="#8d8d8d" /><polygon points="656.5,593.4 657.8,594.4 659.0,595.7 660.1,597.3 661.0,599.2 661.7,601.2 662.2,603.2 662.3,605.2 662.2,606.9 661.7,608.5 661.0,609.7 660.1,610.5 659.0,610.8 657.8,610.7 656.5,610.2 522.7,533.0 521.4,532.0 520.2,530.7 519.1,529.0 518.1,527.2 517.4,525.2 517.0,523.1 516.9,521.2 517.0,519.4 517.4,517.9 518.1,516.7 519.1,515.9 520.2,515.5 521.4,515.6 522.7,516.2" fill="#1c1c1c" /><line x1="656.5" y1="601.8" x2="522.7" y2="524.6" stroke="#e9a545" stroke-width="1.6" /><ellipse cx="656.5" cy="601.8" rx="3.4" ry="3.8" fill="#f2cf1d" /><ellipse cx="634.2" cy="588.9" rx="3.4" ry="3.8" fill="#f2cf1d" /><ellipse cx="611.9" cy="576.1" rx="3.4" ry="3.8" fill="#f2cf1d" /><ellipse cx="589.6" cy="563.2" rx="3.4" ry="3.8" fill="#f2cf1d" /><ellipse cx="567.3" cy="550.3" rx="3.4" ry="3.8" fill="#f2cf1d" /><ellipse cx="545.0" cy="537.4" rx="3.4" ry="3.8" fill="#f2cf1d" /><ellipse cx="522.7" cy="524.6" rx="3.4" ry="3.8" fill="#f2cf1d" /><polygon points="543.7,513.9 558.8,522.6 558.8,524.6 543.7,515.9" fill="#4aa158" /><polygon points="573.9,513.9 558.8,522.6 558.8,524.6 573.9,515.9" fill="#3f8e4c" /><polygon points="545.1,501.6 558.8,509.5 558.8,522.3 545.1,514.4" fill="#2c6537" stroke="#2c6537" stroke-width="0.7"/><polygon points="572.5,501.6 558.8,509.5 558.8,522.3 572.5,514.4" fill="#27592f" stroke="#27592f" stroke-width="0.7"/><polygon points="543.7,498.4 558.8,507.1 558.8,511.3 543.7,502.6" fill="#52a65d" stroke="#52a65d" stroke-width="0.6"/><polygon points="573.9,498.4 558.8,507.1 558.8,511.3 573.9,502.6" fill="#428c4d" stroke="#428c4d" stroke-width="0.6"/><polygon points="558.8,489.7 573.9,498.4 558.8,507.1 543.7,498.4" fill="#5cb869" /><polygon points="558.8,491.3 571.2,498.4 558.8,505.5 546.4,498.4" fill="#2c6636" /><polygon points="546.4,498.4 558.8,491.3 558.8,501.4 558.8,505.5" fill="#3b7f46" /><polygon points="558.8,491.3 571.2,498.4 558.8,505.5 558.8,501.4" fill="#2e6838" /><polygon points="586.2,535.1 601.3,543.8 601.3,545.8 586.2,537.1" fill="#4aa158" /><polygon points="616.4,535.1 601.3,543.8 601.3,545.8 616.4,537.1" fill="#3f8e4c" /><polygon points="587.6,522.8 601.3,530.7 601.3,543.5 587.6,535.6" fill="#2c6537" stroke="#2c6537" stroke-width="0.7"/><polygon points="615.0,522.8 601.3,530.7 601.3,543.5 615.0,535.6" fill="#27592f" stroke="#27592f" stroke-width="0.7"/><polygon points="586.2,519.6 601.3,528.3 601.3,532.5 586.2,523.8" fill="#52a65d" stroke="#52a65d" stroke-width="0.6"/><polygon points="616.4,519.6 601.3,528.3 601.3,532.5 616.4,523.8" fill="#428c4d" stroke="#428c4d" stroke-width="0.6"/><polygon points="601.3,510.9 616.4,519.6 601.3,528.3 586.2,519.6" fill="#5cb869" /><polygon points="601.3,512.5 613.7,519.6 601.3,526.7 588.9,519.6" fill="#2c6636" /><polygon points="588.9,519.6 601.3,512.5 601.3,522.6 601.3,526.7" fill="#3b7f46" /><polygon points="601.3,512.5 613.7,519.6 601.3,526.7 601.3,522.6" fill="#2e6838" /><polygon points="625.5,559.5 640.6,568.2 640.6,570.2 625.5,561.5" fill="#4aa158" /><polygon points="655.7,559.5 640.6,568.2 640.6,570.2 655.7,561.5" fill="#3f8e4c" /><polygon points="626.9,547.2 640.6,555.1 640.6,567.9 626.9,560.0" fill="#2c6537" stroke="#2c6537" stroke-width="0.7"/><polygon points="654.3,547.2 640.6,555.1 640.6,567.9 654.3,560.0" fill="#27592f" stroke="#27592f" stroke-width="0.7"/><polygon points="625.5,544.0 640.6,552.7 640.6,556.9 625.5,548.2" fill="#52a65d" stroke="#52a65d" stroke-width="0.6"/><polygon points="655.7,544.0 640.6,552.7 640.6,556.9 655.7,548.2" fill="#428c4d" stroke="#428c4d" stroke-width="0.6"/><polygon points="640.6,535.3 655.7,544.0 640.6,552.7 625.5,544.0" fill="#5cb869" /><polygon points="640.6,536.9 653.0,544.0 640.6,551.1 628.2,544.0" fill="#2c6636" /><polygon points="628.2,544.0 640.6,536.9 640.6,547.0 640.6,551.1" fill="#3b7f46" /><polygon points="640.6,536.9 653.0,544.0 640.6,551.1 640.6,547.0" fill="#2e6838" /><polygon points="633.0,527.2 619.6,519.5 619.6,450.8 633.0,458.5" fill="#3f6c8a" /><polygon points="633.0,527.2 644.3,520.7 644.3,452.0 633.0,458.5" fill="#233f51" /><polygon points="633.0,458.5 619.6,450.8 630.8,444.3 644.3,452.0" fill="#2a4b60" /><polygon points="633.0,459.5 546.7,409.7 546.7,396.7 633.0,446.5" fill="#3f6c8a" /><polygon points="633.0,459.5 644.3,453.0 644.3,440.0 633.0,446.5" fill="#233f51" /><polygon points="633.0,446.5 546.7,396.7 557.9,390.2 644.3,440.0" fill="#2a4b60" /><polygon points="602.7,446.0 571.5,428.0 571.5,413.0 602.7,431.0" fill="#3f6c8a" /><polygon points="602.7,446.0 606.2,444.0 606.2,429.0 602.7,431.0" fill="#233f51" /><polygon points="602.7,431.0 571.5,413.0 575.0,411.0 606.2,429.0" fill="#2a4b60" /><polygon points="601.1,443.3 573.1,427.1 573.1,415.7 601.1,431.9" fill="#e6e6e6" /><polygon points="341.7,496.5 365.7,496.5 366.2,522.5 366.7,553.5 359.2,553.5 355.7,516.5 350.2,545.5 341.7,542.5" fill="#1f2566" /><ellipse cx="350.2" cy="544.5" rx="7.5" ry="3.4" fill="#2b1b1b" transform="rotate(-25 350.2 544.5)"/><ellipse cx="367.2" cy="554.0" rx="7.5" ry="3.4" fill="#2b1b1b" transform="rotate(-20 367.2 554.0)"/><polygon points="342.2,490.5 366.2,490.5 366.2,499.5 342.2,499.5" fill="#3a3436" /><polygon points="339.2,454.5 348.2,450.5 360.2,450.5 367.2,455.5 372.2,465.5 367.2,468.5 365.2,462.5 342.2,462.5 337.2,462.5" fill="#3a3a3c" stroke="#3a3a3c" stroke-width="1.5" stroke-linejoin="round"/><polygon points="341.2,453.5 347.7,452.0 353.7,454.5 359.7,452.0 365.7,454.5 366.2,493.5 341.7,493.5" fill="#d3262b" /><polygon points="343.4,453.5 345.8,453.1 346.6,482.5 344.0,482.5" fill="#f2dc27" /><polygon points="358.6,453.1 361.0,453.5 360.6,482.5 358.2,482.5" fill="#f2dc27" /><polygon points="341.6,482.5 366.2,482.5 366.2,488.5 341.6,488.5" fill="#f2dc27" /><rect x="350.2" y="447.5" width="7.0" height="6.0" fill="#e3ddb0" /><ellipse cx="353.7" cy="443.5" rx="6.0" ry="7.2" fill="#1c1919" /><ellipse cx="358.4" cy="445.0" rx="2.2" ry="4.5" fill="#e3ddb0" /><ellipse cx="353.2" cy="436.1" rx="6.9" ry="3.6" fill="#e3d62f" /><path d="M346.3,436.3 l13.8,0 l0,2.2 q-6.5,1.6 -13.8,0 Z" fill="#e3d62f" /><polyline points="340.2,458.5 334.2,442.5 332.2,424.5" fill="none" stroke="#e3ddb0" stroke-width="4.0" stroke-linecap="round" stroke-linejoin="round"/><polyline points="341.2,457.5 338.2,450.5" fill="none" stroke="#3a3a3c" stroke-width="6.6" stroke-linecap="round" stroke-linejoin="round"/><circle cx="332.2" cy="424.5" r="2.9" fill="#e3ddb0" /><polyline points="368.2,464.5 379.2,459.5 395.2,449.5" fill="none" stroke="#e3ddb0" stroke-width="4.0" stroke-linecap="round" stroke-linejoin="round"/><polyline points="367.2,463.5 373.2,462.5" fill="none" stroke="#3a3a3c" stroke-width="6.6" stroke-linecap="round" stroke-linejoin="round"/><circle cx="395.2" cy="449.5" r="2.9" fill="#e3ddb0" /><polygon points="426.6,484.8 443.2,476.0 480.7,470.3 480.7,517.3 426.6,543.3" fill="#4d497b" /><polygon points="417.9,469.1 433.2,459.1 426.3,453.5 444.0,443.8 480.7,470.6 480.7,481.4 443.2,502.3 443.2,476.0 426.3,485.2" fill="#64608f" /><polygon points="443.2,483.3 453.9,489.3 480.7,475.3 480.7,483.3 453.9,498.3 443.2,492.9" fill="#565286" /><polygon points="392.6,455.3 427.9,434.6 444.0,443.8 426.3,453.5 433.2,459.1 417.9,469.1" fill="#8784ae" /><polygon points="426.3,453.5 433.2,459.1 433.2,461.8 426.3,456.3" fill="#5a5688" /><polygon points="392.6,455.3 418.1,469.5 426.6,484.8 426.6,540.8 392.6,521.3" fill="#37325f" /><polygon points="418.1,469.5 433.2,459.1 443.2,476.0 426.6,485.2" fill="#6a6695" /><polygon points="441.1,474.3 463.1,461.6 479.6,470.5 455.6,485.3" fill="#2f2b5c" /><polygon points="441.7,472.7 452.4,482.2 452.4,485.4 441.7,475.9" fill="#d2c637" /><polygon points="452.4,482.2 472.8,468.4 472.8,471.6 452.4,485.4" fill="#e3d733" /><polygon points="441.7,472.7 460.8,461.7 472.8,468.4 452.4,482.2" fill="#f5e826" /><clipPath id="hc4"><polygon points="444.8,472.6 460.1,463.8 469.7,469.1 453.4,480.1" fill="#000" /></clipPath><polygon points="444.8,472.6 460.1,463.8 460.1,483.8 444.8,492.6" fill="#d9cd3c" clip-path="url(#hc4)"/><polygon points="460.1,463.8 469.7,469.1 469.7,489.1 460.1,483.8" fill="#c4b935" clip-path="url(#hc4)"/><polygon points="444.8,476.4 460.1,467.6 469.7,472.9 453.4,483.9" fill="#2a2424" clip-path="url(#hc4)"/><polygon points="433.2,506.3 449.6,516.3 449.6,547.8 433.2,538.3" fill="#d9cd2a" /><polygon points="433.2,506.3 475.9,483.3 492.1,492.1 449.6,516.3" fill="#f3e734" /><polygon points="449.6,516.3 492.1,492.1 492.1,524.3 449.6,547.8" fill="#e9e9e9" /><polygon points="449.6,516.3 492.1,492.1 492.1,496.3 449.6,520.5" fill="#e4d82e" /><polygon points="453.6,522.8 489.6,502.3 489.6,521.8 453.6,542.3" fill="#c9c6c5" /><polygon points="455.4,523.3 477.7,510.8 477.7,521.3 455.4,533.8" fill="#282424" /><polygon points="478.4,510.3 489.6,503.9 489.6,521.8 478.4,521.3" fill="#b5b1b0" /><path d="M383.6,535.8 l0,-10 q0.5,-5 5,-7.5 l7,-4 q3,-1 4.5,2 l0,4 l-7.5,4.5 q-2,1.5 -2,4 l0,7 q-3.5,3.5 -7,0 Z" fill="#cbcbcb" opacity="0.93"/><path d="M383.6,525.8 q0.5,-5 5,-7.5 l7,-4 q3,-1 4.5,2 l-8,4.5 q-3,2 -3.5,5 Z" fill="#e4e4e4" opacity="0.95"/><path d="M385.4,526.8 l0,9 q1.7,1.6 3.4,0 l0,-9 Z" fill="#f6f6f6" opacity="0.8"/><path d="M393.0,541.7 l0,-10 q0.5,-5 5,-7.5 l7,-4 q3,-1 4.5,2 l0,4 l-7.5,4.5 q-2,1.5 -2,4 l0,7 q-3.5,3.5 -7,0 Z" fill="#cbcbcb" opacity="0.93"/><path d="M393.0,531.7 q0.5,-5 5,-7.5 l7,-4 q3,-1 4.5,2 l-8,4.5 q-3,2 -3.5,5 Z" fill="#e4e4e4" opacity="0.95"/><path d="M394.8,532.7 l0,9 q1.7,1.6 3.4,0 l0,-9 Z" fill="#f6f6f6" opacity="0.8"/><path d="M402.4,547.6 l0,-10 q0.5,-5 5,-7.5 l7,-4 q3,-1 4.5,2 l0,4 l-7.5,4.5 q-2,1.5 -2,4 l0,7 q-3.5,3.5 -7,0 Z" fill="#cbcbcb" opacity="0.93"/><path d="M402.4,537.6 q0.5,-5 5,-7.5 l7,-4 q3,-1 4.5,2 l-8,4.5 q-3,2 -3.5,5 Z" fill="#e4e4e4" opacity="0.95"/><path d="M404.2,538.6 l0,9 q1.7,1.6 3.4,0 l0,-9 Z" fill="#f6f6f6" opacity="0.8"/><polygon points="559.2,619.2 449.2,555.7 449.2,553.2 559.2,616.7" fill="#1f1c4a" /><polygon points="559.2,619.2 602.5,594.2 602.5,591.7 559.2,616.7" fill="#25225a" /><polygon points="559.2,616.7 449.2,553.2 492.5,528.2 602.5,591.7" fill="#474581" /><polygon points="550.0,607.8 465.1,558.8 465.1,549.8 550.0,598.8" fill="#d2c637" /><polygon points="550.0,607.8 583.8,588.3 583.8,579.3 550.0,598.8" fill="#e3d733" /><polygon points="550.0,598.8 465.1,549.8 498.9,530.3 583.8,579.3" fill="#f5e826" /><clipPath id="bc2"><polygon points="550.0,594.3 472.9,549.8 498.9,534.8 576.0,579.3" fill="#000" /></clipPath><polygon points="472.9,549.8 498.9,534.8 498.9,563.8 472.9,578.8" fill="#d9cd3c" clip-path="url(#bc2)"/><polygon points="498.9,534.8 576.0,579.3 576.0,608.3 498.9,563.8" fill="#c4b935" clip-path="url(#bc2)"/><polygon points="550.0,602.9 472.9,558.4 498.9,543.4 576.0,587.9" fill="#2a2222" clip-path="url(#bc2)"/><polygon points="472.1,541.5 496.1,541.5 496.6,567.5 497.1,598.5 489.6,598.5 486.1,561.5 480.6,590.5 472.1,587.5" fill="#1f2566" /><ellipse cx="480.6" cy="589.5" rx="7.5" ry="3.4" fill="#2b1b1b" transform="rotate(-25 480.6 589.5)"/><ellipse cx="497.6" cy="599.0" rx="7.5" ry="3.4" fill="#2b1b1b" transform="rotate(-20 497.6 599.0)"/><polygon points="472.6,535.5 496.6,535.5 496.6,544.5 472.6,544.5" fill="#3a3436" /><polygon points="469.6,499.5 478.6,495.5 490.6,495.5 497.6,500.5 502.6,510.5 497.6,513.5 495.6,507.5 472.6,507.5 467.6,507.5" fill="#3a3a3c" stroke="#3a3a3c" stroke-width="1.5" stroke-linejoin="round"/><polygon points="471.6,498.5 478.1,497.0 484.1,499.5 490.1,497.0 496.1,499.5 496.6,538.5 472.1,538.5" fill="#d3262b" /><polygon points="473.8,498.5 476.2,498.1 477.0,527.5 474.4,527.5" fill="#f2dc27" /><polygon points="489.0,498.1 491.4,498.5 491.0,527.5 488.6,527.5" fill="#f2dc27" /><polygon points="472.0,527.5 496.6,527.5 496.6,533.5 472.0,533.5" fill="#f2dc27" /><rect x="480.6" y="492.5" width="7.0" height="6.0" fill="#e3ddb0" /><ellipse cx="484.1" cy="488.5" rx="6.0" ry="7.2" fill="#1c1919" /><ellipse cx="488.8" cy="490.0" rx="2.2" ry="4.5" fill="#e3ddb0" /><ellipse cx="483.6" cy="481.1" rx="6.9" ry="3.6" fill="#e3d62f" /><path d="M476.7,481.3 l13.8,0 l0,2.2 q-6.5,1.6 -13.8,0 Z" fill="#e3d62f" /><polyline points="493.6,497.5 503.6,489.5 515.6,482.5" fill="none" stroke="#e3ddb0" stroke-width="4.0" stroke-linecap="round" stroke-linejoin="round"/><circle cx="515.6" cy="482.5" r="2.9" fill="#e3ddb0" /><polyline points="498.6,513.5 505.6,521.5 509.6,507.5" fill="none" stroke="#e3ddb0" stroke-width="4.0" stroke-linecap="round" stroke-linejoin="round"/><polyline points="497.6,507.5 500.6,515.5" fill="none" stroke="#3a3a3c" stroke-width="6.6" stroke-linecap="round" stroke-linejoin="round"/><circle cx="509.6" cy="507.5" r="2.9" fill="#e3ddb0" /><polygon points="1006.0,414.5 961.8,389.0 961.8,387.2 1006.0,412.7" fill="#1f1c4a" /><polygon points="1006.0,414.5 1050.2,389.0 1050.2,387.2 1006.0,412.7" fill="#25225a" /><polygon points="1006.0,412.7 961.8,387.2 1006.0,361.7 1050.2,387.2" fill="#474581" /><polygon points="1006.0,405.0 970.5,384.5 970.5,374.5 1006.0,395.0" fill="#d2c637" /><polygon points="1006.0,405.0 1041.5,384.5 1041.5,374.5 1006.0,395.0" fill="#e3d733" /><polygon points="1006.0,395.0 970.5,374.5 1006.0,354.0 1041.5,374.5" fill="#f5e826" /><clipPath id="bc3"><polygon points="1006.0,391.4 976.7,374.5 1006.0,357.6 1035.3,374.5" fill="#000" /></clipPath><polygon points="976.7,374.5 1006.0,357.6 1006.0,387.6 976.7,404.5" fill="#d9cd3c" clip-path="url(#bc3)"/><polygon points="1006.0,357.6 1035.3,374.5 1035.3,404.5 1006.0,387.6" fill="#c4b935" clip-path="url(#bc3)"/><polygon points="1006.0,401.0 976.7,384.1 1006.0,367.2 1035.3,384.1" fill="#2a2222" clip-path="url(#bc3)"/><polygon points="922.5,411.3 938.3,420.4 938.3,422.5 922.5,413.4" fill="#4aa158" /><polygon points="954.1,411.3 938.3,420.4 938.3,422.5 954.1,413.4" fill="#3f8e4c" /><polygon points="923.9,398.4 938.3,406.8 938.3,420.2 923.9,411.8" fill="#2c6537" stroke="#2c6537" stroke-width="0.7"/><polygon points="952.7,398.4 938.3,406.8 938.3,420.2 952.7,411.8" fill="#27592f" stroke="#27592f" stroke-width="0.7"/><polygon points="922.5,395.0 938.3,404.1 938.3,408.5 922.5,399.4" fill="#52a65d" stroke="#52a65d" stroke-width="0.6"/><polygon points="954.1,395.0 938.3,404.1 938.3,408.5 954.1,399.4" fill="#428c4d" stroke="#428c4d" stroke-width="0.6"/><polygon points="938.3,385.9 954.1,395.0 938.3,404.1 922.5,395.0" fill="#5cb869" /><polygon points="938.3,387.5 951.3,395.0 938.3,402.5 925.3,395.0" fill="#2c6636" /><polygon points="925.3,395.0 938.3,387.5 938.3,398.2 938.3,402.5" fill="#3b7f46" /><polygon points="938.3,387.5 951.3,395.0 938.3,402.5 938.3,398.2" fill="#2e6838" /><polygon points="902.5,424.6 918.3,433.7 918.3,435.8 902.5,426.7" fill="#4aa158" /><polygon points="934.1,424.6 918.3,433.7 918.3,435.8 934.1,426.7" fill="#3f8e4c" /><polygon points="903.9,411.7 918.3,420.1 918.3,433.5 903.9,425.1" fill="#2c6537" stroke="#2c6537" stroke-width="0.7"/><polygon points="932.7,411.7 918.3,420.1 918.3,433.5 932.7,425.1" fill="#27592f" stroke="#27592f" stroke-width="0.7"/><polygon points="902.5,408.3 918.3,417.4 918.3,421.8 902.5,412.7" fill="#52a65d" stroke="#52a65d" stroke-width="0.6"/><polygon points="934.1,408.3 918.3,417.4 918.3,421.8 934.1,412.7" fill="#428c4d" stroke="#428c4d" stroke-width="0.6"/><polygon points="918.3,399.2 934.1,408.3 918.3,417.4 902.5,408.3" fill="#5cb869" /><polygon points="918.3,400.8 931.3,408.3 918.3,415.8 905.3,408.3" fill="#2c6636" /><polygon points="905.3,408.3 918.3,400.8 918.3,411.5 918.3,415.8" fill="#3b7f46" /><polygon points="918.3,400.8 931.3,408.3 918.3,415.8 918.3,411.5" fill="#2e6838" /><polygon points="942.0,424.6 957.8,433.7 957.8,435.8 942.0,426.7" fill="#4aa158" /><polygon points="973.6,424.6 957.8,433.7 957.8,435.8 973.6,426.7" fill="#3f8e4c" /><polygon points="943.4,411.7 957.8,420.1 957.8,433.5 943.4,425.1" fill="#2c6537" stroke="#2c6537" stroke-width="0.7"/><polygon points="972.2,411.7 957.8,420.1 957.8,433.5 972.2,425.1" fill="#27592f" stroke="#27592f" stroke-width="0.7"/><polygon points="942.0,408.3 957.8,417.4 957.8,421.8 942.0,412.7" fill="#52a65d" stroke="#52a65d" stroke-width="0.6"/><polygon points="973.6,408.3 957.8,417.4 957.8,421.8 973.6,412.7" fill="#428c4d" stroke="#428c4d" stroke-width="0.6"/><polygon points="957.8,399.2 973.6,408.3 957.8,417.4 942.0,408.3" fill="#5cb869" /><polygon points="957.8,400.8 970.8,408.3 957.8,415.8 944.8,408.3" fill="#2c6636" /><polygon points="944.8,408.3 957.8,400.8 957.8,411.5 957.8,415.8" fill="#3b7f46" /><polygon points="957.8,400.8 970.8,408.3 957.8,415.8 957.8,411.5" fill="#2e6838" /><polygon points="920.9,436.3 936.7,445.4 936.7,447.5 920.9,438.4" fill="#4aa158" /><polygon points="952.5,436.3 936.7,445.4 936.7,447.5 952.5,438.4" fill="#3f8e4c" /><polygon points="922.3,423.4 936.7,431.8 936.7,445.2 922.3,436.8" fill="#2c6537" stroke="#2c6537" stroke-width="0.7"/><polygon points="951.1,423.4 936.7,431.8 936.7,445.2 951.1,436.8" fill="#27592f" stroke="#27592f" stroke-width="0.7"/><polygon points="920.9,420.0 936.7,429.1 936.7,433.5 920.9,424.4" fill="#52a65d" stroke="#52a65d" stroke-width="0.6"/><polygon points="952.5,420.0 936.7,429.1 936.7,433.5 952.5,424.4" fill="#428c4d" stroke="#428c4d" stroke-width="0.6"/><polygon points="936.7,410.9 952.5,420.0 936.7,429.1 920.9,420.0" fill="#5cb869" /><polygon points="936.7,412.5 949.7,420.0 936.7,427.5 923.7,420.0" fill="#2c6636" /><polygon points="923.7,420.0 936.7,412.5 936.7,423.2 936.7,427.5" fill="#3b7f46" /><polygon points="936.7,412.5 949.7,420.0 936.7,427.5 936.7,423.2" fill="#2e6838" /><g transform="translate(962.5,0) scale(-1,1) translate(-962.5,0)"><polygon points="951.0,437.0 975.0,437.0 975.5,463.0 976.0,494.0 968.5,494.0 965.0,457.0 959.5,486.0 951.0,483.0" fill="#1f2566" /><ellipse cx="959.5" cy="485.0" rx="7.5" ry="3.4" fill="#2b1b1b" transform="rotate(-25 959.5 485.0)"/><ellipse cx="976.5" cy="494.5" rx="7.5" ry="3.4" fill="#2b1b1b" transform="rotate(-20 976.5 494.5)"/><polygon points="951.5,431.0 975.5,431.0 975.5,440.0 951.5,440.0" fill="#3a3436" /><polygon points="948.5,395.0 957.5,391.0 969.5,391.0 976.5,396.0 981.5,406.0 976.5,409.0 974.5,403.0 951.5,403.0 946.5,403.0" fill="#3a3a3c" stroke="#3a3a3c" stroke-width="1.5" stroke-linejoin="round"/><polygon points="950.5,394.0 957.0,392.5 963.0,395.0 969.0,392.5 975.0,395.0 975.5,434.0 951.0,434.0" fill="#d3262b" /><polygon points="952.7,394.0 955.1,393.6 955.9,423.0 953.3,423.0" fill="#f2dc27" /><polygon points="967.9,393.6 970.3,394.0 969.9,423.0 967.5,423.0" fill="#f2dc27" /><polygon points="950.9,423.0 975.5,423.0 975.5,429.0 950.9,429.0" fill="#f2dc27" /><rect x="959.5" y="388.0" width="7.0" height="6.0" fill="#e3ddb0" /><ellipse cx="963.0" cy="384.0" rx="6.0" ry="7.2" fill="#1c1919" /><ellipse cx="967.7" cy="385.5" rx="2.2" ry="4.5" fill="#e3ddb0" /><ellipse cx="962.5" cy="376.6" rx="6.9" ry="3.6" fill="#e3d62f" /><path d="M955.6,376.8 l13.8,0 l0,2.2 q-6.5,1.6 -13.8,0 Z" fill="#e3d62f" /><polyline points="968.5,393.0 978.5,383.0 988.5,377.0" fill="none" stroke="#e3ddb0" stroke-width="4.0" stroke-linecap="round" stroke-linejoin="round"/><circle cx="988.5" cy="377.0" r="2.9" fill="#e3ddb0" /><polyline points="973.5,403.0 978.5,415.0 985.5,403.0" fill="none" stroke="#e3ddb0" stroke-width="4.0" stroke-linecap="round" stroke-linejoin="round"/><polyline points="974.5,401.0 976.5,408.0" fill="none" stroke="#3a3a3c" stroke-width="6.6" stroke-linecap="round" stroke-linejoin="round"/><circle cx="985.5" cy="403.0" r="2.9" fill="#e3ddb0" /></g><polygon points="869.2,446.3 885.0,455.4 885.0,457.5 869.2,448.4" fill="#4aa158" /><polygon points="900.8,446.3 885.0,455.4 885.0,457.5 900.8,448.4" fill="#3f8e4c" /><polygon points="870.6,433.4 885.0,441.8 885.0,455.2 870.6,446.8" fill="#2c6537" stroke="#2c6537" stroke-width="0.7"/><polygon points="899.4,433.4 885.0,441.8 885.0,455.2 899.4,446.8" fill="#27592f" stroke="#27592f" stroke-width="0.7"/><polygon points="869.2,430.0 885.0,439.1 885.0,443.5 869.2,434.4" fill="#52a65d" stroke="#52a65d" stroke-width="0.6"/><polygon points="900.8,430.0 885.0,439.1 885.0,443.5 900.8,434.4" fill="#428c4d" stroke="#428c4d" stroke-width="0.6"/><polygon points="885.0,420.9 900.8,430.0 885.0,439.1 869.2,430.0" fill="#5cb869" /><polygon points="885.0,422.5 898.0,430.0 885.0,437.5 872.0,430.0" fill="#2c6636" /><polygon points="872.0,430.0 885.0,422.5 885.0,433.2 885.0,437.5" fill="#3b7f46" /><polygon points="885.0,422.5 898.0,430.0 885.0,437.5 885.0,433.2" fill="#2e6838" /><polygon points="849.2,459.6 865.0,468.7 865.0,470.8 849.2,461.7" fill="#4aa158" /><polygon points="880.8,459.6 865.0,468.7 865.0,470.8 880.8,461.7" fill="#3f8e4c" /><polygon points="850.6,446.7 865.0,455.1 865.0,468.5 850.6,460.1" fill="#2c6537" stroke="#2c6537" stroke-width="0.7"/><polygon points="879.4,446.7 865.0,455.1 865.0,468.5 879.4,460.1" fill="#27592f" stroke="#27592f" stroke-width="0.7"/><polygon points="849.2,443.3 865.0,452.4 865.0,456.8 849.2,447.7" fill="#52a65d" stroke="#52a65d" stroke-width="0.6"/><polygon points="880.8,443.3 865.0,452.4 865.0,456.8 880.8,447.7" fill="#428c4d" stroke="#428c4d" stroke-width="0.6"/><polygon points="865.0,434.2 880.8,443.3 865.0,452.4 849.2,443.3" fill="#5cb869" /><polygon points="865.0,435.8 878.0,443.3 865.0,450.8 852.0,443.3" fill="#2c6636" /><polygon points="852.0,443.3 865.0,435.8 865.0,446.5 865.0,450.8" fill="#3b7f46" /><polygon points="865.0,435.8 878.0,443.3 865.0,450.8 865.0,446.5" fill="#2e6838" /><polygon points="888.7,459.6 904.5,468.7 904.5,470.8 888.7,461.7" fill="#4aa158" /><polygon points="920.3,459.6 904.5,468.7 904.5,470.8 920.3,461.7" fill="#3f8e4c" /><polygon points="890.1,446.7 904.5,455.1 904.5,468.5 890.1,460.1" fill="#2c6537" stroke="#2c6537" stroke-width="0.7"/><polygon points="918.9,446.7 904.5,455.1 904.5,468.5 918.9,460.1" fill="#27592f" stroke="#27592f" stroke-width="0.7"/><polygon points="888.7,443.3 904.5,452.4 904.5,456.8 888.7,447.7" fill="#52a65d" stroke="#52a65d" stroke-width="0.6"/><polygon points="920.3,443.3 904.5,452.4 904.5,456.8 920.3,447.7" fill="#428c4d" stroke="#428c4d" stroke-width="0.6"/><polygon points="904.5,434.2 920.3,443.3 904.5,452.4 888.7,443.3" fill="#5cb869" /><polygon points="904.5,435.8 917.5,443.3 904.5,450.8 891.5,443.3" fill="#2c6636" /><polygon points="891.5,443.3 904.5,435.8 904.5,446.5 904.5,450.8" fill="#3b7f46" /><polygon points="904.5,435.8 917.5,443.3 904.5,450.8 904.5,446.5" fill="#2e6838" /><polygon points="867.6,471.3 883.4,480.4 883.4,482.5 867.6,473.4" fill="#4aa158" /><polygon points="899.2,471.3 883.4,480.4 883.4,482.5 899.2,473.4" fill="#3f8e4c" /><polygon points="869.0,458.4 883.4,466.8 883.4,480.2 869.0,471.8" fill="#2c6537" stroke="#2c6537" stroke-width="0.7"/><polygon points="897.8,458.4 883.4,466.8 883.4,480.2 897.8,471.8" fill="#27592f" stroke="#27592f" stroke-width="0.7"/><polygon points="867.6,455.0 883.4,464.1 883.4,468.5 867.6,459.4" fill="#52a65d" stroke="#52a65d" stroke-width="0.6"/><polygon points="899.2,455.0 883.4,464.1 883.4,468.5 899.2,459.4" fill="#428c4d" stroke="#428c4d" stroke-width="0.6"/><polygon points="883.4,445.9 899.2,455.0 883.4,464.1 867.6,455.0" fill="#5cb869" /><polygon points="883.4,447.5 896.4,455.0 883.4,462.5 870.4,455.0" fill="#2c6636" /><polygon points="870.4,455.0 883.4,447.5 883.4,458.2 883.4,462.5" fill="#3b7f46" /><polygon points="883.4,447.5 896.4,455.0 883.4,462.5 883.4,458.2" fill="#2e6838" /><polygon points="757.5,508.0 773.3,517.1 773.3,519.2 757.5,510.1" fill="#4aa158" /><polygon points="789.1,508.0 773.3,517.1 773.3,519.2 789.1,510.1" fill="#3f8e4c" /><polygon points="758.9,495.1 773.3,503.5 773.3,516.9 758.9,508.5" fill="#2c6537" stroke="#2c6537" stroke-width="0.7"/><polygon points="787.7,495.1 773.3,503.5 773.3,516.9 787.7,508.5" fill="#27592f" stroke="#27592f" stroke-width="0.7"/><polygon points="757.5,491.7 773.3,500.8 773.3,505.2 757.5,496.1" fill="#52a65d" stroke="#52a65d" stroke-width="0.6"/><polygon points="789.1,491.7 773.3,500.8 773.3,505.2 789.1,496.1" fill="#428c4d" stroke="#428c4d" stroke-width="0.6"/><polygon points="773.3,482.6 789.1,491.7 773.3,500.8 757.5,491.7" fill="#5cb869" /><polygon points="773.3,484.2 786.3,491.7 773.3,499.2 760.3,491.7" fill="#2c6636" /><polygon points="760.3,491.7 773.3,484.2 773.3,494.9 773.3,499.2" fill="#3b7f46" /><polygon points="773.3,484.2 786.3,491.7 773.3,499.2 773.3,494.9" fill="#2e6838" /><polygon points="737.5,521.3 753.3,530.4 753.3,532.5 737.5,523.4" fill="#4aa158" /><polygon points="769.1,521.3 753.3,530.4 753.3,532.5 769.1,523.4" fill="#3f8e4c" /><polygon points="738.9,508.4 753.3,516.8 753.3,530.2 738.9,521.8" fill="#2c6537" stroke="#2c6537" stroke-width="0.7"/><polygon points="767.7,508.4 753.3,516.8 753.3,530.2 767.7,521.8" fill="#27592f" stroke="#27592f" stroke-width="0.7"/><polygon points="737.5,505.0 753.3,514.1 753.3,518.5 737.5,509.4" fill="#52a65d" stroke="#52a65d" stroke-width="0.6"/><polygon points="769.1,505.0 753.3,514.1 753.3,518.5 769.1,509.4" fill="#428c4d" stroke="#428c4d" stroke-width="0.6"/><polygon points="753.3,495.9 769.1,505.0 753.3,514.1 737.5,505.0" fill="#5cb869" /><polygon points="753.3,497.5 766.3,505.0 753.3,512.5 740.3,505.0" fill="#2c6636" /><polygon points="740.3,505.0 753.3,497.5 753.3,508.2 753.3,512.5" fill="#3b7f46" /><polygon points="753.3,497.5 766.3,505.0 753.3,512.5 753.3,508.2" fill="#2e6838" /><polygon points="777.0,521.3 792.8,530.4 792.8,532.5 777.0,523.4" fill="#4aa158" /><polygon points="808.6,521.3 792.8,530.4 792.8,532.5 808.6,523.4" fill="#3f8e4c" /><polygon points="778.4,508.4 792.8,516.8 792.8,530.2 778.4,521.8" fill="#2c6537" stroke="#2c6537" stroke-width="0.7"/><polygon points="807.2,508.4 792.8,516.8 792.8,530.2 807.2,521.8" fill="#27592f" stroke="#27592f" stroke-width="0.7"/><polygon points="777.0,505.0 792.8,514.1 792.8,518.5 777.0,509.4" fill="#52a65d" stroke="#52a65d" stroke-width="0.6"/><polygon points="808.6,505.0 792.8,514.1 792.8,518.5 808.6,509.4" fill="#428c4d" stroke="#428c4d" stroke-width="0.6"/><polygon points="792.8,495.9 808.6,505.0 792.8,514.1 777.0,505.0" fill="#5cb869" /><polygon points="792.8,497.5 805.8,505.0 792.8,512.5 779.8,505.0" fill="#2c6636" /><polygon points="779.8,505.0 792.8,497.5 792.8,508.2 792.8,512.5" fill="#3b7f46" /><polygon points="792.8,497.5 805.8,505.0 792.8,512.5 792.8,508.2" fill="#2e6838" /><polygon points="755.9,533.0 771.7,542.1 771.7,544.2 755.9,535.1" fill="#4aa158" /><polygon points="787.5,533.0 771.7,542.1 771.7,544.2 787.5,535.1" fill="#3f8e4c" /><polygon points="757.3,520.1 771.7,528.5 771.7,541.9 757.3,533.5" fill="#2c6537" stroke="#2c6537" stroke-width="0.7"/><polygon points="786.1,520.1 771.7,528.5 771.7,541.9 786.1,533.5" fill="#27592f" stroke="#27592f" stroke-width="0.7"/><polygon points="755.9,516.7 771.7,525.9 771.7,530.2 755.9,521.1" fill="#52a65d" stroke="#52a65d" stroke-width="0.6"/><polygon points="787.5,516.7 771.7,525.9 771.7,530.2 787.5,521.1" fill="#428c4d" stroke="#428c4d" stroke-width="0.6"/><polygon points="771.7,507.6 787.5,516.7 771.7,525.9 755.9,516.7" fill="#5cb869" /><polygon points="771.7,509.2 784.7,516.7 771.7,524.2 758.7,516.7" fill="#2c6636" /><polygon points="758.7,516.7 771.7,509.2 771.7,519.9 771.7,524.2" fill="#3b7f46" /><polygon points="771.7,509.2 784.7,516.7 771.7,524.2 771.7,519.9" fill="#2e6838" /><polygon points="704.2,543.0 720.0,552.1 720.0,554.2 704.2,545.1" fill="#4aa158" /><polygon points="735.8,543.0 720.0,552.1 720.0,554.2 735.8,545.1" fill="#3f8e4c" /><polygon points="705.6,530.1 720.0,538.5 720.0,551.9 705.6,543.5" fill="#2c6537" stroke="#2c6537" stroke-width="0.7"/><polygon points="734.4,530.1 720.0,538.5 720.0,551.9 734.4,543.5" fill="#27592f" stroke="#27592f" stroke-width="0.7"/><polygon points="704.2,526.7 720.0,535.9 720.0,540.2 704.2,531.1" fill="#52a65d" stroke="#52a65d" stroke-width="0.6"/><polygon points="735.8,526.7 720.0,535.9 720.0,540.2 735.8,531.1" fill="#428c4d" stroke="#428c4d" stroke-width="0.6"/><polygon points="720.0,517.6 735.8,526.7 720.0,535.9 704.2,526.7" fill="#5cb869" /><polygon points="720.0,519.2 733.0,526.7 720.0,534.2 707.0,526.7" fill="#2c6636" /><polygon points="707.0,526.7 720.0,519.2 720.0,529.9 720.0,534.2" fill="#3b7f46" /><polygon points="720.0,519.2 733.0,526.7 720.0,534.2 720.0,529.9" fill="#2e6838" /><polygon points="684.2,556.3 700.0,565.4 700.0,567.5 684.2,558.4" fill="#4aa158" /><polygon points="715.8,556.3 700.0,565.4 700.0,567.5 715.8,558.4" fill="#3f8e4c" /><polygon points="685.6,543.4 700.0,551.8 700.0,565.2 685.6,556.8" fill="#2c6537" stroke="#2c6537" stroke-width="0.7"/><polygon points="714.4,543.4 700.0,551.8 700.0,565.2 714.4,556.8" fill="#27592f" stroke="#27592f" stroke-width="0.7"/><polygon points="684.2,540.0 700.0,549.1 700.0,553.5 684.2,544.4" fill="#52a65d" stroke="#52a65d" stroke-width="0.6"/><polygon points="715.8,540.0 700.0,549.1 700.0,553.5 715.8,544.4" fill="#428c4d" stroke="#428c4d" stroke-width="0.6"/><polygon points="700.0,530.9 715.8,540.0 700.0,549.1 684.2,540.0" fill="#5cb869" /><polygon points="700.0,532.5 713.0,540.0 700.0,547.5 687.0,540.0" fill="#2c6636" /><polygon points="687.0,540.0 700.0,532.5 700.0,543.2 700.0,547.5" fill="#3b7f46" /><polygon points="700.0,532.5 713.0,540.0 700.0,547.5 700.0,543.2" fill="#2e6838" /><polygon points="723.7,556.3 739.5,565.4 739.5,567.5 723.7,558.4" fill="#4aa158" /><polygon points="755.3,556.3 739.5,565.4 739.5,567.5 755.3,558.4" fill="#3f8e4c" /><polygon points="725.1,543.4 739.5,551.8 739.5,565.2 725.1,556.8" fill="#2c6537" stroke="#2c6537" stroke-width="0.7"/><polygon points="753.9,543.4 739.5,551.8 739.5,565.2 753.9,556.8" fill="#27592f" stroke="#27592f" stroke-width="0.7"/><polygon points="723.7,540.0 739.5,549.1 739.5,553.5 723.7,544.4" fill="#52a65d" stroke="#52a65d" stroke-width="0.6"/><polygon points="755.3,540.0 739.5,549.1 739.5,553.5 755.3,544.4" fill="#428c4d" stroke="#428c4d" stroke-width="0.6"/><polygon points="739.5,530.9 755.3,540.0 739.5,549.1 723.7,540.0" fill="#5cb869" /><polygon points="739.5,532.5 752.5,540.0 739.5,547.5 726.5,540.0" fill="#2c6636" /><polygon points="726.5,540.0 739.5,532.5 739.5,543.2 739.5,547.5" fill="#3b7f46" /><polygon points="739.5,532.5 752.5,540.0 739.5,547.5 739.5,543.2" fill="#2e6838" /><polygon points="702.6,568.0 718.4,577.1 718.4,579.2 702.6,570.1" fill="#4aa158" /><polygon points="734.2,568.0 718.4,577.1 718.4,579.2 734.2,570.1" fill="#3f8e4c" /><polygon points="704.0,555.1 718.4,563.5 718.4,576.9 704.0,568.5" fill="#2c6537" stroke="#2c6537" stroke-width="0.7"/><polygon points="732.8,555.1 718.4,563.5 718.4,576.9 732.8,568.5" fill="#27592f" stroke="#27592f" stroke-width="0.7"/><polygon points="702.6,551.7 718.4,560.9 718.4,565.2 702.6,556.1" fill="#52a65d" stroke="#52a65d" stroke-width="0.6"/><polygon points="734.2,551.7 718.4,560.9 718.4,565.2 734.2,556.1" fill="#428c4d" stroke="#428c4d" stroke-width="0.6"/><polygon points="718.4,542.6 734.2,551.7 718.4,560.9 702.6,551.7" fill="#5cb869" /><polygon points="718.4,544.2 731.4,551.7 718.4,559.2 705.4,551.7" fill="#2c6636" /><polygon points="705.4,551.7 718.4,544.2 718.4,554.9 718.4,559.2" fill="#3b7f46" /><polygon points="718.4,544.2 731.4,551.7 718.4,559.2 718.4,554.9" fill="#2e6838" /><polygon points="809.2,544.6 825.0,553.7 825.0,555.8 809.2,546.7" fill="#4aa158" /><polygon points="840.8,544.6 825.0,553.7 825.0,555.8 840.8,546.7" fill="#3f8e4c" /><polygon points="810.6,531.7 825.0,540.1 825.0,553.5 810.6,545.1" fill="#2c6537" stroke="#2c6537" stroke-width="0.7"/><polygon points="839.4,531.7 825.0,540.1 825.0,553.5 839.4,545.1" fill="#27592f" stroke="#27592f" stroke-width="0.7"/><polygon points="809.2,528.3 825.0,537.4 825.0,541.8 809.2,532.7" fill="#52a65d" stroke="#52a65d" stroke-width="0.6"/><polygon points="840.8,528.3 825.0,537.4 825.0,541.8 840.8,532.7" fill="#428c4d" stroke="#428c4d" stroke-width="0.6"/><polygon points="825.0,519.1 840.8,528.3 825.0,537.4 809.2,528.3" fill="#5cb869" /><polygon points="825.0,520.8 838.0,528.3 825.0,535.8 812.0,528.3" fill="#2c6636" /><polygon points="812.0,528.3 825.0,520.8 825.0,531.5 825.0,535.8" fill="#3b7f46" /><polygon points="825.0,520.8 838.0,528.3 825.0,535.8 825.0,531.5" fill="#2e6838" /><polygon points="789.2,557.9 805.0,567.0 805.0,569.1 789.2,560.0" fill="#4aa158" /><polygon points="820.8,557.9 805.0,567.0 805.0,569.1 820.8,560.0" fill="#3f8e4c" /><polygon points="790.6,545.0 805.0,553.4 805.0,566.8 790.6,558.4" fill="#2c6537" stroke="#2c6537" stroke-width="0.7"/><polygon points="819.4,545.0 805.0,553.4 805.0,566.8 819.4,558.4" fill="#27592f" stroke="#27592f" stroke-width="0.7"/><polygon points="789.2,541.6 805.0,550.7 805.0,555.1 789.2,546.0" fill="#52a65d" stroke="#52a65d" stroke-width="0.6"/><polygon points="820.8,541.6 805.0,550.7 805.0,555.1 820.8,546.0" fill="#428c4d" stroke="#428c4d" stroke-width="0.6"/><polygon points="805.0,532.4 820.8,541.6 805.0,550.7 789.2,541.6" fill="#5cb869" /><polygon points="805.0,534.1 818.0,541.6 805.0,549.1 792.0,541.6" fill="#2c6636" /><polygon points="792.0,541.6 805.0,534.1 805.0,544.8 805.0,549.1" fill="#3b7f46" /><polygon points="805.0,534.1 818.0,541.6 805.0,549.1 805.0,544.8" fill="#2e6838" /><polygon points="828.7,557.9 844.5,567.0 844.5,569.1 828.7,560.0" fill="#4aa158" /><polygon points="860.3,557.9 844.5,567.0 844.5,569.1 860.3,560.0" fill="#3f8e4c" /><polygon points="830.1,545.0 844.5,553.4 844.5,566.8 830.1,558.4" fill="#2c6537" stroke="#2c6537" stroke-width="0.7"/><polygon points="858.9,545.0 844.5,553.4 844.5,566.8 858.9,558.4" fill="#27592f" stroke="#27592f" stroke-width="0.7"/><polygon points="828.7,541.6 844.5,550.7 844.5,555.1 828.7,546.0" fill="#52a65d" stroke="#52a65d" stroke-width="0.6"/><polygon points="860.3,541.6 844.5,550.7 844.5,555.1 860.3,546.0" fill="#428c4d" stroke="#428c4d" stroke-width="0.6"/><polygon points="844.5,532.4 860.3,541.6 844.5,550.7 828.7,541.6" fill="#5cb869" /><polygon points="844.5,534.1 857.5,541.6 844.5,549.1 831.5,541.6" fill="#2c6636" /><polygon points="831.5,541.6 844.5,534.1 844.5,544.8 844.5,549.1" fill="#3b7f46" /><polygon points="844.5,534.1 857.5,541.6 844.5,549.1 844.5,544.8" fill="#2e6838" /><polygon points="807.6,569.6 823.4,578.7 823.4,580.8 807.6,571.7" fill="#4aa158" /><polygon points="839.2,569.6 823.4,578.7 823.4,580.8 839.2,571.7" fill="#3f8e4c" /><polygon points="809.0,556.7 823.4,565.1 823.4,578.5 809.0,570.1" fill="#2c6537" stroke="#2c6537" stroke-width="0.7"/><polygon points="837.8,556.7 823.4,565.1 823.4,578.5 837.8,570.1" fill="#27592f" stroke="#27592f" stroke-width="0.7"/><polygon points="807.6,553.3 823.4,562.4 823.4,566.8 807.6,557.7" fill="#52a65d" stroke="#52a65d" stroke-width="0.6"/><polygon points="839.2,553.3 823.4,562.4 823.4,566.8 839.2,557.7" fill="#428c4d" stroke="#428c4d" stroke-width="0.6"/><polygon points="823.4,544.1 839.2,553.3 823.4,562.4 807.6,553.3" fill="#5cb869" /><polygon points="823.4,545.8 836.4,553.3 823.4,560.8 810.4,553.3" fill="#2c6636" /><polygon points="810.4,553.3 823.4,545.8 823.4,556.5 823.4,560.8" fill="#3b7f46" /><polygon points="823.4,545.8 836.4,553.3 823.4,560.8 823.4,556.5" fill="#2e6838" /><polygon points="757.5,578.0 773.3,587.1 773.3,589.2 757.5,580.1" fill="#4aa158" /><polygon points="789.1,578.0 773.3,587.1 773.3,589.2 789.1,580.1" fill="#3f8e4c" /><polygon points="758.9,565.1 773.3,573.5 773.3,586.9 758.9,578.5" fill="#2c6537" stroke="#2c6537" stroke-width="0.7"/><polygon points="787.7,565.1 773.3,573.5 773.3,586.9 787.7,578.5" fill="#27592f" stroke="#27592f" stroke-width="0.7"/><polygon points="757.5,561.7 773.3,570.9 773.3,575.2 757.5,566.1" fill="#52a65d" stroke="#52a65d" stroke-width="0.6"/><polygon points="789.1,561.7 773.3,570.9 773.3,575.2 789.1,566.1" fill="#428c4d" stroke="#428c4d" stroke-width="0.6"/><polygon points="773.3,552.6 789.1,561.7 773.3,570.9 757.5,561.7" fill="#5cb869" /><polygon points="773.3,554.2 786.3,561.7 773.3,569.2 760.3,561.7" fill="#2c6636" /><polygon points="760.3,561.7 773.3,554.2 773.3,564.9 773.3,569.2" fill="#3b7f46" /><polygon points="773.3,554.2 786.3,561.7 773.3,569.2 773.3,564.9" fill="#2e6838" /><polygon points="737.5,591.3 753.3,600.4 753.3,602.5 737.5,593.4" fill="#4aa158" /><polygon points="769.1,591.3 753.3,600.4 753.3,602.5 769.1,593.4" fill="#3f8e4c" /><polygon points="738.9,578.4 753.3,586.8 753.3,600.2 738.9,591.8" fill="#2c6537" stroke="#2c6537" stroke-width="0.7"/><polygon points="767.7,578.4 753.3,586.8 753.3,600.2 767.7,591.8" fill="#27592f" stroke="#27592f" stroke-width="0.7"/><polygon points="737.5,575.0 753.3,584.1 753.3,588.5 737.5,579.4" fill="#52a65d" stroke="#52a65d" stroke-width="0.6"/><polygon points="769.1,575.0 753.3,584.1 753.3,588.5 769.1,579.4" fill="#428c4d" stroke="#428c4d" stroke-width="0.6"/><polygon points="753.3,565.9 769.1,575.0 753.3,584.1 737.5,575.0" fill="#5cb869" /><polygon points="753.3,567.5 766.3,575.0 753.3,582.5 740.3,575.0" fill="#2c6636" /><polygon points="740.3,575.0 753.3,567.5 753.3,578.2 753.3,582.5" fill="#3b7f46" /><polygon points="753.3,567.5 766.3,575.0 753.3,582.5 753.3,578.2" fill="#2e6838" /><polygon points="777.0,591.3 792.8,600.4 792.8,602.5 777.0,593.4" fill="#4aa158" /><polygon points="808.6,591.3 792.8,600.4 792.8,602.5 808.6,593.4" fill="#3f8e4c" /><polygon points="778.4,578.4 792.8,586.8 792.8,600.2 778.4,591.8" fill="#2c6537" stroke="#2c6537" stroke-width="0.7"/><polygon points="807.2,578.4 792.8,586.8 792.8,600.2 807.2,591.8" fill="#27592f" stroke="#27592f" stroke-width="0.7"/><polygon points="777.0,575.0 792.8,584.1 792.8,588.5 777.0,579.4" fill="#52a65d" stroke="#52a65d" stroke-width="0.6"/><polygon points="808.6,575.0 792.8,584.1 792.8,588.5 808.6,579.4" fill="#428c4d" stroke="#428c4d" stroke-width="0.6"/><polygon points="792.8,565.9 808.6,575.0 792.8,584.1 777.0,575.0" fill="#5cb869" /><polygon points="792.8,567.5 805.8,575.0 792.8,582.5 779.8,575.0" fill="#2c6636" /><polygon points="779.8,575.0 792.8,567.5 792.8,578.2 792.8,582.5" fill="#3b7f46" /><polygon points="792.8,567.5 805.8,575.0 792.8,582.5 792.8,578.2" fill="#2e6838" /><polygon points="755.9,603.0 771.7,612.1 771.7,614.2 755.9,605.1" fill="#4aa158" /><polygon points="787.5,603.0 771.7,612.1 771.7,614.2 787.5,605.1" fill="#3f8e4c" /><polygon points="757.3,590.1 771.7,598.5 771.7,611.9 757.3,603.5" fill="#2c6537" stroke="#2c6537" stroke-width="0.7"/><polygon points="786.1,590.1 771.7,598.5 771.7,611.9 786.1,603.5" fill="#27592f" stroke="#27592f" stroke-width="0.7"/><polygon points="755.9,586.7 771.7,595.9 771.7,600.2 755.9,591.1" fill="#52a65d" stroke="#52a65d" stroke-width="0.6"/><polygon points="787.5,586.7 771.7,595.9 771.7,600.2 787.5,591.1" fill="#428c4d" stroke="#428c4d" stroke-width="0.6"/><polygon points="771.7,577.6 787.5,586.7 771.7,595.9 755.9,586.7" fill="#5cb869" /><polygon points="771.7,579.2 784.7,586.7 771.7,594.2 758.7,586.7" fill="#2c6636" /><polygon points="758.7,586.7 771.7,579.2 771.7,589.9 771.7,594.2" fill="#3b7f46" /><polygon points="771.7,579.2 784.7,586.7 771.7,594.2 771.7,589.9" fill="#2e6838" /><g transform="translate(853.3,0) scale(-1,1) translate(-853.3,0)"><polygon points="841.8,549.0 865.8,549.0 866.3,575.0 866.8,606.0 859.3,606.0 855.8,569.0 850.3,598.0 841.8,595.0" fill="#1f2566" /><ellipse cx="850.3" cy="597.0" rx="7.5" ry="3.4" fill="#2b1b1b" transform="rotate(-25 850.3 597.0)"/><ellipse cx="867.3" cy="606.5" rx="7.5" ry="3.4" fill="#2b1b1b" transform="rotate(-20 867.3 606.5)"/><polygon points="842.3,543.0 866.3,543.0 866.3,552.0 842.3,552.0" fill="#3a3436" /><polygon points="839.3,507.0 848.3,503.0 860.3,503.0 867.3,508.0 872.3,518.0 867.3,521.0 865.3,515.0 842.3,515.0 837.3,515.0" fill="#3a3a3c" stroke="#3a3a3c" stroke-width="1.5" stroke-linejoin="round"/><polygon points="841.3,506.0 847.8,504.5 853.8,507.0 859.8,504.5 865.8,507.0 866.3,546.0 841.8,546.0" fill="#d3262b" /><polygon points="843.5,506.0 845.9,505.6 846.7,535.0 844.1,535.0" fill="#f2dc27" /><polygon points="858.7,505.6 861.1,506.0 860.7,535.0 858.3,535.0" fill="#f2dc27" /><polygon points="841.7,535.0 866.3,535.0 866.3,541.0 841.7,541.0" fill="#f2dc27" /><rect x="850.3" y="500.0" width="7.0" height="6.0" fill="#e3ddb0" /><ellipse cx="853.8" cy="496.0" rx="6.0" ry="7.2" fill="#1c1919" /><ellipse cx="858.5" cy="497.5" rx="2.2" ry="4.5" fill="#e3ddb0" /><ellipse cx="853.3" cy="488.6" rx="6.9" ry="3.6" fill="#e3d62f" /><path d="M846.4,488.8 l13.8,0 l0,2.2 q-6.5,1.6 -13.8,0 Z" fill="#e3d62f" /><polyline points="865.3,511.0 869.3,495.0 871.3,482.0" fill="none" stroke="#e3ddb0" stroke-width="4.0" stroke-linecap="round" stroke-linejoin="round"/><polyline points="864.3,510.0 867.3,503.0" fill="none" stroke="#3a3a3c" stroke-width="6.6" stroke-linecap="round" stroke-linejoin="round"/><circle cx="871.3" cy="482.0" r="2.9" fill="#e3ddb0" /><polyline points="842.3,507.0 845.3,493.0 851.3,477.0" fill="none" stroke="#e3ddb0" stroke-width="4.0" stroke-linecap="round" stroke-linejoin="round"/><polyline points="842.3,509.0 843.3,501.0" fill="none" stroke="#3a3a3c" stroke-width="6.6" stroke-linecap="round" stroke-linejoin="round"/><circle cx="851.3" cy="477.0" r="2.9" fill="#e3ddb0" /></g><polyline points="867.5,65.5 679.5,65.5 679.5,172.0" fill="none" stroke="#0c0c0c" stroke-width="3.4" stroke-dasharray="4.2 3.6"/><circle cx="679.5" cy="178.8" r="7.5" fill="#0c0c0c" /><polyline points="862.5,203.5 720.0,203.5 720.0,352.0" fill="none" stroke="#0c0c0c" stroke-width="3.4" stroke-dasharray="4.2 3.6"/><circle cx="720.5" cy="358.8" r="7.3" fill="#0c0c0c" /><polyline points="310.0,341.0 512.5,341.0 512.5,238.0" fill="none" stroke="#0c0c0c" stroke-width="3.4" stroke-dasharray="4.2 3.6"/><circle cx="512.5" cy="231.5" r="7.3" fill="#0c0c0c" /><polyline points="313.8,550.0 515.5,550.0 515.5,447.0" fill="none" stroke="#0c0c0c" stroke-width="3.4" stroke-dasharray="4.2 3.6"/><circle cx="515.5" cy="440.0" r="7.5" fill="#0c0c0c" />
</g>
<g id="labels"><path d="M890.0,46.0 L1141.0,46.0 L1176.0,66.7 L1141.0,85.0 L890.0,85.0 Q884.0,85.0 884.0,79.0 L884.0,52.0 Q884.0,46.0 890.0,46.0 Z" fill="#8c8c8c" /><path d="M885.0,39.0 L1136.0,39.0 L1171.0,59.7 L1136.0,78.0 L885.0,78.0 Q879.0,78.0 879.0,72.0 L879.0,45.0 Q879.0,39.0 885.0,39.0 Z" fill="#2f4f8a" /><path d="M885.0,39.0 L1128.0,39.0 L1114.0,45.0 Q994.6,49.0 881.0,74.0 L879.0,45.0 Q879.0,39.0 885.0,39.0 Z" fill="#4a6aa6" opacity="0.55"/><text x="886.0" y="64.6" font-size="20.5" fill="#ffffff" textLength="249.0" lengthAdjust="spacingAndGlyphs" >Lorem ipsum dolor sit amet,</text><text x="896.0" y="105.0" font-size="15.2" fill="#1f3338" >Lorem ipsum dolor sit amet, consec-</text><text x="896.0" y="132.0" font-size="15.2" fill="#1f3338" >tetur adipisicing elit, sed do</text><text x="896.0" y="160.0" font-size="15.2" fill="#1f3338" >eiusmod tempor incididunt ut labore</text><path d="M890.0,186.0 L1141.0,186.0 L1176.0,206.7 L1141.0,225.0 L890.0,225.0 Q884.0,225.0 884.0,219.0 L884.0,192.0 Q884.0,186.0 890.0,186.0 Z" fill="#8c8c8c" /><path d="M885.0,179.0 L1136.0,179.0 L1171.0,199.7 L1136.0,218.0 L885.0,218.0 Q879.0,218.0 879.0,212.0 L879.0,185.0 Q879.0,179.0 885.0,179.0 Z" fill="#d4584a" /><path d="M885.0,179.0 L1128.0,179.0 L1114.0,185.0 Q994.6,189.0 881.0,214.0 L879.0,185.0 Q879.0,179.0 885.0,179.0 Z" fill="#e07a6c" opacity="0.55"/><text x="886.0" y="204.6" font-size="20.5" fill="#ffffff" textLength="249.0" lengthAdjust="spacingAndGlyphs" >Lorem ipsum dolor sit amet,</text><text x="896.0" y="245.0" font-size="15.2" fill="#1f3338" >Lorem ipsum dolor sit amet, consec-</text><text x="896.0" y="272.0" font-size="15.2" fill="#1f3338" >tetur adipisicing elit, sed do</text><text x="896.0" y="299.4" font-size="15.2" fill="#1f3338" >eiusmod tempor incididunt ut labore</text><path d="M35.0,274.0 L286.0,274.0 L321.0,294.7 L286.0,313.0 L35.0,313.0 Q29.0,313.0 29.0,307.0 L29.0,280.0 Q29.0,274.0 35.0,274.0 Z" fill="#8c8c8c" /><path d="M30.0,267.0 L281.0,267.0 L316.0,287.7 L281.0,306.0 L30.0,306.0 Q24.0,306.0 24.0,300.0 L24.0,273.0 Q24.0,267.0 30.0,267.0 Z" fill="#8680c0" /><path d="M30.0,267.0 L273.0,267.0 L259.0,273.0 Q139.7,277.0 26.0,302.0 L24.0,273.0 Q24.0,267.0 30.0,267.0 Z" fill="#a09ad2" opacity="0.55"/><text x="31.7" y="292.6" font-size="20.5" fill="#ffffff" textLength="249.0" lengthAdjust="spacingAndGlyphs" >Lorem ipsum dolor sit amet,</text><text x="41.6" y="333.0" font-size="15.2" fill="#1f3338" >Lorem ipsum dolor sit amet, consec-</text><text x="41.6" y="359.5" font-size="15.2" fill="#1f3338" >tetur adipisicing elit, sed do</text><text x="41.6" y="387.3" font-size="15.2" fill="#1f3338" >eiusmod tempor incididunt ut labore</text><path d="M38.0,472.0 L289.0,472.0 L324.0,492.7 L289.0,511.0 L38.0,511.0 Q32.0,511.0 32.0,505.0 L32.0,478.0 Q32.0,472.0 38.0,472.0 Z" fill="#8c8c8c" /><path d="M33.0,465.0 L284.0,465.0 L319.0,485.7 L284.0,504.0 L33.0,504.0 Q27.0,504.0 27.0,498.0 L27.0,471.0 Q27.0,465.0 33.0,465.0 Z" fill="#cbd640" /><path d="M33.0,465.0 L276.0,465.0 L262.0,471.0 Q142.7,475.0 29.0,500.0 L27.0,471.0 Q27.0,465.0 33.0,465.0 Z" fill="#dbe36a" opacity="0.55"/><text x="34.0" y="490.6" font-size="20.5" fill="#ffffff" textLength="249.0" lengthAdjust="spacingAndGlyphs" >Lorem ipsum dolor sit amet,</text><text x="44.0" y="530.0" font-size="15.2" fill="#1f3338" >Lorem ipsum dolor sit amet, consec-</text><text x="44.0" y="557.6" font-size="15.2" fill="#1f3338" >tetur adipisicing elit, sed do</text><text x="44.0" y="584.5" font-size="15.2" fill="#1f3338" >eiusmod tempor incididunt ut labore</text></g>
<g id="bars"><rect x="24.9" y="660.0" width="26.0" height="157.5" fill="#ffffff" opacity="0.85"/><rect x="27.4" y="662.5" width="21.0" height="152.5" fill="#e0e0e0" /><rect x="27.4" y="777.3" width="21.0" height="37.7" fill="#b9b24e" /><text x="37.9" y="652.8" font-size="16.5" fill="#3a2a3a" text-anchor="middle">10</text><rect x="62.5" y="660.0" width="26.0" height="157.5" fill="#ffffff" opacity="0.85"/><rect x="65.0" y="662.5" width="21.0" height="152.5" fill="#e0e0e0" /><rect x="65.0" y="738.3" width="21.0" height="76.7" fill="#3b6745" /><text x="75.5" y="652.8" font-size="16.5" fill="#3a2a3a" text-anchor="middle">45</text><rect x="100.2" y="660.0" width="26.0" height="157.5" fill="#ffffff" opacity="0.85"/><rect x="102.7" y="662.5" width="21.0" height="152.5" fill="#e0e0e0" /><rect x="102.7" y="758.2" width="21.0" height="56.8" fill="#3a6b5c" /><text x="113.2" y="652.8" font-size="16.5" fill="#3a2a3a" text-anchor="middle">30</text><rect x="137.8" y="660.0" width="26.0" height="157.5" fill="#ffffff" opacity="0.85"/><rect x="140.3" y="662.5" width="21.0" height="152.5" fill="#e0e0e0" /><rect x="140.3" y="710.0" width="21.0" height="105.0" fill="#d35041" /><text x="150.8" y="652.8" font-size="16.5" fill="#3a2a3a" text-anchor="middle">60</text><rect x="174.9" y="660.0" width="26.0" height="157.5" fill="#ffffff" opacity="0.85"/><rect x="177.4" y="662.5" width="21.0" height="152.5" fill="#e0e0e0" /><rect x="177.4" y="792.8" width="21.0" height="22.2" fill="#f7cb80" /><text x="187.9" y="652.8" font-size="16.5" fill="#3a2a3a" text-anchor="middle">5</text><rect x="212.5" y="660.0" width="26.0" height="157.5" fill="#ffffff" opacity="0.85"/><rect x="215.0" y="662.5" width="21.0" height="152.5" fill="#e0e0e0" /><rect x="215.0" y="729.7" width="21.0" height="85.3" fill="#d35041" /><text x="225.5" y="652.8" font-size="16.5" fill="#3a2a3a" text-anchor="middle">50</text><rect x="250.2" y="660.0" width="26.0" height="157.5" fill="#ffffff" opacity="0.85"/><rect x="252.7" y="662.5" width="21.0" height="152.5" fill="#e0e0e0" /><rect x="252.7" y="690.4" width="21.0" height="124.6" fill="#8f2027" /><text x="263.2" y="652.8" font-size="16.5" fill="#3a2a3a" text-anchor="middle">75</text></g>
<g id="pct"><rect x="299.0" y="648.2" width="91.0" height="7.5" fill="#e0e0e0" /><rect x="299.0" y="648.2" width="17.2" height="7.5" fill="#7b7aa8" /><rect x="299.0" y="666.2" width="91.5" height="53.6" fill="#dddbd9" /><text x="347.5" y="692.7" font-size="28.5" fill="#111111" text-anchor="middle" font-weight="bold" letter-spacing="-0.8">15%</text><text x="344.5" y="708.8" font-size="12.2" fill="#3b2a3c" textLength="73.8" lengthAdjust="spacingAndGlyphs" text-anchor="middle" stroke="#3b2a3c" stroke-width="0.5">LOLEM IPSUM</text><rect x="416.0" y="648.2" width="91.0" height="7.5" fill="#e0e0e0" /><rect x="416.0" y="648.2" width="45.2" height="7.5" fill="#d24d40" /><rect x="416.0" y="666.2" width="91.5" height="53.6" fill="#dddbd9" /><text x="464.5" y="692.7" font-size="28.5" fill="#111111" text-anchor="middle" font-weight="bold" letter-spacing="-0.8">50%</text><text x="461.5" y="708.8" font-size="12.2" fill="#3b2a3c" textLength="73.8" lengthAdjust="spacingAndGlyphs" text-anchor="middle" stroke="#3b2a3c" stroke-width="0.5">LOLEM IPSUM</text><rect x="533.0" y="648.2" width="91.0" height="7.5" fill="#e0e0e0" /><rect x="533.0" y="648.2" width="76.4" height="7.5" fill="#ecb981" /><rect x="533.0" y="666.2" width="91.5" height="53.6" fill="#dddbd9" /><text x="581.5" y="692.7" font-size="28.5" fill="#111111" text-anchor="middle" font-weight="bold" letter-spacing="-0.8">95%</text><text x="578.5" y="708.8" font-size="12.2" fill="#3b2a3c" textLength="73.8" lengthAdjust="spacingAndGlyphs" text-anchor="middle" stroke="#3b2a3c" stroke-width="0.5">LOLEM IPSUM</text><text x="299.6" y="744.3" font-size="11.4" fill="#4a3a4a" >Lorem ipsum dolor sit amet, consectetur adipisicing elit, sed do</text><text x="299.6" y="764.7" font-size="11.4" fill="#4a3a4a" >eiusmod tempor incididunt ut labore et dolore magna aliqua. Ut</text><text x="299.6" y="785.2" font-size="11.4" fill="#4a3a4a" >enim ad minim veniam, quis nostrud exercitation ullamco laboris</text><text x="299.6" y="805.6" font-size="11.4" fill="#4a3a4a" >nisi ut aliquip ex ea commodo consequat</text></g>
<g id="donut"><circle cx="719.5" cy="736.7" r="79.0" fill="none" stroke="#fbfbfb" stroke-width="19.4"/><circle cx="719.5" cy="736.7" r="57.5" fill="none" stroke="#fbfbfb" stroke-width="19.2"/><circle cx="719.5" cy="736.7" r="32.5" fill="none" stroke="#fbfbfb" stroke-width="18.8"/><circle cx="719.5" cy="736.7" r="79.0" fill="none" stroke="#e0e0e0" stroke-width="14.4"/><path d="M743.91,811.83 A79.00,79.00 0 1 1 776.90,682.42" fill="none" stroke="#f0bb85" stroke-width="14.4"/><circle cx="719.5" cy="736.7" r="57.5" fill="none" stroke="#e0e0e0" stroke-width="14.2"/><path d="M737.27,791.39 A57.50,57.50 0 1 1 732.73,680.74" fill="none" stroke="#edb04c" stroke-width="14.2"/><circle cx="719.5" cy="736.7" r="32.5" fill="none" stroke="#e0e0e0" stroke-width="13.8"/><path d="M729.54,767.61 A32.50,32.50 0 1 1 751.94,738.63" fill="none" stroke="#d85040" stroke-width="13.8"/><text x="731.3" y="770.9" font-size="17.5" fill="#43304a" textLength="36.0" lengthAdjust="spacingAndGlyphs" font-weight="bold" stroke="#ffffff" stroke-width="2.5" paint-order="stroke" stroke-opacity="0.7">95%</text><text x="739.6" y="795.7" font-size="17.5" fill="#43304a" textLength="35.0" lengthAdjust="spacingAndGlyphs" font-weight="bold" stroke="#ffffff" stroke-width="2.5" paint-order="stroke" stroke-opacity="0.7">50%</text><text x="745.0" y="817.4" font-size="17.5" fill="#43304a" textLength="33.5" lengthAdjust="spacingAndGlyphs" font-weight="bold" stroke="#ffffff" stroke-width="2.5" paint-order="stroke" stroke-opacity="0.7">15%</text></g>
<g id="timeline"><line x1="817.3" y1="711.7" x2="1178.3" y2="711.7" stroke="#561f45" stroke-width="4" stroke-linecap="round"/><line x1="997.7" y1="601.7" x2="997.7" y2="711.7" stroke="#561f45" stroke-width="2.8" stroke-linecap="round"/><line x1="1112.3" y1="711.7" x2="1112.3" y2="814.0" stroke="#561f45" stroke-width="2.8" stroke-linecap="round"/><circle cx="888.3" cy="711.7" r="20.2" fill="none" stroke="#561f45" stroke-width="3"/><circle cx="888.3" cy="711.7" r="11.0" fill="#561f45" /><circle cx="997.7" cy="711.7" r="33.0" fill="none" stroke="#561f45" stroke-width="3"/><circle cx="997.7" cy="711.7" r="16.7" fill="#561f45" /><circle cx="1112.3" cy="711.7" r="20.2" fill="none" stroke="#561f45" stroke-width="3"/><circle cx="1112.3" cy="711.7" r="11.0" fill="#561f45" /><text x="1008.3" y="616.7" font-size="11.45" fill="#4a3a4a" >Lorem ipsum dolor sit amet,</text><text x="1008.3" y="636.7" font-size="11.45" fill="#4a3a4a" >consectetur adipisicing elit, sed do</text><text x="1008.3" y="656.7" font-size="11.45" fill="#4a3a4a" >eiusmod tempor incididunt ut labore</text><text x="1102.7" y="768.3" font-size="11.4" fill="#4a3a4a" text-anchor="end">Lorem ipsum dolor sit amet, consectetur adipisicing</text><text x="1102.7" y="789.0" font-size="11.4" fill="#4a3a4a" text-anchor="end">elit, sed do eiusmod tempor incididunt ut labore et</text><text x="1102.7" y="810.0" font-size="11.4" fill="#4a3a4a" text-anchor="end">dolore magna aliqua. Ut enim ad minim veniam,</text></g>
<g id="wm"><rect x="10.0" y="778.3" width="449.6" height="58.7" fill="#000000" opacity="0.3"/><text x="24.0" y="818.0" font-size="24.5" fill="#ffffff" textLength="417.0" lengthAdjust="spacingAndGlyphs" >图片来源: Veer图库 www.veer.com</text></g>
</svg>
</body></html>
